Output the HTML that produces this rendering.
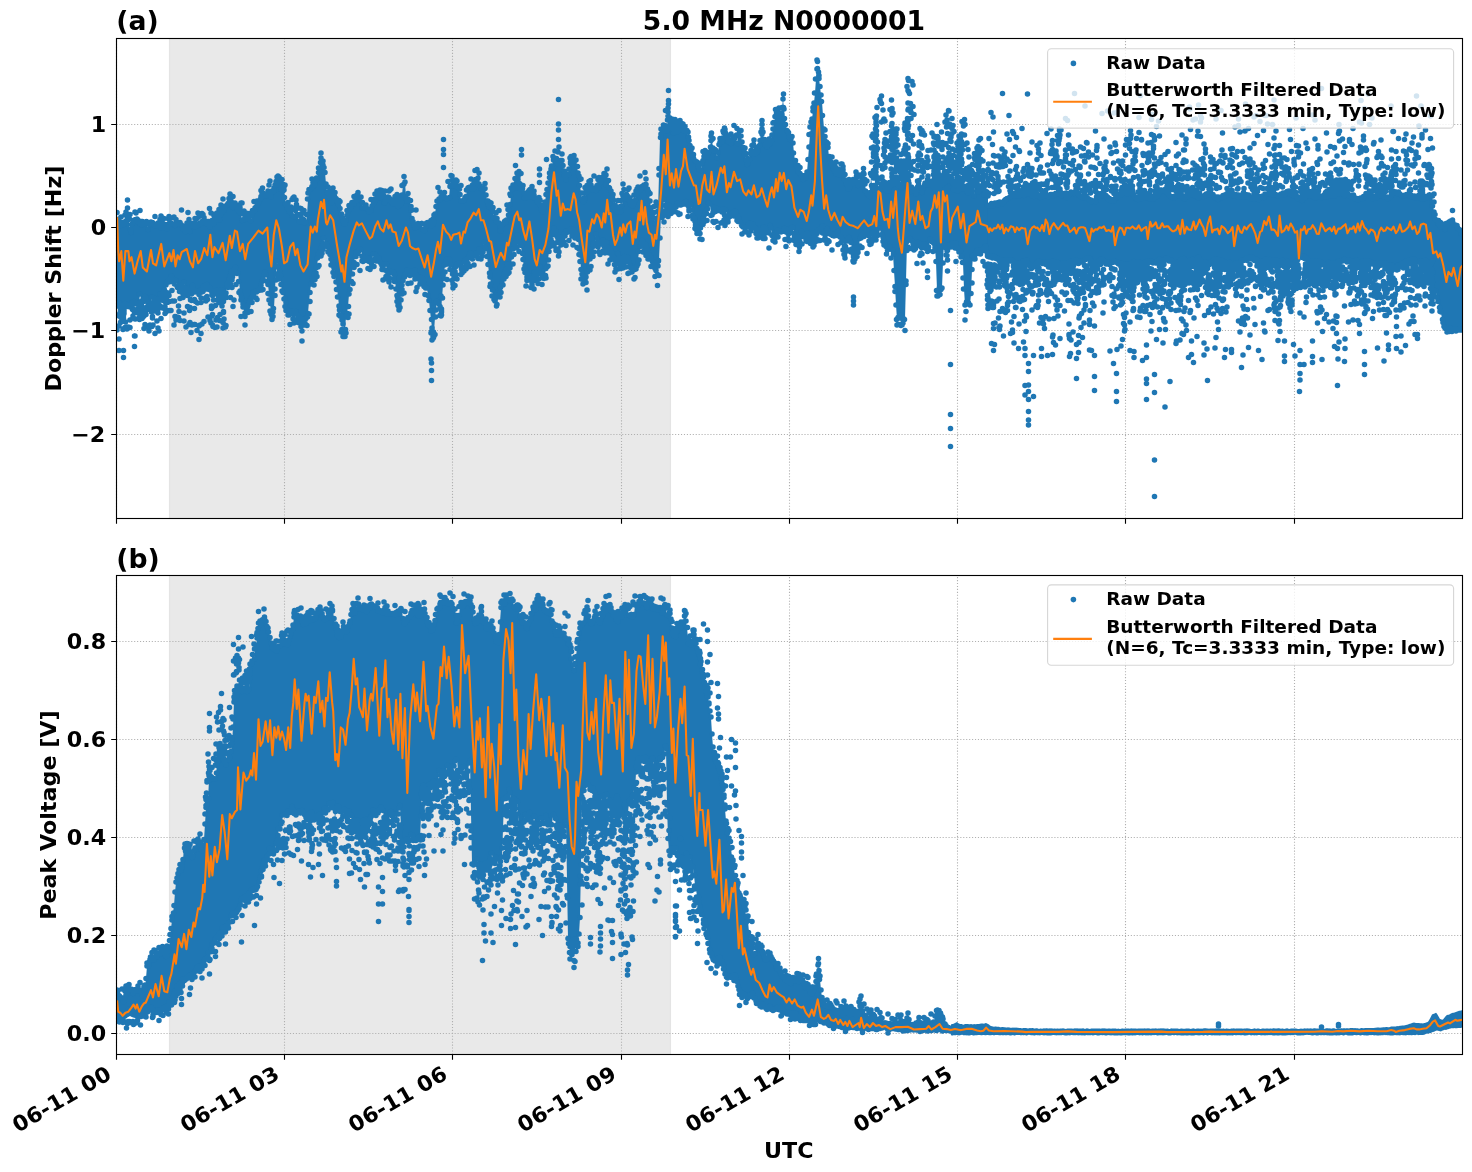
<!DOCTYPE html>
<html lang="en">
<head>
<meta charset="utf-8">
<title>5.0 MHz N0000001</title>
<style>
html,body{margin:0;padding:0;background:#fff;}
body{width:1472px;height:1172px;overflow:hidden;}
svg{display:block;}
svg text{font-family:"DejaVu Sans","Liberation Sans",sans-serif;font-weight:bold;fill:#000;}
</style>
</head>
<body>
<svg width="1472" height="1172" viewBox="0 0 1472 1172">
<rect width="1472" height="1172" fill="#fff"/>
<g id="panel-a">
<rect x="116.5" y="38.5" width="1346.0" height="480.0" fill="#fff"/>
<clipPath id="ca"><rect x="116.5" y="38.5" width="1346.0" height="480.0"/></clipPath>
<rect x="169.5" y="36.5" width="501.0" height="484.0" fill="#d3d3d3" fill-opacity="0.5" stroke="#d3d3d3" stroke-opacity="0.5" stroke-width="1.11" clip-path="url(#ca)"/>
<path d="M116.50 518.5V38.5M284.50 518.5V38.5M452.50 518.5V38.5M621.50 518.5V38.5M789.50 518.5V38.5M957.50 518.5V38.5M1125.50 518.5V38.5M1294.50 518.5V38.5M116.5 124.50H1462.5M116.5 227.50H1462.5M116.5 330.50H1462.5M116.5 434.50H1462.5" fill="none" stroke="#b0b0b0" stroke-width="1.11" stroke-dasharray="1.11 1.83"/>
<g clip-path="url(#ca)"><path d="M117 221.1L118 221.6L119 221.8L120 225.8L121 224.4L122 223.3L123 222.6L124 224.3L125 222.2L126 220.9L127 219.8L128 219.7L129 219.2L130 229.6L131 232.4L132 224.6L133 220.6L134 221.7L135 219.5L136 220.3L137 219.2L138 219.8L139 222.5L140 223.9L141 224.9L142 221.7L143 221.6L144 223.7L145 223.2L146 222.6L147 221.4L148 229.6L149 224.7L150 223.8L151 222.1L152 222.4L153 225L154 224L155 225.9L156 225.1L157 225.5L158 223.1L159 223.1L160 224.3L161 228L162 223.2L163 226.3L164 227.1L165 228L166 224.7L167 229.2L168 224.3L169 223.1L170 223.9L171 223.1L172 223.8L173 223.8L174 224.4L175 225.7L176 223.8L177 222.7L178 223.3L179 222.9L180 222.4L181 224.5L182 225.5L183 228.8L184 228L185 231.4L186 227.1L187 222.8L188 224.3L189 227.6L190 231.3L191 223.3L192 223.4L193 223.3L194 226.4L195 227.2L196 224.4L197 223.3L198 225.3L199 223.5L200 224L201 223L202 221.4L203 221.3L204 220.8L205 222.7L206 223.7L207 221.6L208 221.5L209 225.2L210 227L211 224.1L212 220.4L213 223.4L214 221.2L215 220L216 218.7L217 217.4L218 216.9L219 219.8L220 215.6L221 213.9L222 212.1L223 209.8L224 210.7L225 207.2L226 206.2L227 204.3L228 203.6L229 202.1L230 200.9L231 201.1L232 205.8L233 207.5L234 204.7L235 203.1L236 205.2L237 209.4L238 208.9L239 210.8L240 212L241 213.4L242 220.3L243 220.2L244 219.3L245 217.2L246 216.5L247 218.4L248 217L249 213.3L250 215.7L251 220.3L252 214.8L253 210.5L254 210.3L255 207.9L256 206.9L257 205.2L258 203.9L259 201.9L260 199L261 196.6L262 193.1L263 192.6L264 195.7L265 194.1L266 195.8L267 195.2L268 195.2L269 194.9L270 195L271 196.8L272 191L273 191.6L274 187.8L275 185.2L276 181.4L277 181.7L278 185L279 183.9L280 183.4L281 189.5L282 186.6L283 190.8L284 189.9L285 197.4L286 203.9L287 207.7L288 208L289 211.6L290 210.7L291 211.8L292 215.7L293 216.1L294 217L295 210.4L296 207.4L297 208.5L298 215.1L299 221.6L300 214.3L301 216.7L302 219.3L303 219.5L304 222.9L305 222.4L306 222L307 214.5L308 199.2L309 189.6L310 189.7L311 188.2L312 186.3L313 186.4L314 184.8L315 183.6L316 179.5L317 178.1L318 172.5L319 168L320 162.5L321 157.9L322 162.9L323 164.9L324 167.5L325 172.5L326 183.8L327 192.5L328 191.9L329 194.2L330 197.8L331 202.7L332 198.5L333 195.8L334 197.2L335 196.7L336 198.7L337 200.4L338 202.6L339 204.4L340 208.6L341 213.8L342 218.2L343 221.2L344 223.8L345 224L346 220.7L347 215.6L348 212L349 209.4L350 207.6L351 204.6L352 202.5L353 202.1L354 203.8L355 200.8L356 199.8L357 200.6L358 199.7L359 198.9L360 197.5L361 196.8L362 202.6L363 207.9L364 208.2L365 205.6L366 204.8L367 208.4L368 209.5L369 212L370 210.8L371 210.4L372 205.8L373 203.6L374 199.7L375 201.6L376 200L377 196.5L378 195L379 194.5L380 198.2L381 196.4L382 195.2L383 195.9L384 195.5L385 203.2L386 200.7L387 198.2L388 196.9L389 197.3L390 200.3L391 199.7L392 202.5L393 203.8L394 201.3L395 200L396 201.7L397 204.4L398 206.6L399 204L400 204.6L401 202.7L402 194.8L403 185L404 184L405 182.1L406 196.7L407 201L408 198.9L409 199.8L410 200.6L411 210.6L412 218.5L413 221.3L414 225.6L415 228L416 225.1L417 226.6L418 223.5L419 224.3L420 223.9L421 223.3L422 223.7L423 229.3L424 229.8L425 230.3L426 226.3L427 223L428 222.7L429 222.6L430 225L431 224.5L432 225.4L433 224.4L434 221.8L435 213.8L436 206.7L437 200.8L438 200.6L439 198.9L440 200.1L441 197.2L442 195.1L443 194L444 192.5L445 197.4L446 198.5L447 198.3L448 198L449 197.5L450 186.4L451 185.3L452 180.1L453 180.8L454 185.4L455 185.1L456 186.5L457 186.4L458 185.9L459 188.8L460 194.5L461 201L462 200.8L463 200.8L464 200.3L465 197.7L466 196.3L467 190.2L468 187.9L469 187.6L470 187.1L471 188.3L472 184.8L473 188.5L474 183.4L475 181.6L476 179.5L477 180.4L478 183.6L479 183.9L480 185.8L481 188.8L482 188.2L483 190.1L484 188.3L485 188.4L486 194.9L487 201.1L488 204.5L489 206.8L490 208.2L491 208L492 208.7L493 211.7L494 217.5L495 218.5L496 220.6L497 221.6L498 222.6L499 223.2L500 231L501 227.1L502 224.3L503 224L504 221.5L505 221.2L506 222.5L507 219.8L508 214.9L509 209.8L510 204.7L511 195.7L512 189.5L513 184.8L514 186L515 186.3L516 187.9L517 182.6L518 179.5L519 183.5L520 188.6L521 185L522 187.4L523 188.6L524 193.1L525 198.1L526 197.8L527 196.5L528 196.6L529 196.3L530 196.6L531 196.7L532 196.8L533 197.3L534 194.9L535 197.7L536 199.2L537 201.2L538 202.3L539 202.5L540 205.2L541 208.8L542 210.3L543 212.2L544 208.1L545 202.1L546 194.6L547 189.6L548 182.9L549 177.6L550 173.1L551 168.9L552 166.2L553 159.9L554 159.3L555 161L556 158.5L557 163.7L558 160.4L559 169.3L560 165.9L561 160.4L562 160.3L563 165.7L564 171.1L565 175.7L566 179.8L567 175.7L568 174.4L569 169.1L570 163.7L571 162.1L572 162.3L573 157.7L574 159L575 161.7L576 159.9L577 166.3L578 173.1L579 175.8L580 185.6L581 192.8L582 198.8L583 201.3L584 198.2L585 198.7L586 193.2L587 191.5L588 189.8L589 188.9L590 184.9L591 184.8L592 189.5L593 188.8L594 188.7L595 189.8L596 190.5L597 188.7L598 188.2L599 184.3L600 182L601 182.3L602 178.7L603 176.9L604 177.2L605 178.3L606 184.8L607 182L608 180.7L609 187.3L610 188L611 190.8L612 197.2L613 200.1L614 207L615 208.8L616 210.6L617 212.1L618 211.4L619 210.5L620 211.3L621 206.6L622 206.2L623 196.2L624 195.1L625 195.2L626 198.7L627 194.7L628 196.7L629 200.6L630 203.2L631 204.8L632 206.2L633 204.1L634 201.4L635 199.8L636 194.5L637 192.8L638 191.7L639 191.1L640 190.2L641 187.2L642 186.5L643 186.2L644 185.2L645 185.1L646 184.5L647 188.9L648 191.7L649 193.9L650 201.1L651 207.8L652 213.2L653 215.8L654 212.7L655 223.6L656 218.6L657 211.5L658 210.8L659 175L660 137.6L661 134L662 131.6L663 129L664 125.2L665 125.7L666 129.3L667 131L668 129.5L669 126.5L670 124.3L671 125L672 126.1L673 128.6L674 133L675 130.1L676 127.7L677 129.1L678 131.5L679 127.3L680 128.4L681 124.2L682 123.3L683 123.8L684 130.8L685 126.7L686 131.5L687 130.7L688 136.9L689 140.6L690 145.6L691 150.2L692 155.1L693 154.4L694 158L695 161.2L696 161.3L697 162.1L698 166.7L699 167.8L700 169.9L701 170.4L702 163.3L703 160.3L704 156.5L705 155L706 156.1L707 157.2L708 153.8L709 152L710 147.2L711 140.3L712 139.5L713 148L714 150.8L715 149.5L716 150.6L717 157.8L718 152.4L719 144.5L720 142.2L721 141.1L722 141.9L723 137.6L724 132.3L725 133L726 135.9L727 138.6L728 140.8L729 141.9L730 140.3L731 143.7L732 140.4L733 136.8L734 138.5L735 137.8L736 135.2L737 143.3L738 135.7L739 130.8L740 130.3L741 136.1L742 141.8L743 147.6L744 149.9L745 154.7L746 159.9L747 164.5L748 163.6L749 159.7L750 153.7L751 150.4L752 145.5L753 144.4L754 152.1L755 153.9L756 150.7L757 152.3L758 150.6L759 145.5L760 140.5L761 131.8L762 124.3L763 132.1L764 139.7L765 145.2L766 144.5L767 147L768 143.4L769 144.5L770 143.3L771 140.3L772 134.9L773 128.8L774 122.6L775 116.6L776 113L777 113.9L778 115.5L779 116.2L780 112.8L781 114.1L782 107.6L783 99L784 108.8L785 118.4L786 124.3L787 130.7L788 132.7L789 136.8L790 139.4L791 138.6L792 136.6L793 142.8L794 152.9L795 160.6L796 165.1L797 166.5L798 168.6L799 171.8L800 173.4L801 174.8L802 176.1L803 179.3L804 175.5L805 178.1L806 175.9L807 172.2L808 159.7L809 147L810 133.9L811 126.4L812 118.9L813 110.8L814 102.9L815 92.9L816 78.8L817 69L818 71.8L819 78.3L820 86.4L821 95.2L822 101.3L823 115.7L824 128.8L825 136.4L826 141.3L827 142.2L828 147.6L829 156.6L830 160.2L831 162L832 164.6L833 168.4L834 169.5L835 171.3L836 173.8L837 173.5L838 173.6L839 174.9L840 173.6L841 173L842 171.4L843 169.6L844 175L845 179.6L846 183.3L847 185.4L848 188.8L849 189L850 187L851 184.1L852 183.7L853 183.6L854 182.8L855 180.7L856 179.2L857 181.3L858 185.4L859 182.9L860 183.8L861 181.6L862 178.2L863 174.3L864 174.1L865 184L866 191.2L867 193.6L868 194.7L869 196.2L870 196.4L871 173.6L872 186.9L873 188.4L874 189.2L875 190.2L876 187.1L877 188.5L878 189.5L879 195.3L880 190L881 185.9L882 183.6L883 184.7L884 186.3L885 190L886 183.6L887 186.7L888 191.1L889 190.6L890 187.7L891 185.6L892 181.2L893 183.1L894 179.9L895 179.5L896 183.8L897 181.7L898 183.6L899 185.3L900 185.2L901 188.2L902 185.5L903 182.7L904 182.9L905 180.2L906 181L907 181.4L908 181.6L909 183.5L910 191.2L911 191.4L912 187.2L913 189.4L914 189.1L915 189.8L916 193.9L917 190.4L918 187.2L919 188.2L920 187.5L921 188L922 192.3L923 188.6L924 185.2L925 183.2L926 184.9L927 182.7L928 184.2L929 184.5L930 180.9L931 183.3L932 185.1L933 185.6L934 186.3L935 189.1L936 189.9L937 191L938 187.7L939 188.3L940 188.8L941 191.8L942 184.8L943 183.7L944 181.7L945 182.3L946 180.8L947 180.5L948 178.7L949 179L950 180.8L951 180L952 178.7L953 184L954 189.6L955 185.4L956 183.5L957 185L958 190.8L959 190.2L960 183.1L961 184.8L962 187.3L963 188.8L964 185.8L965 187.6L966 188L967 191.7L968 192.9L969 191.4L970 189.5L971 190.8L972 192.3L973 191L974 196L975 186L976 185L977 185.5L978 191.4L979 189.2L980 185.8L981 186.6L982 188.2L983 188.8L984 194.9L985 192.7L986 190.8L987 192.2L988 195.9L988 254.8L987 252.2L986 249L985 246.2L984 250.7L983 249.7L982 249.4L981 253.9L980 252.9L979 252.8L978 253.5L977 250.2L976 251.9L975 255.4L974 255.1L973 255.9L972 269.7L971 293.6L970 305.2L969 303L968 303.9L967 302.2L966 304.2L965 305.1L964 289L963 262.5L962 256.7L961 257.1L960 250.8L959 251.9L958 249.2L957 247.8L956 242.9L955 244.4L954 243.7L953 244L952 242.9L951 246.9L950 247L949 245.4L948 250.5L947 250.3L946 246.7L945 243.4L944 242L943 262.8L942 287.8L941 289.3L940 289.2L939 287.7L938 290.6L937 290.6L936 261.5L935 247.6L934 243.7L933 242.3L932 241.8L931 241.7L930 238.9L929 247L928 250.3L927 251.4L926 248.6L925 244.1L924 246.5L923 247.3L922 245.9L921 247.4L920 243.7L919 244.6L918 245.3L917 242.7L916 248.4L915 249.1L914 244.7L913 243.3L912 241.6L911 240.4L910 238.4L909 239.1L908 239.9L907 242.1L906 281.1L905 319.6L904 318.8L903 319.4L902 317.5L901 315.6L900 315.3L899 318.2L898 317.3L897 319.5L896 304.8L895 286.5L894 270.7L893 254.2L892 250.1L891 248.8L890 246.5L889 249.2L888 248.9L887 249.9L886 246.6L885 242.5L884 240.7L883 236.9L882 234.5L881 235.1L880 228.2L879 235L878 235.2L877 235.4L876 232L875 234.8L874 235.9L873 232.7L872 233.7L871 239.2L870 241.3L869 240.9L868 235.5L867 234L866 230.5L865 235.5L864 236.5L863 233.6L862 235.6L861 238L860 238.7L859 246L858 249.6L857 250.6L856 247.4L855 253.4L854 257.1L853 256L852 249L851 242.7L850 239L849 237.7L848 239.8L847 241.1L846 246.3L845 250.3L844 248.1L843 240.8L842 238.9L841 237.1L840 236.9L839 235L838 231.7L837 234.4L836 235.5L835 234.5L834 235.8L833 235.6L832 233.9L831 234.3L830 233.4L829 233.4L828 230.6L827 228.4L826 233L825 234.5L824 233.7L823 233L822 226.1L821 229.1L820 231.2L819 229.7L818 231.8L817 233.5L816 234.4L815 232.3L814 234L813 233.1L812 238.6L811 239.6L810 238.5L809 236.3L808 235.6L807 233L806 235.1L805 235.2L804 236.7L803 234.3L802 231.7L801 236.8L800 242L799 242.8L798 240L797 238.5L796 237.2L795 236.8L794 233.6L793 227.5L792 227.3L791 228.5L790 232L789 234L788 233.5L787 229.5L786 232.1L785 228.3L784 228.4L783 230.6L782 231.3L781 231.8L780 231.5L779 231.2L778 230.7L777 232.7L776 234.7L775 235L774 236.3L773 235.3L772 235.7L771 228L770 225.7L769 233.1L768 232.4L767 232.4L766 231.1L765 229.2L764 227.1L763 230.6L762 229.9L761 230.7L760 231.2L759 230.8L758 230.4L757 230.1L756 229.2L755 227.6L754 227.3L753 224.2L752 226.7L751 226.7L750 222.8L749 223.9L748 224.4L747 226.8L746 227.9L745 227.8L744 227.5L743 227L742 226.2L741 224.8L740 222L739 218.7L738 216.6L737 215.5L736 211.9L735 211.1L734 212.1L733 212.5L732 214.2L731 215.2L730 216.6L729 216.5L728 219L727 215.9L726 210L725 215.2L724 208.8L723 209.2L722 211.9L721 210.6L720 210.7L719 210.3L718 208.9L717 208.3L716 211.4L715 212.1L714 207.5L713 213.2L712 215.1L711 215.4L710 203.9L709 202.8L708 209L707 213.7L706 211.5L705 213.7L704 215.4L703 218.2L702 224.3L701 227.8L700 232.9L699 228.4L698 228.7L697 229.9L696 225L695 218.1L694 217.8L693 215.7L692 210L691 204.4L690 207.9L689 207.7L688 205.6L687 204.5L686 201.3L685 204.1L684 203L683 203.8L682 204.3L681 204.8L680 205L679 203.8L678 203.5L677 203.3L676 207L675 206.9L674 207.9L673 207.5L672 208L671 207.4L670 209.1L669 205.2L668 206.8L667 208.5L666 210L665 205.5L664 199.7L663 211L662 212.7L661 215.5L660 237.9L659 260.6L658 261.1L657 262L656 265.4L655 268.6L654 266.7L653 264.2L652 261.7L651 257.3L650 258.8L649 254.6L648 249.8L647 248.2L646 244.8L645 243.9L644 243.6L643 241.7L642 240.4L641 244L640 246.5L639 251.4L638 259.9L637 266.1L636 269.1L635 269.4L634 268.7L633 268.4L632 268.1L631 267.6L630 265.7L629 261.9L628 257.5L627 259.5L626 257.1L625 256.3L624 257.7L623 260.5L622 262.3L621 264.5L620 261.9L619 257.4L618 253.6L617 263.4L616 261.4L615 264.5L614 259.5L613 257.3L612 253.2L611 250.5L610 249.1L609 249.4L608 247.7L607 242.4L606 246.5L605 248.1L604 246L603 239.9L602 243.7L601 244L600 242.4L599 242L598 242.5L597 238.6L596 234.1L595 244.5L594 243.1L593 246.3L592 250.6L591 254.2L590 259L589 267L588 272.1L587 271.7L586 277L585 280.1L584 278.4L583 276.1L582 273.8L581 269.7L580 254.9L579 249.2L578 239.5L577 235.1L576 233.4L575 232.9L574 229.8L573 229.6L572 231.1L571 229.3L570 229.7L569 231.6L568 231.9L567 232.4L566 231L565 236.2L564 234.2L563 237.8L562 240.6L561 239.1L560 237.8L559 237L558 238.3L557 236.4L556 230.9L555 234.1L554 227.9L553 231.7L552 234.9L551 239.6L550 246.6L549 251.4L548 260L547 266.3L546 268.6L545 275.6L544 278.5L543 277L542 277.5L541 274L540 266.5L539 268.9L538 273.4L537 275.1L536 272.5L535 271.8L534 276.9L533 278.6L532 280.8L531 277.9L530 278.9L529 277.2L528 275.5L527 276.9L526 272.5L525 270.3L524 269L523 259.7L522 253.6L521 245.4L520 244L519 241.7L518 236.9L517 235L516 240.4L515 243.2L514 243.7L513 248.9L512 257.2L511 264.1L510 268.1L509 267.1L508 264L507 264.7L506 269.7L505 271.6L504 274.2L503 277.8L502 283.5L501 287.4L500 292.4L499 294.6L498 296.9L497 304.4L496 306.2L495 301.2L494 299.5L493 296.3L492 289.8L491 284.2L490 276.9L489 273.1L488 264.7L487 256.3L486 248.3L485 247.2L484 242.1L483 252.2L482 254.1L481 251.4L480 249.6L479 249.2L478 253L477 254.8L476 253.2L475 254.8L474 255.9L473 256.4L472 256.1L471 253.2L470 254.5L469 255.8L468 258.2L467 259L466 260.2L465 261.4L464 262.1L463 268.4L462 269L461 267.2L460 263.5L459 264.7L458 263.4L457 264.2L456 266.6L455 271.6L454 277L453 283.8L452 274.1L451 264.6L450 262.2L449 259.6L448 263.8L447 258.8L446 261.1L445 265.1L444 274.1L443 285.2L442 298.1L441 311.1L440 306.5L439 303.4L438 303.3L437 301.6L436 309.8L435 317L434 332L433 333.8L432 327.9L431 319.4L430 310.5L429 300.5L428 295.3L427 288.1L426 287.7L425 287.9L424 286.3L423 281.8L422 278.4L421 278.8L420 277.2L419 278.9L418 278.4L417 276.6L416 274.5L415 269.8L414 274.9L413 272.9L412 273.1L411 271.7L410 272.9L409 271.6L408 271.4L407 270L406 274.1L405 274.8L404 277.2L403 280.3L402 285.1L401 290.4L400 299L399 303.9L398 297.1L397 295.3L396 288.9L395 281.4L394 274.4L393 271.9L392 273.2L391 271.3L390 272L389 273.7L388 275L387 271.7L386 264.1L385 270.1L384 264.4L383 267.2L382 265.6L381 263.7L380 262.2L379 258.5L378 258L377 256.2L376 256.2L375 254L374 259.4L373 254.1L372 260.6L371 263.4L370 259.5L369 261.6L368 258.6L367 260.3L366 259.1L365 258.4L364 258.4L363 256.7L362 256.7L361 249.3L360 249.5L359 251.5L358 253.3L357 253.2L356 252.2L355 256.6L354 262.7L353 266.6L352 273.8L351 281.4L350 289.7L349 294.2L348 306.7L347 313.6L346 316.9L345 329.3L344 330.5L343 323.9L342 319.9L341 315.5L340 310L339 305.8L338 296.8L337 289.3L336 281.8L335 275.8L334 268L333 265.2L332 261.4L331 259L330 254.4L329 248.3L328 247.2L327 244.2L326 244.6L325 244.8L324 238.2L323 243.5L322 245.4L321 248L320 251.7L319 253.8L318 258L317 267.6L316 273.1L315 275.7L314 274.1L313 280.1L312 278.7L311 284.2L310 292.3L309 301.5L308 313.3L307 316.9L306 318.7L305 319L304 320.1L303 319.4L302 321.4L301 320.7L300 318.2L299 317.7L298 317.8L297 315.2L296 311.3L295 314.2L294 313.1L293 313.9L292 311.2L291 311.4L290 312.8L289 315.1L288 315.2L287 309.3L286 302.4L285 298.5L284 298.9L283 292.4L282 291.2L281 284.7L280 275.3L279 271L278 266.8L277 261.2L276 274.1L275 289L274 308.5L273 312L272 316.1L271 310.9L270 303.5L269 294.1L268 284.7L267 281.7L266 274.6L265 272L264 274.8L263 278.4L262 281.5L261 285.5L260 289.4L259 290.6L258 290.7L257 291.9L256 291.1L255 292.7L254 292.1L253 293.7L252 296.5L251 298.7L250 300.7L249 302.3L248 305.7L247 307.1L246 309L245 312.9L244 306L243 303.8L242 297.5L241 295.2L240 290.9L239 281.6L238 273.2L237 273.5L236 267.6L235 269.6L234 272.4L233 277L232 274.7L231 271.7L230 276L229 279.1L228 282.5L227 283.9L226 292.8L225 295.7L224 294.9L223 290.5L222 291.6L221 291L220 290.6L219 295.1L218 293.1L217 293L216 290.4L215 291.5L214 294.3L213 294.2L212 294L211 291.1L210 288.2L209 287.1L208 286.5L207 284.5L206 285.3L205 286.1L204 286L203 287.2L202 292.2L201 289.9L200 292.7L199 294.7L198 291.8L197 291.5L196 291.4L195 292.1L194 291.2L193 285.4L192 287.9L191 292L190 292.9L189 291.8L188 289.8L187 291.4L186 288.8L185 287.8L184 282L183 284.8L182 287.7L181 285.4L180 287.4L179 286.7L178 286.4L177 285.8L176 280.5L175 284.1L174 281.8L173 282L172 279.8L171 275.9L170 279.6L169 282.1L168 280.4L167 281.8L166 285L165 289.9L164 292.4L163 294.8L162 296.1L161 295.2L160 293.8L159 298.9L158 300.3L157 301.8L156 302L155 298.6L154 301.5L153 302.7L152 297.2L151 303.8L150 303.3L149 305.7L148 305.8L147 301.9L146 297.5L145 296.5L144 299.7L143 301.7L142 303.9L141 301L140 294.1L139 303.9L138 304.1L137 303.3L136 304L135 301.9L134 301.3L133 302.1L132 304.8L131 307.1L130 306.9L129 305.6L128 306.7L127 306.6L126 304.4L125 303.3L124 305.9L123 307L122 307.8L121 305.4L120 304.5L119 302.6L118 305.4L117 305.8Z" fill="#1f77b4"/>
<path d="M987.5 205.3L988.5 205.6L989.5 206.1L990.5 204.7L991.5 203.7L992.5 204.9L993.5 205.9L994.5 203L995.5 203.9L996.5 203.2L997.5 205.2L998.5 202.4L999.5 202.2L1000.5 202.7L1001.5 202.7L1002.5 203.4L1003.5 201.8L1004.5 200.6L1005.5 199.7L1006.5 198.3L1007.5 198.7L1008.5 198.1L1009.5 196.9L1010.5 195.3L1011.5 194.3L1012.5 193.6L1013.5 195.3L1014.5 194.6L1015.5 192.7L1016.5 195.3L1017.5 196L1018.5 195.4L1019.5 195.5L1020.5 193.8L1021.5 193.6L1022.5 193.3L1023.5 194.6L1024.5 195.7L1025.5 191.8L1026.5 192.2L1027.5 194.2L1028.5 192.8L1029.5 193.6L1030.5 194.2L1031.5 195.3L1032.5 196.2L1033.5 194.2L1034.5 196.3L1035.5 195.1L1036.5 194.4L1037.5 196L1038.5 195.4L1039.5 196.4L1040.5 197.6L1041.5 197.2L1042.5 195.1L1043.5 194.8L1044.5 195.4L1045.5 195.2L1046.5 196L1047.5 195.1L1048.5 196.3L1049.5 195.5L1050.5 194.3L1051.5 195.7L1052.5 194.7L1053.5 195.4L1054.5 195L1055.5 193.7L1056.5 193.9L1057.5 193.1L1058.5 194L1059.5 194.1L1060.5 194.8L1061.5 195.6L1062.5 193.7L1063.5 194.7L1064.5 194.7L1065.5 194.1L1066.5 197.3L1067.5 196.6L1068.5 195.6L1069.5 193.5L1070.5 191.9L1071.5 193L1072.5 192.6L1073.5 193.4L1074.5 192.1L1075.5 191.6L1076.5 192.2L1077.5 193.3L1078.5 194L1079.5 195.6L1080.5 196.6L1081.5 197L1082.5 196.9L1083.5 198.1L1084.5 198L1085.5 197.7L1086.5 195.9L1087.5 197.8L1088.5 198.9L1089.5 199.8L1090.5 200.2L1091.5 201.5L1092.5 201.1L1093.5 201L1094.5 201.2L1095.5 201.5L1096.5 197.2L1097.5 197.6L1098.5 196.6L1099.5 195.6L1100.5 196L1101.5 195L1102.5 195L1103.5 195.2L1104.5 194.4L1105.5 195.4L1106.5 196.8L1107.5 196.8L1108.5 199.6L1109.5 198.3L1110.5 200.4L1111.5 199.5L1112.5 200.2L1113.5 200.7L1114.5 200.8L1115.5 197.9L1116.5 197.8L1117.5 195.6L1118.5 195.3L1119.5 194L1120.5 194.3L1121.5 194.7L1122.5 193.5L1123.5 193.2L1124.5 192.2L1125.5 193.2L1126.5 193.4L1127.5 193.7L1128.5 193L1129.5 191.8L1130.5 192.8L1131.5 192.4L1132.5 192.8L1133.5 194.9L1134.5 196.4L1135.5 197.4L1136.5 198.9L1137.5 198.1L1138.5 199.5L1139.5 199L1140.5 199.2L1141.5 198.4L1142.5 197.4L1143.5 197.6L1144.5 196.7L1145.5 197.3L1146.5 196.7L1147.5 197.8L1148.5 197.2L1149.5 198.8L1150.5 199L1151.5 197.1L1152.5 196.8L1153.5 198.8L1154.5 195.4L1155.5 196.9L1156.5 196.6L1157.5 195.2L1158.5 194L1159.5 192L1160.5 190.2L1161.5 189.8L1162.5 190.7L1163.5 190.3L1164.5 191.2L1165.5 189L1166.5 189L1167.5 190.6L1168.5 192.8L1169.5 195.3L1170.5 196.6L1171.5 196.8L1172.5 197.7L1173.5 196.6L1174.5 197.4L1175.5 196L1176.5 196.1L1177.5 195.4L1178.5 195.5L1179.5 194.6L1180.5 194.6L1181.5 195L1182.5 196.8L1183.5 196.9L1184.5 199.2L1185.5 196.6L1186.5 197.3L1187.5 196.5L1188.5 195.3L1189.5 194.4L1190.5 195.1L1191.5 195.2L1192.5 193.9L1193.5 194.2L1194.5 195.4L1195.5 195.3L1196.5 196.2L1197.5 196.9L1198.5 198.1L1199.5 197.4L1200.5 196.4L1201.5 196L1202.5 196.2L1203.5 196.6L1204.5 196.1L1205.5 193.9L1206.5 194.5L1207.5 193.6L1208.5 194.5L1209.5 194L1210.5 194.8L1211.5 195.1L1212.5 194.6L1213.5 196L1214.5 196.9L1215.5 197.9L1216.5 197.1L1217.5 197.1L1218.5 199.3L1219.5 197.8L1220.5 197.4L1221.5 197.4L1222.5 195.5L1223.5 196.4L1224.5 195L1225.5 196.1L1226.5 194L1227.5 192.3L1228.5 195L1229.5 194.4L1230.5 193.7L1231.5 193.8L1232.5 193.5L1233.5 196.2L1234.5 195.3L1235.5 194.5L1236.5 196.3L1237.5 194.9L1238.5 195.1L1239.5 195.9L1240.5 197.2L1241.5 196.7L1242.5 194.3L1243.5 195.5L1244.5 195.2L1245.5 197.2L1246.5 194.7L1247.5 196.7L1248.5 195.1L1249.5 196.5L1250.5 198.3L1251.5 198.9L1252.5 197.3L1253.5 197.5L1254.5 196L1255.5 197.3L1256.5 198.8L1257.5 197.3L1258.5 199.5L1259.5 196.4L1260.5 197.2L1261.5 197.1L1262.5 196L1263.5 197.5L1264.5 196.1L1265.5 193.8L1266.5 194.3L1267.5 193.8L1268.5 193.6L1269.5 190.5L1270.5 191.5L1271.5 193L1272.5 194.4L1273.5 195.1L1274.5 194.8L1275.5 194.3L1276.5 195.6L1277.5 195.8L1278.5 196L1279.5 195.1L1280.5 194.6L1281.5 193.9L1282.5 192.9L1283.5 194.6L1284.5 194.6L1285.5 194.1L1286.5 192.1L1287.5 191.6L1288.5 192.7L1289.5 192.2L1290.5 193.9L1291.5 194.9L1292.5 194.6L1293.5 195.3L1294.5 194.1L1295.5 194.4L1296.5 196.1L1297.5 198.4L1298.5 197.6L1299.5 197.7L1300.5 196.8L1301.5 200.3L1302.5 197L1303.5 196.7L1304.5 197.2L1305.5 198.2L1306.5 196L1307.5 194.8L1308.5 195.3L1309.5 195.2L1310.5 194.5L1311.5 195.6L1312.5 196.2L1313.5 196.8L1314.5 197.2L1315.5 197.8L1316.5 197.2L1317.5 195L1318.5 195.6L1319.5 196.5L1320.5 196.3L1321.5 197.3L1322.5 196.3L1323.5 195.4L1324.5 194.5L1325.5 197L1326.5 196.4L1327.5 196.6L1328.5 196.1L1329.5 195.2L1330.5 196.2L1331.5 195.8L1332.5 194.6L1333.5 195.9L1334.5 196.2L1335.5 195L1336.5 193.1L1337.5 193L1338.5 193.7L1339.5 192.5L1340.5 192.9L1341.5 192.1L1342.5 193.8L1343.5 193.5L1344.5 195.3L1345.5 194.2L1346.5 194.3L1347.5 193.7L1348.5 195.3L1349.5 195.2L1350.5 195.6L1351.5 197.2L1352.5 196.9L1353.5 194.9L1354.5 198.4L1355.5 197.8L1356.5 199.1L1357.5 199.6L1358.5 200.2L1359.5 198.4L1360.5 197.9L1361.5 198.4L1362.5 198.5L1363.5 196.4L1364.5 196.2L1365.5 195.3L1366.5 194.9L1367.5 194.4L1368.5 193.5L1369.5 193.9L1370.5 194.6L1371.5 197.6L1372.5 198.3L1373.5 196.5L1374.5 196.9L1375.5 197.1L1376.5 197.7L1377.5 195.8L1378.5 195.7L1379.5 195.7L1380.5 195.3L1381.5 196.2L1382.5 195.7L1383.5 196.7L1384.5 197.2L1385.5 196.9L1386.5 197.2L1387.5 198.3L1388.5 197.2L1389.5 197.5L1390.5 196.7L1391.5 193.8L1392.5 193.7L1393.5 191.1L1394.5 192L1395.5 192L1396.5 192L1397.5 193.6L1398.5 192.9L1399.5 193.8L1400.5 194.5L1401.5 195.4L1402.5 195.3L1403.5 195.9L1404.5 194.8L1405.5 195.1L1406.5 194.6L1407.5 195.2L1408.5 195.2L1409.5 196.1L1410.5 195.5L1411.5 196.5L1412.5 196.2L1413.5 196.2L1414.5 195.8L1415.5 198L1416.5 196.3L1417.5 197.6L1418.5 195.6L1419.5 197.4L1420.5 198.2L1421.5 199L1422.5 197.2L1423.5 198.9L1424.5 196.2L1425.5 196.4L1426.5 197.5L1427.5 196.6L1428.5 195.2L1429.5 195.1L1430.5 195L1431.5 195.9L1432.5 196.2L1432.5 261.2L1431.5 262.5L1430.5 263.4L1429.5 263.7L1428.5 263.1L1427.5 261.5L1426.5 261.8L1425.5 260.3L1424.5 261.9L1423.5 262.5L1422.5 261.7L1421.5 261.1L1420.5 261.3L1419.5 261.6L1418.5 262.1L1417.5 261.9L1416.5 262.1L1415.5 262.1L1414.5 259.3L1413.5 260.1L1412.5 259.6L1411.5 259.6L1410.5 259.8L1409.5 260.1L1408.5 260.9L1407.5 261.4L1406.5 260.8L1405.5 260.8L1404.5 262.6L1403.5 263.3L1402.5 263L1401.5 263.9L1400.5 266.4L1399.5 266.5L1398.5 265.4L1397.5 266.7L1396.5 267L1395.5 267.3L1394.5 267.8L1393.5 267.7L1392.5 267.8L1391.5 268.5L1390.5 266.3L1389.5 265.7L1388.5 266.8L1387.5 266.4L1386.5 265.2L1385.5 263.2L1384.5 265L1383.5 263.7L1382.5 263.2L1381.5 265.1L1380.5 265.6L1379.5 263.7L1378.5 265L1377.5 265.3L1376.5 266.3L1375.5 264.4L1374.5 263L1373.5 262.8L1372.5 264.1L1371.5 262.5L1370.5 261.9L1369.5 261.6L1368.5 261L1367.5 261.4L1366.5 261.7L1365.5 262.8L1364.5 261.8L1363.5 262.2L1362.5 261L1361.5 262.4L1360.5 262.7L1359.5 262.3L1358.5 263.3L1357.5 261.5L1356.5 260.1L1355.5 261.7L1354.5 261.8L1353.5 262.4L1352.5 261.7L1351.5 262.4L1350.5 261.7L1349.5 260.4L1348.5 261.2L1347.5 262.2L1346.5 261L1345.5 259.8L1344.5 259.4L1343.5 259.7L1342.5 261.1L1341.5 261.4L1340.5 261.3L1339.5 261.3L1338.5 261.1L1337.5 265.5L1336.5 264.6L1335.5 263.5L1334.5 264.5L1333.5 263L1332.5 263.3L1331.5 263.9L1330.5 263.4L1329.5 263.7L1328.5 262.3L1327.5 264.3L1326.5 265.6L1325.5 265.2L1324.5 264.9L1323.5 265.2L1322.5 263.7L1321.5 262.5L1320.5 261.6L1319.5 261.5L1318.5 261.8L1317.5 261.7L1316.5 261.7L1315.5 262.1L1314.5 261.3L1313.5 261.7L1312.5 260.9L1311.5 262.9L1310.5 262.6L1309.5 263.1L1308.5 261.4L1307.5 259.3L1306.5 258.2L1305.5 258.3L1304.5 258.4L1303.5 256.2L1302.5 257.5L1301.5 256.6L1300.5 257.2L1299.5 255.4L1298.5 258.8L1297.5 259.9L1296.5 262.7L1295.5 262.1L1294.5 262.9L1293.5 264.4L1292.5 264.5L1291.5 264.7L1290.5 264L1289.5 264.8L1288.5 264.4L1287.5 261.5L1286.5 261.9L1285.5 261.9L1284.5 263.3L1283.5 263.3L1282.5 260.7L1281.5 262L1280.5 261.5L1279.5 261.6L1278.5 261L1277.5 261.3L1276.5 260.4L1275.5 260.9L1274.5 260.3L1273.5 262.1L1272.5 260.6L1271.5 260.1L1270.5 259.7L1269.5 262.7L1268.5 262.5L1267.5 261.5L1266.5 259.2L1265.5 259.8L1264.5 261.9L1263.5 262.3L1262.5 262.1L1261.5 261.5L1260.5 261L1259.5 261.6L1258.5 262L1257.5 260.2L1256.5 259.4L1255.5 260.7L1254.5 260.6L1253.5 258.9L1252.5 257.5L1251.5 258.9L1250.5 258.5L1249.5 256.8L1248.5 258.3L1247.5 260.5L1246.5 258.2L1245.5 258.8L1244.5 260.1L1243.5 260.4L1242.5 261.1L1241.5 260.7L1240.5 264.4L1239.5 262.9L1238.5 263.6L1237.5 264.4L1236.5 263L1235.5 262.8L1234.5 265.4L1233.5 264.6L1232.5 265.5L1231.5 265.5L1230.5 264.4L1229.5 262.5L1228.5 262.9L1227.5 264.3L1226.5 263.7L1225.5 262.4L1224.5 263.4L1223.5 263.6L1222.5 260.7L1221.5 260.1L1220.5 260L1219.5 261.2L1218.5 260.1L1217.5 259L1216.5 261L1215.5 260.7L1214.5 259.7L1213.5 260.1L1212.5 261L1211.5 263.3L1210.5 262.1L1209.5 264.5L1208.5 265.1L1207.5 263.7L1206.5 263.2L1205.5 261.9L1204.5 263L1203.5 262.5L1202.5 262.3L1201.5 261.7L1200.5 260.4L1199.5 259.7L1198.5 257L1197.5 258.2L1196.5 260.9L1195.5 260.2L1194.5 261.1L1193.5 260.3L1192.5 259.4L1191.5 260.1L1190.5 259.9L1189.5 260.9L1188.5 260.8L1187.5 260.9L1186.5 261.6L1185.5 260.5L1184.5 259L1183.5 258.7L1182.5 261.1L1181.5 259.7L1180.5 260.7L1179.5 262L1178.5 262L1177.5 263.4L1176.5 265.7L1175.5 265L1174.5 264.4L1173.5 262.1L1172.5 262.2L1171.5 260.4L1170.5 260.9L1169.5 260.9L1168.5 259.9L1167.5 258.4L1166.5 258.9L1165.5 258.2L1164.5 259.9L1163.5 261L1162.5 260.4L1161.5 260.9L1160.5 260.8L1159.5 259.1L1158.5 260.2L1157.5 261.1L1156.5 261.7L1155.5 262.8L1154.5 261.9L1153.5 262.9L1152.5 261.9L1151.5 261.5L1150.5 262.2L1149.5 262.4L1148.5 261.1L1147.5 261L1146.5 262L1145.5 262.5L1144.5 262.5L1143.5 263.5L1142.5 264.8L1141.5 263L1140.5 264.2L1139.5 262.3L1138.5 263.4L1137.5 262.1L1136.5 262.9L1135.5 261.9L1134.5 261.3L1133.5 262.3L1132.5 264.3L1131.5 263.4L1130.5 266L1129.5 265.5L1128.5 267.2L1127.5 267.2L1126.5 265.2L1125.5 265.1L1124.5 263.8L1123.5 265.3L1122.5 263.8L1121.5 263.5L1120.5 263.1L1119.5 263L1118.5 262.9L1117.5 262.9L1116.5 261.8L1115.5 261.8L1114.5 260.9L1113.5 261.3L1112.5 262.6L1111.5 263L1110.5 263.4L1109.5 264.3L1108.5 262.3L1107.5 262.5L1106.5 263.4L1105.5 264L1104.5 261.6L1103.5 260.6L1102.5 259.4L1101.5 258.8L1100.5 260.5L1099.5 262.2L1098.5 261.2L1097.5 261.9L1096.5 262.5L1095.5 263.9L1094.5 264.7L1093.5 262.6L1092.5 262.4L1091.5 260.5L1090.5 258.6L1089.5 259.6L1088.5 259.2L1087.5 258.6L1086.5 258.5L1085.5 259.3L1084.5 259.9L1083.5 261.1L1082.5 262.2L1081.5 261.8L1080.5 261.3L1079.5 262.2L1078.5 263.4L1077.5 263L1076.5 260.5L1075.5 260.6L1074.5 261L1073.5 261.4L1072.5 263.4L1071.5 263.9L1070.5 261.6L1069.5 263L1068.5 263.3L1067.5 263.2L1066.5 264.4L1065.5 264.4L1064.5 263L1063.5 264.2L1062.5 263.6L1061.5 264.2L1060.5 264.1L1059.5 264.2L1058.5 264L1057.5 262.4L1056.5 262.3L1055.5 264L1054.5 262.7L1053.5 262.3L1052.5 261.2L1051.5 261.9L1050.5 263.3L1049.5 264.3L1048.5 262L1047.5 264.5L1046.5 264.3L1045.5 262.4L1044.5 262.8L1043.5 261.9L1042.5 263.3L1041.5 262.4L1040.5 261.5L1039.5 262.3L1038.5 260.8L1037.5 261.8L1036.5 263.6L1035.5 264.5L1034.5 265.7L1033.5 266.8L1032.5 266.1L1031.5 266L1030.5 266.7L1029.5 265.1L1028.5 263.9L1027.5 262.8L1026.5 260.1L1025.5 261.7L1024.5 261.6L1023.5 261L1022.5 263L1021.5 262.8L1020.5 265L1019.5 265.2L1018.5 263.8L1017.5 262.9L1016.5 263.9L1015.5 263.2L1014.5 263.1L1013.5 261.8L1012.5 260.9L1011.5 260.1L1010.5 260.8L1009.5 261.1L1008.5 260.4L1007.5 260.4L1006.5 260.4L1005.5 261.8L1004.5 260.6L1003.5 260.3L1002.5 261.2L1001.5 260.8L1000.5 260.6L999.5 259.4L998.5 260.4L997.5 259L996.5 258.1L995.5 258.3L994.5 256.8L993.5 256.4L992.5 258L991.5 255.9L990.5 256.8L989.5 256.8L988.5 256.6L987.5 255.9Z" fill="#1f77b4"/>
<path d="M1432 202.1L1433 205.8L1434 211.9L1435 214.6L1436 219.4L1437 220.7L1438 220.5L1439 224L1440 222.3L1441 226.4L1442 224.6L1443 223.8L1444 227.1L1445 229.5L1446 223.7L1447 225L1448 223.3L1449 221.8L1450 221.1L1451 221.2L1452 219.9L1453 223L1454 224.3L1455 224.9L1456 225.4L1457 225.5L1458 227.3L1459 229L1460 229.9L1461 230.7L1462 234L1463 234.6L1464 234L1465 232.6L1465 328.9L1464 329.5L1463 329.8L1462 328.8L1461 329.9L1460 330.2L1459 329.6L1458 329.8L1457 328.8L1456 331.2L1455 328.8L1454 330L1453 329.8L1452 331.7L1451 327.9L1450 331.6L1449 329.5L1448 331.3L1447 332L1446 328.6L1445 328.1L1444 326.3L1443 322.5L1442 319.4L1441 312.2L1440 311.5L1439 307.3L1438 301.5L1437 297.4L1436 291.2L1435 290.3L1434 294L1433 293.6L1432 291.3Z" fill="#1f77b4"/>
<path d="M116.5 221h0M117 212.5h0M117 306h0M117 315.5h0M117 330h0M118 221.5h0M118 305.5h0M118 326h0M119 219h0M119 222h0M119 302.5h0M119 326h0M119 339h0M119 350.5h0M120 226h0M120 304.5h0M120 313h0M120 314.5h0M120 316.5h0M120.5 224.5h0M120.5 307.5h0M120.5 308.5h0M120.5 310.5h0M120.5 316.5h0M120.5 322.5h0M121 217h0M121 305.5h0M121 307.5h0M121 321.5h0M121 322h0M121.5 316.5h0M122 223.5h0M122 308h0M122.5 309h0M122.5 310h0M122.5 311.5h0M123 222.5h0M123 307h0M123 329.5h0M123.5 311.5h0M123.5 315.5h0M123.5 318.5h0M123.5 350.5h0M123.5 357.5h0M124 224.5h0M124 310.5h0M124 312h0M124 313.5h0M124 328.5h0M124.5 306h0M125 215h0M125 222h0M125 303.5h0M125 327.5h0M125.5 322h0M126 212h0M126 221h0M126 304.5h0M127 220h0M127 306.5h0M127 329h0M127.5 200h0M127.5 208h0M128 215h0M128 306.5h0M128 327h0M128.5 219.5h0M129 305.5h0M129.5 219h0M130 214.5h0M130 307h0M130 320h0M130 327.5h0M130.5 229.5h0M131 232.5h0M131.5 224.5h0M131.5 307h0M132 305h0M132 308h0M132.5 302h0M132.5 309.5h0M133 220.5h0M133 316h0M133.5 309h0M134 221.5h0M134 301.5h0M134 311h0M134.5 312.5h0M134.5 336h0M134.5 346.5h0M135 212h0M135 302h0M135 319h0M135 336h0M135.5 219.5h0M135.5 319h0M136 213h0M136 220.5h0M136.5 304h0M137 219h0M137.5 303.5h0M138 220h0M138 304h0M138 313h0M138.5 308.5h0M138.5 310h0M139 222.5h0M139 304h0M139.5 294h0M139.5 305h0M139.5 316h0M139.5 319.5h0M140 210.5h0M140 224h0M140.5 313h0M141 313h0M141.5 221.5h0M141.5 225h0M141.5 301h0M141.5 304h0M141.5 307h0M141.5 317.5h0M142 310.5h0M142 316h0M142 318.5h0M142.5 221.5h0M143 317h0M143.5 223.5h0M143.5 301.5h0M143.5 315h0M144 299.5h0M144 316h0M144 328.5h0M144.5 308h0M144.5 310.5h0M145 223h0M145 296.5h0M145 324.5h0M145.5 312.5h0M146 222.5h0M146 297.5h0M146 314.5h0M146.5 221.5h0M147 307h0M147 326.5h0M147.5 302h0M148 229.5h0M148 306h0M148.5 309h0M149 224.5h0M149 305.5h0M149 327.5h0M149 331h0M149.5 308.5h0M149.5 309.5h0M150 224h0M150 303.5h0M150 325h0M151 222h0M151 304h0M151.5 305.5h0M151.5 312h0M152 297h0M152 326.5h0M152.5 222.5h0M152.5 311h0M152.5 316.5h0M152.5 318h0M153 302.5h0M153 306h0M153 308.5h0M153 325h0M153.5 225h0M154 224h0M154 301.5h0M154 308h0M154.5 303.5h0M154.5 309.5h0M154.5 310h0M155 216.5h0M155 226h0M155 298.5h0M155 311h0M155 333.5h0M155.5 302h0M155.5 303.5h0M156 225h0M156.5 304h0M156.5 309.5h0M157 225.5h0M157 303h0M157 321h0M157.5 302h0M157.5 310.5h0M158 223h0M158 302.5h0M158 303.5h0M158 313h0M158 328h0M158.5 300.5h0M158.5 308.5h0M159 299h0M159 300.5h0M159 305h0M159 331h0M159.5 223h0M159.5 224.5h0M160 219.5h0M160 294h0M160 306h0M161 216h0M161 228h0M161 295h0M161 299h0M161 318.5h0M162 296h0M162.5 223h0M162.5 226.5h0M162.5 295h0M162.5 308h0M163 300.5h0M163.5 307h0M163.5 308h0M164 218.5h0M164 227h0M164 292.5h0M164.5 290h0M164.5 297h0M165 301.5h0M165 307h0M165 309h0M165 313.5h0M165.5 224.5h0M165.5 228h0M165.5 292h0M165.5 302h0M166 285h0M166 312h0M166.5 297.5h0M167 229h0M167 282h0M167.5 302.5h0M168 218.5h0M168 302h0M168.5 224.5h0M168.5 280.5h0M168.5 293h0M169 216.5h0M169 282h0M169 295.5h0M169 301.5h0M169 310.5h0M169.5 223h0M169.5 224h0M169.5 279.5h0M169.5 301.5h0M171 218h0M171 223h0M171 310.5h0M171.5 224h0M171.5 276h0M172 280h0M172 290.5h0M172.5 301h0M173 224h0M173 282h0M174 217h0M174 224.5h0M174 282h0M174 325h0M174.5 284h0M174.5 301h0M175 225.5h0M175 316.5h0M176 219.5h0M176 224h0M176 280.5h0M176 320h0M177 222.5h0M177 286h0M177 317h0M177.5 287.5h0M178 286.5h0M178 318.5h0M178.5 223.5h0M178.5 306h0M178.5 317.5h0M179 286.5h0M179 311.5h0M179.5 223h0M179.5 291.5h0M180 222.5h0M180 287.5h0M180 298.5h0M180 320.5h0M181 224.5h0M181 285.5h0M181.5 210h0M181.5 287.5h0M181.5 291.5h0M182 225.5h0M182.5 285h0M183 229h0M183 294h0M183 297.5h0M184 228h0M184 282h0M184 313h0M184 321h0M185.5 231.5h0M185.5 288h0M185.5 289h0M186 227h0M186 327h0M187 223h0M187 291.5h0M187 292h0M187.5 293h0M187.5 295.5h0M187.5 306.5h0M188 212.5h0M188 224.5h0M188 290h0M189 219.5h0M189 227.5h0M189 292h0M189 324.5h0M189.5 310.5h0M190 231.5h0M190 293h0M190 307.5h0M190 322.5h0M190.5 299.5h0M190.5 300h0M191 223.5h0M191 332.5h0M191.5 292h0M191.5 294h0M191.5 300.5h0M192 325h0M192.5 223.5h0M192.5 285.5h0M192.5 288h0M193.5 223.5h0M194 226.5h0M194 291h0M194 324.5h0M194.5 299.5h0M194.5 308.5h0M195 218.5h0M195 227h0M195 292h0M195 324.5h0M195.5 224.5h0M195.5 301.5h0M196 219h0M196 291.5h0M196.5 291.5h0M197 218.5h0M197 223.5h0M197 330.5h0M197.5 303h0M198 213h0M198 225.5h0M198 292h0M199 216.5h0M199 294.5h0M199 326h0M199 339.5h0M199.5 223.5h0M200 224h0M200 292.5h0M200 325h0M200.5 290h0M201 223h0M201 298h0M201 302.5h0M201 333.5h0M202 213.5h0M202 221.5h0M202 292h0M202 324h0M203 214.5h0M203 221.5h0M203 287h0M203 291.5h0M204 217.5h0M204 221h0M204 286h0M204 321.5h0M205 222.5h0M205 286h0M205.5 285.5h0M205.5 298.5h0M206 223.5h0M206 297.5h0M206 301h0M206.5 289h0M207 221.5h0M207 284.5h0M207 288.5h0M207 296.5h0M207.5 286.5h0M207.5 299.5h0M208 317h0M208.5 221.5h0M209 225h0M209 287h0M209 289.5h0M209.5 208.5h0M210 227h0M210 288h0M210 320.5h0M210.5 224h0M211 213h0M211 323h0M211.5 291h0M211.5 306h0M211.5 308.5h0M212 220.5h0M212 294h0M212 316h0M212.5 295.5h0M212.5 307h0M212.5 314.5h0M212.5 325h0M213 294h0M213 326.5h0M213.5 223.5h0M213.5 294.5h0M213.5 300h0M214 215.5h0M214 221h0M215 214h0M215 220h0M215 291.5h0M215 327.5h0M215.5 305.5h0M216 320h0M216.5 218.5h0M216.5 290.5h0M216.5 293h0M217 213h0M217 217.5h0M217 327h0M217.5 300h0M217.5 317.5h0M218 217h0M218 293h0M218.5 296.5h0M219 209.5h0M219 295h0M219 302.5h0M219.5 220h0M219.5 320.5h0M220 209h0M220 215.5h0M220 290.5h0M220 314.5h0M220.5 291h0M221 205h0M221 214h0M222 291.5h0M222 306h0M222.5 212h0M222.5 299.5h0M223 199h0M223 210h0M223 290.5h0M223 299.5h0M223 322.5h0M223 328h0M223.5 295h0M223.5 301.5h0M223.5 311.5h0M223.5 312.5h0M224 210.5h0M224 319h0M224.5 295.5h0M225 207h0M225.5 206h0M225.5 297.5h0M225.5 327h0M226 293h0M226 325.5h0M226.5 297.5h0M227 284h0M227.5 204.5h0M227.5 285.5h0M228 203.5h0M228 286h0M228 287.5h0M228.5 282.5h0M229 198.5h0M229.5 202h0M229.5 279h0M230 194h0M230 201h0M230 276h0M230.5 281.5h0M230.5 283.5h0M230.5 297.5h0M231 197.5h0M231 201h0M231 271.5h0M232 206h0M232 274.5h0M232 280h0M232 287.5h0M232.5 277h0M233 196.5h0M233 207.5h0M233 306.5h0M234 204.5h0M234 272.5h0M234 300h0M234.5 269.5h0M235 203h0M235.5 267.5h0M236 284.5h0M236.5 205h0M237 273.5h0M237.5 209.5h0M238 209h0M238 273h0M238.5 281.5h0M239 292.5h0M239.5 211h0M239.5 212h0M240 207.5h0M240 291h0M241 203h0M241 213.5h0M241 295h0M241 300h0M241 316.5h0M241.5 297.5h0M242 203h0M242 220.5h0M243 304h0M243 307h0M243.5 219.5h0M243.5 220h0M244 211h0M244 306h0M245 217h0M245 313h0M245 316.5h0M245 325h0M246 213h0M246 216.5h0M246.5 218.5h0M246.5 309h0M247.5 307h0M248 217h0M248 305.5h0M248 312.5h0M249 213.5h0M249 302.5h0M250 300.5h0M250.5 215.5h0M250.5 220.5h0M251 298.5h0M251 311.5h0M252 215h0M252 302.5h0M252.5 210.5h0M252.5 296.5h0M253.5 292h0M253.5 293.5h0M254 201.5h0M254.5 210.5h0M254.5 292.5h0M255 208h0M255.5 291h0M256 207h0M256 298h0M256.5 292h0M257 201h0M257 299.5h0M257.5 205h0M258 204h0M258 290.5h0M259 202h0M259 290.5h0M259.5 289.5h0M260.5 199h0M261 190.5h0M261 196.5h0M261 285.5h0M261 290h0M262 193h0M262 281.5h0M262 290h0M262.5 188h0M262.5 192.5h0M263 278.5h0M263 289.5h0M264 195.5h0M264 275h0M265 194h0M265 272h0M265.5 196h0M266 274.5h0M267 195h0M267 281.5h0M268 191h0M268 284.5h0M268 293.5h0M268.5 195h0M269 185h0M269 294h0M269 300h0M269.5 195h0M270 181h0M270 311h0M270.5 195h0M270.5 303.5h0M271 197h0M271 314h0M271.5 311h0M272 191h0M272 316h0M272 319.5h0M273 312h0M273 316.5h0M273.5 191.5h0M273.5 308.5h0M274 188h0M275 185h0M275 289h0M275 295.5h0M276 181.5h0M276 274h0M276 280h0M277 177h0M277 261h0M277 266h0M277.5 181.5h0M277.5 267h0M278 176h0M278 185h0M278 276.5h0M279 177h0M279 184h0M279 279h0M279.5 183.5h0M279.5 271h0M280.5 275.5h0M281 189.5h0M281 284.5h0M282 179.5h0M282 186.5h0M282 291h0M283 184.5h0M283 191h0M283 292.5h0M284 187h0M284 190h0M284 299h0M284.5 197.5h0M285 185h0M285 298.5h0M285 306.5h0M285.5 204h0M286 302.5h0M286 310.5h0M287 207.5h0M287 309.5h0M287.5 208h0M288 202.5h0M288 315h0M289 211.5h0M289 315h0M290 207h0M290 313h0M290 324.5h0M290.5 210.5h0M290.5 212h0M291 207h0M291 311.5h0M292 199.5h0M292 215.5h0M292 311h0M293 198h0M293 216h0M293 319h0M293.5 314h0M294 197h0M294 217h0M294 313h0M294 323h0M295 314h0M295.5 207.5h0M295.5 210.5h0M296 200h0M296 311.5h0M296.5 204.5h0M297 208.5h0M297 322h0M297.5 315h0M298 215h0M298 318h0M298 322.5h0M299 208h0M299 317.5h0M299 322.5h0M299.5 221.5h0M300 214.5h0M300 318h0M300.5 320.5h0M301 208.5h0M301 216.5h0M301 326.5h0M302 213h0M302 219.5h0M302 321.5h0M302 331h0M302 341h0M302.5 319.5h0M303.5 219.5h0M304 210.5h0M304 320h0M304 325h0M304.5 223h0M305 222.5h0M305 319h0M305 323h0M306 222h0M306 318.5h0M306.5 214.5h0M307 325.5h0M307.5 199h0M307.5 317h0M308 193h0M308 313.5h0M309 189.5h0M309 314h0M309.5 301.5h0M310 189.5h0M310 292.5h0M310 301.5h0M311 284h0M311.5 188h0M312 179h0M312 186.5h0M312 278.5h0M313 182.5h0M313 186.5h0M313 280h0M314 274h0M314 285h0M314.5 185h0M315 183.5h0M315 275.5h0M315 279.5h0M316 273h0M316.5 178h0M316.5 179.5h0M316.5 267.5h0M317 276.5h0M317.5 258h0M318 267h0M318.5 168h0M318.5 172.5h0M318.5 254h0M319 265.5h0M320 251.5h0M320.5 162.5h0M321 153h0M321 158h0M321 248h0M321 256h0M322 163h0M322 245.5h0M322 253.5h0M323 161h0M323 165h0M323 243.5h0M323 249.5h0M323.5 238h0M324 167.5h0M325 172.5h0M325 245h0M326 184h0M326.5 244h0M326.5 244.5h0M327 192.5h0M328 187h0M328 192h0M328 247h0M328 252h0M328.5 194h0M329 248.5h0M330 198h0M330 254.5h0M331 191.5h0M331 259h0M331 265h0M331.5 202.5h0M332 198.5h0M332.5 196h0M332.5 261.5h0M333 188h0M333 265h0M333 272.5h0M334 268h0M334 276.5h0M334.5 196.5h0M334.5 197h0M335 192.5h0M335 276h0M336 198.5h0M336 282h0M336.5 200.5h0M336.5 289.5h0M337.5 297h0M338 202.5h0M338.5 204.5h0M339 200.5h0M339 306h0M339 315h0M339.5 310h0M340 201.5h0M340 208.5h0M340 316h0M341 315.5h0M341 332h0M341.5 214h0M342 320h0M342 329.5h0M342.5 218h0M343 221h0M343 324h0M343 336.5h0M344 224h0M344 330.5h0M344.5 336h0M345 224h0M345 336.5h0M345.5 329.5h0M346 220.5h0M346 317h0M346 333h0M347 210.5h0M347 215.5h0M347 313.5h0M348 212h0M348 317.5h0M348.5 306.5h0M349 205.5h0M349 209.5h0M349 294h0M349 314h0M350 289.5h0M350.5 207.5h0M351 204.5h0M351.5 281.5h0M352 202.5h0M352.5 274h0M353 283.5h0M353.5 202h0M353.5 266.5h0M354 196.5h0M354 204h0M354 262.5h0M354 267.5h0M355 201h0M355.5 256.5h0M356 200h0M356 252h0M356 256.5h0M356.5 253h0M357 195h0M357 200.5h0M357 264.5h0M358 192.5h0M358 199.5h0M358 253.5h0M358.5 251.5h0M359 199h0M359.5 249.5h0M360 197.5h0M360 270.5h0M360.5 249.5h0M361 197h0M362 256.5h0M362 261h0M362.5 202.5h0M362.5 208h0M363 256.5h0M363 261.5h0M364 258.5h0M364.5 208h0M365 205.5h0M365 258.5h0M366 205h0M366 259h0M367 208.5h0M367 260.5h0M368 209.5h0M368 268.5h0M368.5 258.5h0M369 212h0M369 261.5h0M370 211h0M370 259.5h0M370 269.5h0M371 199.5h0M371 210.5h0M371.5 263.5h0M371.5 267h0M372 206h0M372.5 260.5h0M373 254h0M373.5 203.5h0M374 199.5h0M374 259.5h0M374 266.5h0M374.5 201.5h0M375 194h0M375 254h0M375.5 200h0M376 261h0M376.5 256h0M377 191h0M377 261h0M377.5 196.5h0M378 191.5h0M378 195h0M378.5 194.5h0M378.5 258h0M379 258.5h0M380 190h0M380 198h0M380 262h0M381 263.5h0M381.5 196.5h0M382 190.5h0M382 195h0M382 265.5h0M382 269.5h0M382.5 267h0M382.5 269.5h0M383 196h0M383 280h0M383.5 195.5h0M384 264.5h0M384.5 203h0M385 191h0M385 270h0M386 200.5h0M386 276.5h0M386.5 264h0M387 198h0M387 271.5h0M387 279h0M388 197h0M388 275h0M388.5 273.5h0M388.5 278.5h0M389 191h0M389 197.5h0M389 282h0M389.5 272h0M390 190h0M390 278.5h0M390.5 199.5h0M390.5 200.5h0M391 189h0M391 271.5h0M391 287h0M392 202.5h0M392 273h0M393 204h0M393.5 272h0M394 201.5h0M394 278.5h0M394.5 274.5h0M394.5 281.5h0M395 196.5h0M395 200h0M395.5 201.5h0M396 289h0M397 194.5h0M397 204.5h0M397 295.5h0M397 301.5h0M397.5 297h0M398 198h0M398 206.5h0M398 305.5h0M399 199.5h0M399 204h0M399 304h0M399 307.5h0M399 310h0M399.5 299h0M400 198h0M400 307.5h0M400.5 204.5h0M401 200h0M401 300h0M401.5 202.5h0M401.5 290.5h0M402 185.5h0M402 195h0M402 285h0M402 289.5h0M402 294h0M403 185h0M403 280.5h0M404 176.5h0M404 184h0M404 293h0M404.5 277h0M405 182h0M405.5 196.5h0M405.5 274h0M405.5 275h0M407 201h0M407 270h0M408 193.5h0M408 199h0M408 271.5h0M408 283.5h0M409 200h0M409.5 271.5h0M410 273h0M410 275.5h0M410.5 200.5h0M411 206.5h0M411 210.5h0M411 271.5h0M411 283h0M412 210h0M412 218.5h0M412 273h0M412.5 273h0M413 221.5h0M414 225.5h0M414 275h0M415 228h0M415 270h0M415 279h0M416 210h0M416 225h0M416 274.5h0M416 291.5h0M417 276.5h0M417 287.5h0M417.5 226.5h0M418 223.5h0M418 278.5h0M418.5 279h0M419 224.5h0M420 224h0M420 277h0M420 284h0M421 279h0M421.5 223.5h0M422 223.5h0M422.5 278.5h0M423 229.5h0M423.5 230h0M423.5 282h0M424 286.5h0M424.5 230.5h0M425 294.5h0M425.5 288h0M426 226.5h0M426 287.5h0M426.5 223h0M427 288h0M427.5 222.5h0M428 295.5h0M429 222.5h0M429 300.5h0M429.5 225h0M430 310.5h0M430.5 224.5h0M431 220.5h0M431 333h0M431 359h0M431.5 225.5h0M431.5 319.5h0M431.5 331.5h0M431.5 363h0M431.5 370.5h0M431.5 380.5h0M432 328h0M432 340h0M433 219h0M433 224.5h0M433 334h0M433 337h0M433 338.5h0M433.5 332h0M433.5 333.5h0M433.5 337.5h0M434 215h0M434 222h0M434 336h0M435 214h0M435 334.5h0M435.5 317h0M436 206.5h0M436 310h0M436.5 301.5h0M437 201h0M438 187.5h0M438 200.5h0M438.5 303.5h0M439 199h0M440 192h0M440 200h0M440 306.5h0M440 315.5h0M441 197h0M441 296h0M441 308.5h0M441 314.5h0M441 316h0M441.5 309h0M441.5 311h0M441.5 312h0M441.5 315h0M442 195h0M442.5 298h0M443 194h0M443 285h0M443.5 139.5h0M443.5 149.5h0M443.5 154.5h0M443.5 167.5h0M443.5 274h0M444 278.5h0M444.5 192.5h0M444.5 265h0M445 197.5h0M445 272h0M446 198.5h0M446 261h0M447 198.5h0M447 259h0M447 279.5h0M448 181.5h0M448 198h0M448 264h0M449.5 197.5h0M449.5 259.5h0M450 186.5h0M450 262h0M450 269.5h0M450.5 185.5h0M450.5 264.5h0M451 175.5h0M452 176h0M452 180h0M452 280.5h0M452.5 274h0M453 181h0M453 284h0M453 288h0M454 185.5h0M454 277h0M455 185h0M455 271.5h0M455 285.5h0M456 180h0M456 266.5h0M456 274.5h0M456.5 186.5h0M457 181h0M457 264h0M457 279h0M457.5 186.5h0M458 186h0M458.5 263.5h0M459.5 189h0M459.5 264.5h0M460 194.5h0M460 263.5h0M461 185.5h0M461 201h0M461 274.5h0M461.5 267h0M461.5 269h0M462 201h0M462 272h0M462.5 201h0M462.5 272.5h0M463 268.5h0M464 200.5h0M464 271h0M464.5 262h0M465 197.5h0M465 261.5h0M465 267h0M465.5 260h0M466 196.5h0M466 269h0M466.5 190h0M467 259h0M467 267.5h0M468 188h0M468 263.5h0M468.5 187.5h0M468.5 258h0M469.5 256h0M470 187h0M470 254.5h0M470 266.5h0M470.5 253h0M471 179h0M471 188.5h0M472.5 185h0M472.5 256h0M472.5 256.5h0M472.5 259h0M473.5 188.5h0M474 183.5h0M474 256h0M474 265h0M475 170.5h0M475 255h0M475.5 179.5h0M475.5 181.5h0M476 253h0M476.5 255h0M477 169.5h0M477 180.5h0M477.5 183.5h0M478 178h0M478 253h0M478 258.5h0M479 173h0M479 184h0M479 249h0M479.5 249.5h0M480 186h0M481 259h0M481.5 189h0M481.5 251.5h0M482 254h0M482 256h0M482.5 188h0M483 190h0M483 252h0M484 242h0M484.5 188.5h0M485 183.5h0M485 188.5h0M485 247h0M486 195h0M486 248.5h0M487 201h0M487 256.5h0M488 201h0M488 204.5h0M488 264.5h0M489 207h0M489.5 273h0M490 202.5h0M490 276.5h0M490 277h0M490 286.5h0M490.5 208h0M490.5 284h0M491 203h0M492 296h0M492.5 208.5h0M492.5 290h0M493 207.5h0M493 211.5h0M493 296.5h0M493.5 217.5h0M494 299.5h0M495 218.5h0M495 301h0M496 213h0M496 220.5h0M496.5 221.5h0M496.5 306h0M497 218.5h0M497 304.5h0M497.5 297h0M498 222.5h0M499 210.5h0M499 223h0M499 294.5h0M500 292.5h0M500 297h0M500.5 227h0M500.5 231h0M500.5 287.5h0M501 292.5h0M502 283.5h0M502.5 224.5h0M503 224h0M503 278h0M503 285h0M504 274h0M504 279h0M504.5 221.5h0M505 221h0M505 271.5h0M506 222.5h0M506 269.5h0M506 276.5h0M506.5 220h0M507 205h0M507 264.5h0M508 209.5h0M508 264h0M508 273.5h0M508.5 215h0M508.5 267h0M509 210h0M509 272.5h0M510 194h0M510 204.5h0M510 268h0M510.5 195.5h0M511 188h0M511 264h0M511.5 257h0M512 189.5h0M513 185h0M513 249h0M513 264h0M514 186h0M514 254.5h0M514.5 186.5h0M514.5 243.5h0M515 178.5h0M515 243h0M515 248h0M515.5 165.5h0M516 188h0M516 240.5h0M516.5 182.5h0M517 173h0M517 247.5h0M517.5 235h0M518 176.5h0M518 179.5h0M518 237h0M519 171.5h0M519 251.5h0M519.5 183.5h0M519.5 241.5h0M520 244h0M520.5 188.5h0M521 173.5h0M521 185h0M521.5 149.5h0M521.5 155h0M521.5 245.5h0M522 187.5h0M522.5 188.5h0M522.5 253.5h0M523 185.5h0M523 259.5h0M524 193h0M524 269h0M524.5 198h0M525 266h0M525 272.5h0M525.5 198h0M525.5 270.5h0M526 286h0M526.5 196.5h0M526.5 272.5h0M527 193.5h0M527 277h0M527 279.5h0M527 280.5h0M528 192h0M528 196.5h0M528.5 196.5h0M528.5 275.5h0M529 190.5h0M529.5 277h0M530 189.5h0M530 196.5h0M530.5 279h0M531 191.5h0M531 196.5h0M531 278h0M531 287.5h0M531.5 281h0M532 186.5h0M532 197h0M532 284h0M532 286h0M532.5 278.5h0M533 197.5h0M534 191h0M534 195h0M534 277h0M534 289h0M534.5 272h0M535 197.5h0M535.5 272.5h0M536 280.5h0M536.5 199h0M536.5 275h0M537 201h0M538 202.5h0M538 273.5h0M538 283.5h0M539 197.5h0M539 202.5h0M539 269h0M539 279h0M539.5 169h0M539.5 175h0M539.5 182.5h0M540 200h0M540 205h0M540 266.5h0M541 209h0M541 274h0M542 210.5h0M542 277.5h0M542 284.5h0M542.5 277h0M543 212h0M544 204.5h0M544 208h0M544 278.5h0M545 202h0M545.5 275.5h0M546 194.5h0M546 268.5h0M546 278h0M546.5 159.5h0M547 189.5h0M547.5 266.5h0M548 183h0M548 266h0M548.5 260h0M549 251.5h0M549.5 173h0M549.5 177.5h0M550 246.5h0M551 169h0M551 239.5h0M551 245h0M551.5 166h0M552 235h0M552 242h0M553 156.5h0M553.5 160h0M553.5 231.5h0M554 159.5h0M554 228h0M554 246h0M555 151h0M555 234h0M555.5 161h0M556 231h0M556 250.5h0M556.5 158.5h0M557 163.5h0M557 236.5h0M557 242.5h0M557.5 160.5h0M558 152h0M558 238.5h0M558 249h0M558.5 99.5h0M558.5 124h0M558.5 130h0M558.5 139.5h0M558.5 169.5h0M558.5 256h0M559 147h0M559 252h0M559.5 237h0M560 238h0M560.5 160.5h0M560.5 166h0M560.5 239h0M561 245h0M562 154h0M562 160.5h0M562 240.5h0M562.5 238h0M563 165.5h0M564 171h0M564 234h0M564 242h0M564.5 175.5h0M565 172.5h0M565 236h0M566 180h0M566 231h0M566 245.5h0M567 175.5h0M567 232.5h0M568 232h0M568.5 174.5h0M569 169h0M569 231.5h0M569 240.5h0M570 158h0M570.5 162h0M570.5 163.5h0M570.5 229.5h0M571 156.5h0M571 229.5h0M572 162.5h0M572 236h0M572.5 231h0M573 157.5h0M573 229.5h0M573 245h0M574 155.5h0M574 159h0M574 236.5h0M574.5 161.5h0M574.5 230h0M575 233h0M575 238h0M576 160h0M576 233.5h0M577 235h0M577 247.5h0M577.5 166.5h0M578 173h0M578.5 239.5h0M579 176h0M579 249h0M579 254.5h0M579.5 185.5h0M580 179.5h0M580 255h0M580 261.5h0M581 179h0M581 269.5h0M581 279h0M581.5 193h0M582 199h0M582 274h0M583 276h0M583 284h0M583.5 201.5h0M584 193h0M584 198h0M584 282.5h0M584.5 278.5h0M585 187.5h0M585 198.5h0M585 280h0M585.5 193h0M586 189h0M586 277h0M586 282.5h0M587 185.5h0M587 290h0M587.5 190h0M587.5 191.5h0M587.5 271.5h0M587.5 272h0M589 181.5h0M589 189h0M589.5 185h0M589.5 267h0M590 259h0M590 270h0M590.5 180.5h0M591 185h0M591 266.5h0M591.5 250.5h0M591.5 254h0M592 189.5h0M593 189h0M593 246.5h0M593 256.5h0M593.5 243h0M594 176h0M594 188.5h0M594 252h0M594.5 244.5h0M595 190h0M596 190.5h0M596 234h0M597 185.5h0M597 188.5h0M597 238.5h0M598 179.5h0M598 242.5h0M598 247h0M598.5 184.5h0M598.5 188h0M599 177.5h0M599 252h0M599.5 242h0M600 182h0M600 242.5h0M600 254.5h0M601 182.5h0M601 244h0M602 178.5h0M602 243.5h0M603 177h0M603 240h0M603 251h0M604 173.5h0M604 177h0M604 246h0M605 174h0M605 178.5h0M605 248h0M605 253h0M606 175h0M606 185h0M606 246.5h0M606 252.5h0M607 169h0M607 182h0M607 242.5h0M608 247.5h0M608 264h0M608.5 180.5h0M609 187.5h0M609 253h0M609.5 188h0M609.5 249.5h0M610 249h0M610 260h0M611 191h0M611 250.5h0M612 253h0M612 257h0M612.5 197h0M613 194.5h0M613.5 200h0M613.5 207h0M613.5 257.5h0M614 259.5h0M614.5 264.5h0M615 205h0M615 209h0M615 272h0M616 210.5h0M616 268.5h0M616.5 261.5h0M616.5 263.5h0M617 212h0M618 200.5h0M618 211.5h0M618 253.5h0M618 269h0M619 207h0M619 210.5h0M619 257.5h0M619 279.5h0M620 262h0M620.5 211.5h0M620.5 264.5h0M621 200.5h0M621 206.5h0M621 268.5h0M621.5 206h0M622 193.5h0M622.5 262.5h0M623 184h0M623 196h0M623 268h0M623.5 260.5h0M624 189.5h0M624 195h0M624 257.5h0M624 264h0M624.5 256.5h0M625 195h0M625.5 198.5h0M626 257h0M626 267h0M626.5 194.5h0M627 259.5h0M628 189.5h0M628 196.5h0M628 257.5h0M628 273.5h0M629 188h0M629 200.5h0M629 262h0M629 273h0M630 198h0M630 203h0M630 265.5h0M630.5 267.5h0M631 205h0M632 268h0M632 272h0M632.5 206h0M632.5 268.5h0M633.5 201.5h0M633.5 204h0M633.5 268.5h0M634 195h0M634 279h0M635 269.5h0M635 277.5h0M635.5 200h0M636 191h0M636 269h0M636.5 193h0M636.5 194.5h0M637 189h0M637 266h0M638 187h0M638 191.5h0M638 260h0M638 264h0M638.5 251.5h0M639 191h0M639 260h0M640 176h0M640 246.5h0M640.5 190h0M641 187h0M641 244h0M642 186.5h0M642 240.5h0M643 186h0M643 241.5h0M643 252h0M644 185h0M644 243.5h0M644 250.5h0M645 172.5h0M645 244h0M645 247.5h0M645.5 185h0M646 179h0M646 184.5h0M646 245h0M646 255.5h0M646.5 248h0M647 254.5h0M647.5 189h0M647.5 250h0M648 259h0M648.5 191.5h0M649 194h0M649 254.5h0M650 193.5h0M650 201h0M650 259h0M651 208h0M651 257.5h0M651 266.5h0M652 213h0M652.5 216h0M652.5 261.5h0M653 264h0M654 206.5h0M654 212.5h0M654 266.5h0M655 223.5h0M655 268.5h0M655 276.5h0M656 202h0M656 218.5h0M656 270.5h0M656.5 265.5h0M657.5 211.5h0M657.5 262h0M657.5 274.5h0M657.5 285.5h0M658 206h0M658 211h0M658 266h0M658.5 260.5h0M658.5 261h0M659 168.5h0M659 175h0M659 275.5h0M660 238h0M660.5 137.5h0M661 129h0M661 134h0M661 215.5h0M662 212.5h0M662 217.5h0M662.5 131.5h0M662.5 211h0M663 216h0M663.5 125h0M663.5 129h0M664 199.5h0M664 222h0M665 125.5h0M665 205.5h0M665 214h0M665.5 110.5h0M665.5 129.5h0M666 210h0M667 131h0M667 208.5h0M667.5 120h0M668 108h0M668 112h0M668 116h0M668 129.5h0M668 207h0M668 216.5h0M668.5 90.5h0M668.5 100.5h0M668.5 104h0M669 119.5h0M669 205h0M669 214h0M669.5 126.5h0M670 118h0M670 124.5h0M670 209h0M670 212.5h0M671 120h0M671 125h0M671 207.5h0M671 213.5h0M672 119h0M672 126h0M672 208h0M672.5 128.5h0M673 121.5h0M673 207.5h0M673 212h0M673.5 133h0M674 121.5h0M674.5 207h0M674.5 208h0M675 119.5h0M675 130h0M675 211.5h0M676 127.5h0M676 207h0M676.5 129h0M677 123.5h0M677 203.5h0M677.5 131.5h0M677.5 203.5h0M678 213h0M679 127.5h0M679 204h0M679 214.5h0M680 120.5h0M680 128.5h0M680 205h0M680 214h0M681 124h0M681 205h0M682 123.5h0M682 204.5h0M683 124h0M683.5 204h0M684 131h0M684 203h0M685 126.5h0M685 204h0M686 201.5h0M686.5 131.5h0M687 130.5h0M687 204.5h0M688 132h0M688 205.5h0M688 216.5h0M688.5 137h0M689 140.5h0M689 207.5h0M689 210h0M689 211h0M689.5 208h0M690 145.5h0M691 150h0M691 204.5h0M692 148h0M692 155h0M692 210h0M692.5 215.5h0M693 219h0M693.5 154.5h0M693.5 158h0M694 218h0M694.5 218h0M695 221.5h0M695 228.5h0M695.5 161h0M695.5 225h0M696 161.5h0M696.5 230h0M697 162h0M697 233.5h0M698 166.5h0M698 228.5h0M698 232.5h0M699 168h0M699 228.5h0M699.5 170h0M699.5 233h0M700 164.5h0M700 233.5h0M700 239h0M700.5 228h0M701 163h0M701 170.5h0M702 163.5h0M702 224.5h0M702 239.5h0M703 151.5h0M703 160.5h0M703 224.5h0M703.5 218h0M704 152.5h0M704 156.5h0M704 215.5h0M704 222h0M705 150.5h0M705 155h0M705.5 211.5h0M705.5 213.5h0M706 156h0M706.5 213.5h0M707 157h0M707 220.5h0M707.5 209h0M708 154h0M708.5 203h0M709 152h0M709.5 204h0M710.5 147h0M711 136h0M711 140.5h0M711 215.5h0M711.5 133h0M712 139.5h0M712 215h0M713 138.5h0M713 148h0M713 213h0M713 221.5h0M713.5 207.5h0M714 151h0M714 222.5h0M714.5 212h0M715 149.5h0M715.5 211.5h0M716 150.5h0M716 221.5h0M717 158h0M717 208.5h0M718 152.5h0M718 209h0M718 227.5h0M719 144.5h0M719 210.5h0M720 138.5h0M720 142h0M720 210.5h0M721 141h0M721 223h0M721.5 210.5h0M722 142h0M722 212h0M722 222.5h0M722.5 209h0M723 131h0M723.5 132.5h0M723.5 137.5h0M724 209h0M724 220h0M724.5 128h0M724.5 215h0M725 129.5h0M725 225.5h0M725.5 133h0M725.5 136h0M725.5 210h0M726 221.5h0M726.5 216h0M727 138.5h0M728 136h0M728 141h0M728 219h0M728 222h0M728.5 142h0M729.5 216.5h0M730 140.5h0M730 216.5h0M731 134h0M731 143.5h0M731 215h0M731.5 214h0M732 140.5h0M733 137h0M733 212.5h0M733.5 212h0M734 125.5h0M734 138.5h0M734 216h0M735 138h0M735 211h0M735 214.5h0M736 212h0M736.5 135h0M737 128.5h0M737 215.5h0M737 220.5h0M737.5 135.5h0M737.5 143.5h0M737.5 216.5h0M738 221.5h0M739 218.5h0M739.5 130.5h0M739.5 131h0M740 222h0M741 130.5h0M741 136h0M741.5 225h0M742 142h0M742 226h0M742 234h0M743 147.5h0M743 227h0M744 150h0M744.5 154.5h0M744.5 227.5h0M745 148h0M745 228h0M745 231.5h0M745.5 228h0M746 153.5h0M746 160h0M746 232h0M747 164.5h0M747.5 227h0M748 158.5h0M748 163.5h0M748 224.5h0M749 224h0M749 235h0M749.5 159.5h0M750 223h0M750.5 153.5h0M751 150.5h0M751 226.5h0M751 231h0M751.5 226.5h0M752 145.5h0M753 224h0M753.5 144.5h0M753.5 152h0M754 140h0M754 227.5h0M755 154h0M755 227.5h0M756 147h0M756 150.5h0M756 233.5h0M756.5 229h0M756.5 230h0M757 152.5h0M757 238h0M758 150.5h0M758 230.5h0M758 238h0M759 231h0M759 237h0M759.5 145.5h0M760 140.5h0M760 231h0M760.5 230.5h0M761 132h0M761 234.5h0M762 120.5h0M762 124.5h0M762 129h0M762 134h0M762 230h0M763 132h0M763 238.5h0M763.5 227h0M763.5 230.5h0M764 235h0M764.5 139.5h0M765 140.5h0M765 145h0M765 229h0M765 238.5h0M765.5 144.5h0M766 140.5h0M766 231h0M767 147h0M767 232.5h0M768 143.5h0M768.5 232.5h0M769 139h0M769 144.5h0M769 233h0M769 248h0M770 143.5h0M770 225.5h0M771 228h0M771.5 140.5h0M772 135h0M772 235.5h0M773 123h0M773 129h0M773 235.5h0M773 240.5h0M773.5 122.5h0M773.5 236.5h0M774.5 240.5h0M775 116.5h0M775 235h0M775 242h0M775.5 109.5h0M776 234.5h0M776.5 113h0M777 114h0M777.5 230.5h0M777.5 232.5h0M778 112h0M778 115.5h0M778 237h0M779 108h0M779 116h0M779 231h0M780 113h0M780 231.5h0M781 232h0M781.5 114h0M782 107.5h0M782.5 231.5h0M783 99h0M783.5 94h0M783.5 107.5h0M783.5 230.5h0M784 109h0M784 228.5h0M784.5 118.5h0M785 228.5h0M785 239.5h0M785.5 124.5h0M786 232h0M786 246.5h0M786.5 229.5h0M787 130.5h0M788 233.5h0M788 238.5h0M788.5 132.5h0M788.5 234h0M789 137h0M789 241h0M790 139.5h0M790.5 232h0M791 138.5h0M791 228.5h0M792 136.5h0M792 227.5h0M793 143h0M793 227.5h0M793 240h0M793.5 153h0M793.5 233.5h0M794 240.5h0M794.5 237h0M795.5 160.5h0M796 165h0M796 237h0M796 244.5h0M797 166.5h0M797 242h0M797.5 238.5h0M797.5 240h0M798 165.5h0M798 168.5h0M798.5 172h0M799 243h0M799 251.5h0M799.5 247h0M800 167.5h0M800 173.5h0M800 242h0M801 175h0M801 237h0M801.5 231.5h0M802 176h0M802 244h0M803 179.5h0M803.5 234.5h0M804 236.5h0M804.5 175.5h0M805 235h0M805.5 178h0M806 176h0M806 235h0M806 240h0M807 172h0M807 241.5h0M807.5 233h0M807.5 235.5h0M808 159.5h0M809 134.5h0M809 147h0M809 236.5h0M810 127h0M810 238.5h0M810.5 134h0M810.5 239.5h0M810.5 243.5h0M811 122h0M811 126.5h0M812 119h0M812 238.5h0M812.5 233h0M813 107.5h0M813 111h0M813 247h0M814 103h0M814 234h0M814 245.5h0M814.5 93h0M815 232.5h0M815 242h0M815.5 79h0M815.5 234.5h0M816 238h0M817 60h0M817 69h0M817 233.5h0M817 241h0M817.5 61.5h0M817.5 68.5h0M817.5 232h0M818 240h0M818.5 72h0M819 75.5h0M819 78.5h0M819 229.5h0M820 86.5h0M820 231h0M820 240.5h0M821 95h0M821 229h0M821.5 101.5h0M822.5 115.5h0M822.5 226h0M822.5 233h0M824 129h0M824 233.5h0M824 240h0M825 130h0M825 136.5h0M825 234.5h0M825 238h0M825.5 141.5h0M826 233h0M826.5 142h0M827 228.5h0M827 243.5h0M828 143.5h0M828 147.5h0M828 230.5h0M828 240.5h0M828.5 233.5h0M829 241.5h0M829.5 156.5h0M830 160h0M830 233.5h0M831 162h0M831 234.5h0M831.5 164.5h0M832 157h0M832 234h0M832 250h0M832.5 235.5h0M833 168.5h0M834 169.5h0M834 236h0M835 166h0M835 171.5h0M835 234.5h0M836 162h0M836 174h0M836 235.5h0M837 234.5h0M837.5 173.5h0M838 169h0M838 231.5h0M838 244.5h0M838.5 173.5h0M838.5 235h0M839 175h0M839.5 173.5h0M840 237h0M840.5 173h0M841 164h0M841 237h0M841 242.5h0M842 164h0M842 171.5h0M842 239h0M843 166.5h0M843 169.5h0M843 171h0M843 241h0M843 250h0M844 175h0M844 254.5h0M844.5 179.5h0M844.5 246.5h0M844.5 248h0M844.5 255h0M845 174.5h0M845 250.5h0M845 258h0M845.5 246.5h0M846 183.5h0M847 241h0M847 251h0M847.5 185.5h0M847.5 240h0M848 189h0M849 179.5h0M849 189h0M849 237.5h0M849 250h0M849.5 239h0M850 180.5h0M850 187h0M851 184h0M851 242.5h0M851 252h0M852 249h0M852.5 183.5h0M853 179.5h0M853 183.5h0M853 261h0M853.5 256h0M853.5 257h0M853.5 262h0M853.5 297h0M853.5 301h0M853.5 305h0M854 183h0M854 257h0M854 262h0M855 180.5h0M855 253.5h0M855 259h0M856 172h0M856 179h0M856 247.5h0M856.5 176h0M856.5 181.5h0M857 177h0M857 250.5h0M857 256.5h0M858 185.5h0M858 249.5h0M858 252.5h0M858.5 246h0M859 183h0M860 175h0M860 184h0M860 238.5h0M860 246h0M861 181.5h0M861 238h0M861.5 235.5h0M862 178h0M862 247.5h0M863 174.5h0M863.5 168.5h0M863.5 173h0M863.5 233.5h0M864 174h0M864 236.5h0M864.5 235.5h0M865 179.5h0M865 184h0M865.5 191h0M866.5 230.5h0M867 181h0M867 193.5h0M867 234h0M867 253.5h0M868 194.5h0M868.5 235.5h0M869 196h0M869 241h0M870 192.5h0M870 196.5h0M870 241.5h0M870 244.5h0M870.5 173.5h0M871 239h0M871 244h0M871.5 148h0M871.5 162h0M871.5 175.5h0M871.5 185.5h0M872 136h0M872 187h0M872 233.5h0M872 241.5h0M872.5 173.5h0M872.5 186.5h0M872.5 188.5h0M873 134h0M873 136h0M873 137.5h0M873 232.5h0M873.5 147h0M873.5 153h0M873.5 153.5h0M873.5 156.5h0M873.5 170.5h0M873.5 178h0M873.5 185.5h0M874 189h0M874 236h0M875 117.5h0M875 155h0M875 190h0M875 235h0M875.5 129h0M875.5 138.5h0M875.5 140h0M875.5 141h0M875.5 149.5h0M875.5 153.5h0M875.5 155.5h0M875.5 166.5h0M876 116.5h0M876 119h0M876 122h0M876 124h0M876 139.5h0M876 149.5h0M876 154.5h0M876 158h0M876 161.5h0M876 168.5h0M876 172h0M876 175.5h0M876 187h0M876 232h0M876 240h0M876.5 116h0M876.5 125.5h0M876.5 131h0M876.5 135h0M876.5 147h0M876.5 150.5h0M876.5 158h0M876.5 178.5h0M877 107.5h0M877 163h0M877 188.5h0M877.5 142h0M877.5 148.5h0M877.5 160.5h0M877.5 182.5h0M877.5 189.5h0M877.5 235.5h0M878.5 195.5h0M878.5 235h0M879 178.5h0M880 99.5h0M880 190h0M880 228h0M880.5 102h0M880.5 165.5h0M881.5 96h0M881.5 103.5h0M881.5 122h0M881.5 177.5h0M881.5 186h0M881.5 235h0M882 177h0M882 234.5h0M882.5 169h0M882.5 183.5h0M882.5 184.5h0M883 110h0M883 181h0M883 237h0M883 241.5h0M883.5 120h0M883.5 155h0M883.5 182.5h0M883.5 240.5h0M884 119h0M884 148h0M884 245h0M884.5 143h0M884.5 151h0M884.5 186.5h0M884.5 242.5h0M885 121h0M885 139.5h0M885 157h0M885 163h0M885 167.5h0M885 182.5h0M885.5 190h0M886 133h0M886 183.5h0M886 246.5h0M886.5 144.5h0M886.5 160.5h0M886.5 254h0M887.5 186.5h0M887.5 191h0M887.5 250h0M888 249h0M889 141h0M889 146.5h0M889 157.5h0M889 161h0M889 190.5h0M889 249h0M889.5 182.5h0M889.5 187.5h0M890 109.5h0M890 131.5h0M890 246.5h0M890.5 155h0M890.5 249h0M891 169h0M891 185.5h0M891 258h0M891.5 100h0M891.5 111h0M891.5 126h0M891.5 136.5h0M892 108.5h0M892 109h0M892 115h0M892 123.5h0M892 132.5h0M892 149.5h0M892 156.5h0M892 157.5h0M892 158.5h0M892 160.5h0M892 162.5h0M892 173.5h0M892 176.5h0M892 177h0M892 181h0M892.5 130.5h0M892.5 142.5h0M892.5 146.5h0M892.5 157.5h0M892.5 183h0M892.5 250h0M893 113h0M893 139h0M893 150h0M893 159h0M893.5 254h0M894 180h0M894 270.5h0M895 153h0M895 286.5h0M895 291.5h0M895.5 169.5h0M895.5 171.5h0M895.5 179.5h0M896 129h0M896 132.5h0M896 134.5h0M896 139h0M896 140h0M896 142.5h0M896 146.5h0M896 169.5h0M896 184h0M896 305h0M896.5 158h0M896.5 160h0M896.5 165.5h0M896.5 167h0M896.5 177h0M896.5 319.5h0M897 129h0M897 139.5h0M897 152h0M897 163h0M897 325h0M897.5 181.5h0M898 145h0M898 183.5h0M898 317.5h0M898 324.5h0M898.5 185.5h0M899 324.5h0M899.5 318h0M900 170h0M900 185h0M900 315.5h0M900.5 172h0M900.5 172.5h0M901 154.5h0M901 161h0M901 163h0M901 166.5h0M901 177h0M901 184h0M901 184.5h0M901 315.5h0M901 325.5h0M901.5 165h0M901.5 178.5h0M901.5 188h0M902 185.5h0M902 317.5h0M902 325h0M902.5 183h0M903 153h0M903 182h0M903 182.5h0M903 319.5h0M903 323h0M903.5 164h0M904 150h0M904 161h0M904 169h0M904 179.5h0M904 183h0M904 319h0M904.5 128.5h0M904.5 153h0M904.5 162.5h0M904.5 167.5h0M904.5 169.5h0M904.5 319.5h0M905 123h0M905 124h0M905 126h0M905 130.5h0M905 147.5h0M905 151h0M905 154h0M905 168.5h0M905 169.5h0M905 171.5h0M905 173h0M905 177h0M905 180h0M905 330.5h0M905.5 127h0M905.5 145h0M905.5 152h0M905.5 152.5h0M905.5 169h0M905.5 178.5h0M906 281h0M906 284.5h0M906.5 181h0M906.5 242h0M907 86.5h0M907 181.5h0M907 250.5h0M907.5 118.5h0M907.5 122.5h0M907.5 135h0M907.5 177.5h0M908 78.5h0M908 90.5h0M908 103h0M908 110h0M908 121h0M908 127h0M908 128h0M908 133h0M908 139h0M908 148h0M908 154.5h0M908 158h0M908 165.5h0M908 173h0M908 177.5h0M908 181.5h0M908 240h0M908 247h0M908.5 80.5h0M908.5 91.5h0M908.5 109h0M908.5 125.5h0M908.5 157h0M908.5 159h0M908.5 161h0M908.5 163h0M908.5 181h0M909 183.5h0M909.5 93.5h0M909.5 239h0M910 168h0M910 191h0M910 238.5h0M910.5 103.5h0M910.5 108.5h0M910.5 110.5h0M910.5 162h0M910.5 167h0M911 112.5h0M911 118.5h0M911 140.5h0M911 163.5h0M911 169h0M911 175.5h0M911 191.5h0M911 240.5h0M911 248.5h0M911.5 187h0M912 81.5h0M912.5 135.5h0M912.5 169h0M912.5 241.5h0M913 85h0M913 106.5h0M913 189.5h0M913 243.5h0M913.5 144h0M913.5 161.5h0M913.5 189h0M914 114.5h0M914 244.5h0M914 250h0M914.5 170h0M915 190h0M915 249h0M915.5 248.5h0M916 194h0M917 190.5h0M917 263.5h0M917.5 181h0M917.5 187h0M917.5 242.5h0M918 155.5h0M918 159.5h0M918 165.5h0M918 171h0M918 245.5h0M918.5 165h0M918.5 181h0M918.5 184h0M918.5 188h0M918.5 244.5h0M919 142h0M919 145.5h0M919 153h0M919 180.5h0M919.5 142h0M920 128.5h0M920 187.5h0M920 243.5h0M920 255.5h0M920.5 155h0M921 130h0M921 188h0M921 253h0M921.5 134h0M921.5 145.5h0M921.5 171h0M921.5 247.5h0M922 130.5h0M922 148h0M922 160.5h0M922 161.5h0M922 177h0M922 192.5h0M922 246h0M922 254h0M922.5 167h0M923 132.5h0M923 162h0M923 188.5h0M923 247.5h0M923 263h0M923.5 172h0M924 246.5h0M924.5 135h0M924.5 185h0M924.5 244h0M925 167h0M925 183h0M926 248.5h0M926.5 167h0M926.5 185h0M927 157h0M927 162h0M927 182.5h0M927.5 167.5h0M927.5 179.5h0M927.5 251.5h0M927.5 271h0M927.5 277.5h0M928 150.5h0M928 160.5h0M928 176h0M928 184h0M928.5 181h0M928.5 247h0M928.5 250.5h0M929 166h0M929 184.5h0M929.5 166.5h0M930 181h0M930 239h0M930.5 166.5h0M931 150h0M931 183.5h0M931.5 241.5h0M932 133h0M932 185h0M932.5 185.5h0M932.5 242h0M933 242.5h0M933 251.5h0M933.5 143h0M933.5 174.5h0M933.5 180.5h0M933.5 181h0M933.5 186.5h0M934 136h0M934 137h0M934 144.5h0M934 150h0M934 156.5h0M934 157.5h0M934 163h0M934 168h0M934 171h0M934 175.5h0M934 243.5h0M934 251h0M934.5 144.5h0M934.5 156h0M934.5 157.5h0M934.5 162h0M934.5 165h0M934.5 175h0M934.5 179h0M935 189h0M935 247.5h0M935.5 153h0M936 166.5h0M936 187h0M936 190h0M936 261.5h0M936.5 138h0M936.5 154.5h0M936.5 156h0M936.5 184h0M936.5 290.5h0M937 124.5h0M937 168h0M937 296h0M937.5 136.5h0M937.5 138.5h0M937.5 163.5h0M937.5 164.5h0M937.5 173.5h0M937.5 191h0M938 137.5h0M938 138.5h0M938 139.5h0M938 144.5h0M938 155.5h0M938 162h0M938 171.5h0M938 178.5h0M938 183h0M938 187.5h0M938 296h0M938.5 143.5h0M938.5 146h0M938.5 160h0M938.5 166.5h0M938.5 174h0M938.5 175.5h0M938.5 180h0M938.5 184h0M938.5 185h0M938.5 290.5h0M939.5 188.5h0M939.5 287.5h0M940 189h0M940 289h0M940 294.5h0M940.5 167.5h0M940.5 192h0M941 289.5h0M941.5 132h0M941.5 179h0M942 146.5h0M942 149.5h0M942 177h0M942 179h0M942 185h0M942 288h0M942.5 142.5h0M942.5 143.5h0M942.5 176h0M942.5 177.5h0M943 157h0M943 163h0M943 167.5h0M943 179h0M943 183.5h0M943 263h0M943.5 163h0M943.5 181.5h0M943.5 242h0M944 174h0M944 245h0M944.5 171.5h0M944.5 243.5h0M945 122h0M945 182.5h0M945 247.5h0M946 115h0M946 143.5h0M946 144.5h0M946 159h0M946 176.5h0M946 255h0M946.5 127h0M946.5 159.5h0M946.5 181h0M946.5 246.5h0M947 120h0M947 161h0M947 174.5h0M947 250.5h0M947 255.5h0M947.5 133.5h0M947.5 158.5h0M947.5 171.5h0M947.5 178.5h0M947.5 180.5h0M947.5 250.5h0M947.5 260h0M947.5 271h0M948 126.5h0M948 163.5h0M948.5 110.5h0M948.5 147.5h0M948.5 157h0M948.5 166h0M948.5 245.5h0M949 111h0M949 153h0M949 171h0M949 177h0M949 179h0M949.5 124h0M949.5 167h0M949.5 181h0M950 139.5h0M950.5 165h0M950.5 168h0M950.5 247h0M950.5 310.5h0M950.5 364.5h0M950.5 414.5h0M950.5 428.5h0M950.5 446.5h0M951 137h0M951 141.5h0M951 168.5h0M951 176.5h0M951 247h0M951.5 159.5h0M951.5 180h0M952 118.5h0M952 128.5h0M952 133.5h0M952 161h0M952 178.5h0M952.5 149h0M952.5 243h0M953 125.5h0M953 244h0M953.5 155.5h0M953.5 184h0M953.5 189.5h0M953.5 243.5h0M954 131.5h0M954 167h0M954 173.5h0M954 182h0M954.5 184h0M955 150.5h0M955 162.5h0M955 182h0M955 185.5h0M955 248h0M955.5 169.5h0M955.5 183.5h0M955.5 244.5h0M956 162h0M956 243h0M956 261.5h0M956.5 162h0M957 143h0M957 175h0M957 185h0M957.5 157.5h0M957.5 165.5h0M957.5 166h0M957.5 177.5h0M957.5 191h0M957.5 248h0M958 146.5h0M958 170h0M958 171h0M958 171.5h0M958 179.5h0M958 182h0M958 182.5h0M958 249h0M958.5 145h0M958.5 147.5h0M958.5 160h0M958.5 171.5h0M958.5 172h0M958.5 179h0M958.5 184h0M959 136h0M959 140.5h0M959 145.5h0M959 146.5h0M959 149h0M959 149.5h0M959 150.5h0M959 152.5h0M959 154h0M959 158.5h0M959 162.5h0M959 163h0M959 167.5h0M959 171.5h0M959 177.5h0M959 190h0M959 252h0M959.5 147.5h0M959.5 155h0M959.5 158.5h0M959.5 163h0M959.5 167h0M959.5 167.5h0M959.5 168h0M959.5 179.5h0M959.5 184.5h0M960.5 137.5h0M960.5 154h0M960.5 159.5h0M960.5 183h0M960.5 251h0M961 150h0M961 154h0M961 160h0M961 257h0M961.5 134h0M961.5 141.5h0M961.5 159h0M961.5 164.5h0M961.5 165h0M961.5 170.5h0M961.5 185h0M961.5 256.5h0M962 121.5h0M962 146h0M962 162.5h0M962 172.5h0M962 187.5h0M962.5 150h0M962.5 178.5h0M962.5 179.5h0M962.5 262.5h0M963 180.5h0M963 189h0M963 278h0M963.5 126h0M963.5 289h0M964 170.5h0M964 186h0M964.5 119.5h0M964.5 135h0M964.5 176h0M965 124.5h0M965 144.5h0M965 187.5h0M965 305h0M965 320h0M965.5 174h0M966 188h0M966 311.5h0M966.5 168.5h0M966.5 302h0M966.5 304h0M967 143h0M967 191.5h0M968 149.5h0M968 172.5h0M968 179.5h0M968 189.5h0M968 193h0M968 304h0M968.5 185h0M968.5 189.5h0M968.5 303h0M969 157h0M969 191.5h0M969.5 167h0M969.5 177h0M969.5 178h0M969.5 189.5h0M970 305h0M971 188.5h0M971 191h0M971 293.5h0M971.5 170.5h0M971.5 181.5h0M971.5 186.5h0M972 171.5h0M972 172.5h0M972 173h0M972 180.5h0M972 187.5h0M972 192.5h0M972 269.5h0M972 283h0M972.5 164.5h0M972.5 172.5h0M972.5 175h0M972.5 182.5h0M972.5 191h0M972.5 256h0M974 185h0M974 196h0M974 255h0M974 259h0M974.5 153.5h0M974.5 158h0M974.5 183h0M974.5 255.5h0M975 155.5h0M975 159.5h0M975 186h0M975 259h0M975.5 174.5h0M976 165.5h0M976 177.5h0M976 180.5h0M976 185h0M976 252h0M977 148h0M977 175.5h0M977 179.5h0M977 180.5h0M977 182h0M977 185.5h0M977.5 149h0M977.5 162.5h0M977.5 250h0M977.5 253.5h0M978 146.5h0M978 179.5h0M978.5 155h0M978.5 169.5h0M978.5 177h0M978.5 191.5h0M979 140h0M979 159h0M979 164.5h0M979 166h0M979 172.5h0M979 189h0M979 253h0M979.5 153h0M979.5 253h0M980 148h0M980 161.5h0M980 186h0M980.5 138.5h0M980.5 186.5h0M980.5 254h0M981 159.5h0M981.5 187h0M981.5 188h0M982 150.5h0M982 171.5h0M982 177.5h0M982 249.5h0M982.5 172.5h0M982.5 180h0M982.5 189h0M983 161h0M983 170.5h0M983 261.5h0M983.5 183h0M983.5 249.5h0M984 186.5h0M984 195h0M984 250.5h0M984.5 184h0M984.5 186h0M985 176h0M985 191h0M985 192.5h0M985 266h0M985.5 191h0M985.5 246h0M986 175h0M986 249h0M987 192h0M987 252h0M987 284.5h0M987.5 182.5h0M987.5 205.5h0M987.5 255h0M987.5 256h0M987.5 265h0M987.5 271.5h0M987.5 280h0M987.5 295.5h0M987.5 299.5h0M988 169.5h0M988 170.5h0M988 178.5h0M988 196h0M988 256.5h0M988 264h0M988 269.5h0M988 271h0M988 283.5h0M988 287.5h0M988 298h0M988 305h0M988 308.5h0M988.5 164h0M988.5 170h0M988.5 205.5h0M988.5 275.5h0M988.5 304.5h0M989 138.5h0M989 193.5h0M989 272h0M989 274h0M989 275.5h0M989 283h0M989.5 185.5h0M989.5 206h0M989.5 257h0M989.5 266h0M989.5 267h0M989.5 267.5h0M989.5 268h0M989.5 268.5h0M989.5 271.5h0M989.5 272h0M989.5 275h0M989.5 277h0M989.5 280.5h0M989.5 284.5h0M990 265h0M990 268.5h0M990 272.5h0M990 275.5h0M990 278.5h0M990 285h0M990 291.5h0M990.5 264.5h0M990.5 266.5h0M990.5 269.5h0M990.5 279.5h0M990.5 283h0M991 112.5h0M991 204.5h0M991 257h0M991 265h0M991 267.5h0M991 290h0M991.5 174.5h0M991.5 203.5h0M991.5 256h0M991.5 286h0M991.5 301h0M991.5 343.5h0M992 172.5h0M992 268.5h0M992 272.5h0M992.5 144.5h0M992.5 179.5h0M992.5 205h0M992.5 258h0M992.5 266h0M992.5 271.5h0M992.5 272h0M992.5 276.5h0M992.5 307.5h0M993 117h0M993 163h0M993 206h0M993 275h0M993 281.5h0M993.5 132h0M993.5 155.5h0M993.5 305h0M993.5 307.5h0M993.5 323.5h0M993.5 328.5h0M993.5 350.5h0M994 186.5h0M994 187h0M994 193.5h0M994 256.5h0M994 265h0M994 269.5h0M994 275h0M994 282h0M994 286h0M994 302h0M994.5 156h0M994.5 257h0M994.5 265h0M994.5 272h0M994.5 277.5h0M994.5 344.5h0M995 183.5h0M995 203h0M995 277h0M995 279h0M995 323h0M996 174h0M996 192h0M996 204h0M996 258.5h0M996.5 166.5h0M996.5 173h0M996.5 203h0M996.5 287h0M997 165h0M997 258h0M997 301h0M997.5 188h0M997.5 259h0M997.5 272h0M998 176.5h0M998 179.5h0M998 202.5h0M998 205h0M998 266.5h0M998.5 156h0M998.5 167h0M998.5 191.5h0M998.5 267.5h0M998.5 318h0M999 191h0M999 260.5h0M999 267h0M999 268h0M999 299h0M999 327.5h0M999.5 165h0M999.5 182h0M999.5 185h0M999.5 202h0M999.5 259.5h0M999.5 281h0M999.5 282.5h0M999.5 287h0M999.5 329.5h0M1000 167h0M1000 184.5h0M1000 264.5h0M1000 311.5h0M1000 326h0M1000.5 163.5h0M1000.5 202.5h0M1001 159.5h0M1001 260.5h0M1001 275.5h0M1001.5 202.5h0M1001.5 266h0M1002 149h0M1002 158h0M1002 163h0M1002 261h0M1002.5 93.5h0M1002.5 203.5h0M1002.5 261h0M1002.5 308.5h0M1003 166.5h0M1003 260.5h0M1003 272h0M1003 278.5h0M1003 311h0M1003.5 182h0M1003.5 269h0M1003.5 271h0M1003.5 272h0M1003.5 280h0M1003.5 336h0M1004 155h0M1004 202h0M1004 260.5h0M1004.5 157h0M1004.5 162.5h0M1004.5 200.5h0M1004.5 268h0M1004.5 271h0M1004.5 284.5h0M1004.5 285h0M1005 152h0M1005 262h0M1005 265.5h0M1005 269h0M1005 274.5h0M1005 276.5h0M1005 281h0M1005 286h0M1005 310h0M1005.5 165.5h0M1005.5 199.5h0M1005.5 266h0M1005.5 279.5h0M1005.5 312.5h0M1006 266.5h0M1006 282h0M1006.5 260.5h0M1006.5 268.5h0M1006.5 269.5h0M1006.5 275.5h0M1006.5 278.5h0M1006.5 285h0M1007 134h0M1007 159h0M1007 198.5h0M1007 265.5h0M1007 277h0M1007 288h0M1007.5 198.5h0M1007.5 260.5h0M1007.5 291.5h0M1007.5 303.5h0M1007.5 305.5h0M1007.5 310.5h0M1008 176.5h0M1008 181.5h0M1008.5 186.5h0M1008.5 198h0M1008.5 260.5h0M1008.5 296.5h0M1008.5 302h0M1009 115.5h0M1009 295h0M1009.5 139.5h0M1009.5 183h0M1010 161.5h0M1010 171h0M1010 190.5h0M1010 197h0M1010 261h0M1010 293h0M1010.5 180h0M1010.5 192.5h0M1010.5 261h0M1010.5 333.5h0M1011 184.5h0M1011 189h0M1011 195.5h0M1011 275h0M1011.5 194.5h0M1011.5 260h0M1011.5 285.5h0M1011.5 286.5h0M1011.5 322h0M1012 180.5h0M1012 194h0M1012 284.5h0M1012 285h0M1012.5 131.5h0M1012.5 193.5h0M1012.5 261h0M1012.5 272h0M1012.5 288.5h0M1012.5 330h0M1012.5 332.5h0M1013 155.5h0M1013 186.5h0M1013.5 133.5h0M1013.5 195.5h0M1013.5 262h0M1013.5 265.5h0M1013.5 266h0M1013.5 266.5h0M1013.5 301.5h0M1014 269.5h0M1014 316.5h0M1014 343h0M1014.5 194.5h0M1014.5 263h0M1014.5 275.5h0M1014.5 280.5h0M1014.5 295h0M1015 298h0M1015.5 147h0M1015.5 169.5h0M1015.5 179h0M1015.5 187.5h0M1015.5 263h0M1015.5 267.5h0M1015.5 277.5h0M1015.5 278h0M1015.5 282h0M1015.5 307.5h0M1016 186h0M1016 192.5h0M1016 195.5h0M1016 267.5h0M1016 282.5h0M1016 294.5h0M1016 307.5h0M1016.5 137.5h0M1016.5 166.5h0M1016.5 176.5h0M1016.5 264h0M1016.5 265.5h0M1017 271.5h0M1017 272.5h0M1017 276h0M1017 278h0M1017 283h0M1017.5 174h0M1017.5 263h0M1017.5 265.5h0M1017.5 267h0M1017.5 268.5h0M1017.5 272.5h0M1017.5 273h0M1017.5 274h0M1017.5 276h0M1017.5 277h0M1017.5 278h0M1017.5 279h0M1017.5 281h0M1018 196h0M1018 265h0M1018 265.5h0M1018 266h0M1018 266.5h0M1018 270.5h0M1018 272h0M1018 274h0M1018.5 185.5h0M1018.5 190h0M1018.5 192.5h0M1018.5 193.5h0M1018.5 195.5h0M1018.5 265.5h0M1018.5 267.5h0M1018.5 269.5h0M1018.5 275.5h0M1018.5 278h0M1018.5 348.5h0M1019 150.5h0M1019 178h0M1019 178.5h0M1019 264h0M1019 273.5h0M1019 279.5h0M1019 301h0M1019 324h0M1019.5 151.5h0M1019.5 195.5h0M1019.5 265h0M1019.5 297.5h0M1020 264h0M1020 267.5h0M1020 284h0M1020 284.5h0M1020 301.5h0M1020.5 180.5h0M1020.5 194h0M1020.5 265h0M1020.5 273.5h0M1020.5 277h0M1021 191h0M1021 267h0M1021.5 193.5h0M1021.5 263h0M1021.5 284h0M1022 128.5h0M1022 272.5h0M1022 277.5h0M1022.5 193.5h0M1022.5 263h0M1022.5 265h0M1022.5 268.5h0M1022.5 269h0M1022.5 270h0M1022.5 271.5h0M1022.5 272h0M1022.5 273h0M1022.5 273.5h0M1022.5 275.5h0M1022.5 278h0M1022.5 280h0M1022.5 281h0M1022.5 283.5h0M1022.5 284h0M1022.5 296.5h0M1022.5 309.5h0M1023 171.5h0M1023 261h0M1023 265.5h0M1023 275h0M1023 277.5h0M1023 278.5h0M1023 289.5h0M1023 300h0M1023.5 176.5h0M1023.5 187h0M1023.5 189h0M1023.5 342h0M1024 168.5h0M1024 194.5h0M1024 195.5h0M1024 261.5h0M1024.5 267.5h0M1024.5 299.5h0M1024.5 321h0M1025 189.5h0M1025 269.5h0M1025 273.5h0M1025 274.5h0M1025 280h0M1025 348.5h0M1025 355.5h0M1025 385.5h0M1025 395h0M1025.5 183.5h0M1025.5 185.5h0M1025.5 261.5h0M1025.5 265.5h0M1025.5 282h0M1026 192h0M1026 265.5h0M1026 273h0M1026 277h0M1026 282h0M1026 293h0M1026 315.5h0M1026 331.5h0M1026.5 192h0M1026.5 281.5h0M1026.5 292.5h0M1026.5 317h0M1027 190h0M1027 260h0M1027 271h0M1027 273h0M1027 277h0M1027.5 94h0M1027.5 164.5h0M1027.5 185h0M1027.5 191h0M1027.5 193h0M1027.5 263h0M1028 174.5h0M1028 186.5h0M1028 194h0M1028 273.5h0M1028 278h0M1028 282.5h0M1028 290h0M1028.5 171.5h0M1028.5 174.5h0M1028.5 193h0M1028.5 264h0M1028.5 363.5h0M1028.5 371.5h0M1028.5 385h0M1028.5 391.5h0M1028.5 399.5h0M1028.5 411.5h0M1028.5 420h0M1028.5 425h0M1029 174h0M1029 176h0M1029 187h0M1029 291h0M1029.5 168h0M1029.5 172.5h0M1029.5 175h0M1029.5 189h0M1029.5 191.5h0M1029.5 193.5h0M1029.5 274h0M1029.5 285h0M1030 153h0M1030 190h0M1030 265h0M1030.5 266.5h0M1030.5 276.5h0M1031 174.5h0M1031 176.5h0M1031 194h0M1031 266h0M1031.5 173h0M1031.5 268.5h0M1031.5 287h0M1032 142h0M1032 168.5h0M1032 195.5h0M1032 274.5h0M1032 276.5h0M1032 310h0M1032.5 183h0M1032.5 187h0M1032.5 196h0M1032.5 266h0M1032.5 294h0M1033 187.5h0M1033 194h0M1033 292.5h0M1033.5 267h0M1033.5 355.5h0M1033.5 396.5h0M1034 182h0M1034 184h0M1034 196.5h0M1034 277.5h0M1034 285.5h0M1034.5 182.5h0M1034.5 189.5h0M1034.5 193.5h0M1034.5 265.5h0M1034.5 275h0M1035 181.5h0M1035 187h0M1035 188h0M1035.5 195h0M1035.5 264.5h0M1035.5 266.5h0M1035.5 277h0M1035.5 282h0M1035.5 283.5h0M1036 175h0M1036 191.5h0M1036 267h0M1036 276h0M1036 306.5h0M1036.5 189.5h0M1036.5 193.5h0M1036.5 194.5h0M1036.5 263.5h0M1036.5 305.5h0M1037 145.5h0M1037 159.5h0M1037 187.5h0M1037 285h0M1037.5 262h0M1037.5 266h0M1037.5 270h0M1037.5 307.5h0M1038 196h0M1038 282h0M1038 305.5h0M1038.5 149h0M1038.5 153h0M1038.5 189h0M1038.5 195.5h0M1038.5 261h0M1038.5 271.5h0M1038.5 278.5h0M1038.5 280.5h0M1038.5 284.5h0M1038.5 295h0M1038.5 301h0M1039 184.5h0M1039 189h0M1039 268h0M1039.5 169.5h0M1039.5 189h0M1039.5 196.5h0M1039.5 262.5h0M1039.5 323h0M1040 143h0M1040 197.5h0M1040 261.5h0M1040 290.5h0M1040.5 167h0M1040.5 173h0M1040.5 290.5h0M1040.5 293h0M1041 155.5h0M1041 279h0M1041 293.5h0M1041 317.5h0M1041.5 184h0M1041.5 184.5h0M1041.5 190.5h0M1041.5 348.5h0M1041.5 356.5h0M1042 192.5h0M1042 197h0M1042 262.5h0M1042 275h0M1042.5 173h0M1042.5 195h0M1042.5 263.5h0M1043 271.5h0M1043 319.5h0M1043.5 173h0M1043.5 195h0M1043.5 262h0M1043.5 277.5h0M1043.5 324h0M1044 195.5h0M1044.5 184h0M1044.5 184.5h0M1044.5 263h0M1044.5 284.5h0M1044.5 328.5h0M1045 192.5h0M1045.5 190.5h0M1045.5 191h0M1045.5 262.5h0M1045.5 280h0M1045.5 283h0M1045.5 316.5h0M1046 195h0M1046 264.5h0M1046 293h0M1046.5 196h0M1046.5 279.5h0M1046.5 291.5h0M1047 133.5h0M1047 183.5h0M1047 285h0M1047 290h0M1047 295h0M1047.5 165h0M1047.5 181h0M1047.5 195h0M1047.5 355.5h0M1048 188h0M1048 264.5h0M1048 273.5h0M1048 287h0M1048 287.5h0M1048.5 196.5h0M1048.5 262h0M1048.5 267h0M1048.5 283h0M1048.5 301.5h0M1049 195.5h0M1049 264.5h0M1049 319h0M1049.5 171h0M1049.5 291h0M1050 263.5h0M1050.5 153.5h0M1050.5 194.5h0M1050.5 292.5h0M1051 129h0M1051 151.5h0M1051 174h0M1051 285h0M1051.5 195.5h0M1051.5 262h0M1051.5 285.5h0M1051.5 293.5h0M1052 144.5h0M1052 153.5h0M1052 176.5h0M1052 179h0M1052 187.5h0M1052 194.5h0M1052 267.5h0M1052 268.5h0M1052 283h0M1052.5 140.5h0M1052.5 149.5h0M1052.5 163.5h0M1052.5 266h0M1052.5 271h0M1052.5 283h0M1052.5 337h0M1052.5 354.5h0M1053 261h0M1053 266.5h0M1053 269.5h0M1053 335h0M1053.5 160.5h0M1053.5 195.5h0M1053.5 262.5h0M1053.5 265.5h0M1053.5 272.5h0M1053.5 273h0M1053.5 276.5h0M1053.5 279.5h0M1053.5 284h0M1053.5 342.5h0M1054 176.5h0M1054 269.5h0M1054 272h0M1054 274h0M1054 284.5h0M1054 318.5h0M1054.5 187.5h0M1054.5 195h0M1054.5 262.5h0M1055 152.5h0M1055 180.5h0M1055 282h0M1055 297h0M1055.5 157.5h0M1055.5 176h0M1055.5 179.5h0M1055.5 180.5h0M1055.5 181h0M1055.5 193.5h0M1055.5 264h0M1055.5 345h0M1056 151h0M1056 154h0M1056 181h0M1056 184.5h0M1056 305h0M1056.5 194h0M1056.5 262.5h0M1056.5 268h0M1056.5 273.5h0M1057 156.5h0M1057 183h0M1057 268h0M1057 274.5h0M1057 275h0M1057 310h0M1057.5 135.5h0M1057.5 140.5h0M1057.5 193h0M1057.5 277.5h0M1057.5 300h0M1058 186h0M1058 188h0M1058 262.5h0M1058 268h0M1058 316h0M1058.5 144h0M1058.5 163.5h0M1058.5 191.5h0M1058.5 194h0M1058.5 264h0M1058.5 274h0M1058.5 279.5h0M1059 140.5h0M1059 161.5h0M1059 179.5h0M1059 266.5h0M1059.5 129h0M1059.5 130.5h0M1059.5 138h0M1059.5 161.5h0M1059.5 192.5h0M1059.5 194h0M1060 135h0M1060 189h0M1060 264h0M1060 305.5h0M1060 338.5h0M1060.5 179.5h0M1060.5 182.5h0M1060.5 195h0M1060.5 269.5h0M1060.5 276h0M1061 130h0M1061 174h0M1061 192.5h0M1061.5 162h0M1061.5 195.5h0M1061.5 264h0M1061.5 269h0M1061.5 277.5h0M1062 280h0M1062 292h0M1062.5 174.5h0M1062.5 263.5h0M1062.5 270.5h0M1063 193.5h0M1063 264h0M1063.5 167h0M1063.5 194.5h0M1063.5 266h0M1063.5 276h0M1064 194.5h0M1064 277h0M1064.5 263h0M1064.5 268h0M1064.5 273.5h0M1064.5 311h0M1065 274h0M1065 294.5h0M1065.5 118.5h0M1065.5 150h0M1065.5 155h0M1065.5 158.5h0M1065.5 178h0M1065.5 193.5h0M1065.5 194h0M1065.5 264.5h0M1065.5 267h0M1065.5 271.5h0M1065.5 284.5h0M1066 161.5h0M1066 183.5h0M1066 184.5h0M1066 193h0M1066 264.5h0M1066 269h0M1066 279h0M1066.5 155h0M1066.5 175h0M1066.5 185.5h0M1066.5 197.5h0M1066.5 264.5h0M1066.5 265.5h0M1066.5 277h0M1066.5 280.5h0M1066.5 293h0M1067 176.5h0M1067 186.5h0M1067 187.5h0M1067.5 120.5h0M1067.5 181h0M1067.5 183h0M1067.5 196.5h0M1067.5 263h0M1067.5 273h0M1068 175h0M1068 268h0M1068 282h0M1068 300.5h0M1068.5 135h0M1068.5 145h0M1068.5 170.5h0M1068.5 195.5h0M1068.5 263.5h0M1068.5 270.5h0M1069 145h0M1069 173h0M1069 263h0M1069 269h0M1069 279.5h0M1069 324h0M1069 334.5h0M1069 335.5h0M1069.5 148.5h0M1069.5 193.5h0M1069.5 268.5h0M1069.5 338.5h0M1069.5 356.5h0M1070 163.5h0M1070.5 261.5h0M1070.5 285.5h0M1070.5 353.5h0M1071 192h0M1071 273.5h0M1071 300.5h0M1071 340h0M1071.5 171h0M1071.5 264h0M1072 192.5h0M1072 193h0M1072 263.5h0M1072 264h0M1072 268h0M1072.5 149h0M1072.5 153h0M1072.5 165h0M1073 267.5h0M1073 290h0M1073 332h0M1073.5 160.5h0M1073.5 261.5h0M1073.5 264h0M1073.5 265.5h0M1073.5 272.5h0M1073.5 284.5h0M1074 193.5h0M1074 292h0M1074 303h0M1074.5 93.5h0M1074.5 272.5h0M1075 152h0M1075 192h0M1075 261h0M1075.5 169.5h0M1075.5 185.5h0M1075.5 191.5h0M1075.5 260.5h0M1075.5 277h0M1075.5 293.5h0M1076 189.5h0M1076 273.5h0M1076.5 151.5h0M1076.5 192h0M1076.5 278.5h0M1076.5 287.5h0M1076.5 344.5h0M1076.5 358.5h0M1076.5 378.5h0M1077 174h0M1077 188.5h0M1077 193h0M1077 260.5h0M1077 263h0M1077 271h0M1077 280h0M1077 297.5h0M1077.5 193.5h0M1077.5 295h0M1077.5 299.5h0M1078 181h0M1078 186.5h0M1078 193.5h0M1078 274.5h0M1078 298h0M1078 303.5h0M1078.5 194h0M1078.5 263.5h0M1078.5 275h0M1078.5 335.5h0M1078.5 352.5h0M1079 166h0M1079 195.5h0M1079 282.5h0M1079 318h0M1079 342.5h0M1079.5 178h0M1079.5 180h0M1079.5 183.5h0M1079.5 262h0M1079.5 271.5h0M1079.5 280.5h0M1079.5 292h0M1079.5 316h0M1080 166.5h0M1080 167.5h0M1080 293.5h0M1080.5 147h0M1080.5 175h0M1080.5 176h0M1080.5 261.5h0M1080.5 289h0M1081 196.5h0M1081 327.5h0M1081.5 156h0M1081.5 197h0M1081.5 290h0M1081.5 290.5h0M1081.5 313.5h0M1082 190.5h0M1082 262h0M1082 272.5h0M1082.5 197h0M1082.5 262h0M1082.5 276.5h0M1082.5 337.5h0M1083 184h0M1083 198h0M1083 283h0M1083 289h0M1083.5 148.5h0M1083.5 190h0M1083.5 261h0M1083.5 292.5h0M1084 192.5h0M1084 279.5h0M1084 283.5h0M1084 286h0M1084 310h0M1084 323h0M1084.5 161h0M1084.5 161.5h0M1084.5 181.5h0M1084.5 198h0M1084.5 260h0M1084.5 265.5h0M1084.5 271h0M1084.5 272h0M1084.5 298.5h0M1085 106h0M1085 155.5h0M1085 162h0M1085 188.5h0M1085 191.5h0M1085 265.5h0M1085 274.5h0M1085 279h0M1085.5 197.5h0M1085.5 259.5h0M1085.5 271h0M1085.5 304.5h0M1085.5 306h0M1086 196h0M1086.5 142.5h0M1086.5 258.5h0M1086.5 267h0M1087 143h0M1087 185h0M1087 270.5h0M1087.5 198h0M1088 258.5h0M1088 277.5h0M1088 284h0M1088 286h0M1088.5 152h0M1088.5 157h0M1088.5 174h0M1088.5 199h0M1088.5 259h0M1088.5 288.5h0M1089 278.5h0M1089.5 188h0M1089.5 189h0M1089.5 200h0M1089.5 259.5h0M1089.5 279h0M1089.5 280.5h0M1089.5 320h0M1089.5 324h0M1089.5 324.5h0M1089.5 350h0M1090 189.5h0M1090 190.5h0M1090 258.5h0M1090 264h0M1090 270.5h0M1090 275.5h0M1090 281h0M1090 310.5h0M1090.5 193h0M1090.5 264h0M1090.5 270.5h0M1090.5 273.5h0M1090.5 278h0M1090.5 295.5h0M1091 167h0M1091 184h0M1091 200h0M1091 260.5h0M1091 264.5h0M1091 279h0M1091 284h0M1091.5 185.5h0M1091.5 201.5h0M1091.5 350.5h0M1092 262.5h0M1092 268h0M1092 269h0M1092 292h0M1092.5 155h0M1092.5 183.5h0M1092.5 281.5h0M1092.5 292.5h0M1092.5 303h0M1093 201h0M1093 291.5h0M1093.5 201h0M1093.5 262.5h0M1093.5 264.5h0M1093.5 265.5h0M1094 167.5h0M1094 267.5h0M1094 268.5h0M1094 281h0M1094 306h0M1094.5 201h0M1094.5 264h0M1094.5 264.5h0M1094.5 267h0M1094.5 271h0M1094.5 326h0M1094.5 355.5h0M1094.5 376.5h0M1094.5 390.5h0M1095 185.5h0M1095 267h0M1095 271.5h0M1095 279h0M1095 280h0M1095 292h0M1095.5 131h0M1095.5 168.5h0M1095.5 180.5h0M1095.5 187h0M1095.5 188h0M1095.5 191h0M1095.5 201.5h0M1096 186h0M1096 192h0M1096 262.5h0M1096 264h0M1096.5 150.5h0M1096.5 197h0M1096.5 275h0M1096.5 287.5h0M1096.5 293h0M1097 145.5h0M1097 147.5h0M1097 158h0M1097 193h0M1097 197.5h0M1097 264h0M1097.5 183.5h0M1097.5 262h0M1097.5 269h0M1098 185h0M1098 186h0M1098 280h0M1098.5 174.5h0M1098.5 196.5h0M1098.5 261h0M1098.5 286.5h0M1098.5 291h0M1098.5 292.5h0M1099 283h0M1099 286.5h0M1099.5 183.5h0M1099.5 186h0M1099.5 262h0M1100 163.5h0M1100 195.5h0M1100.5 185h0M1100.5 196h0M1100.5 260.5h0M1100.5 264.5h0M1101 186.5h0M1101 193.5h0M1101 195h0M1101 259h0M1101.5 273h0M1102 113.5h0M1102 195h0M1102.5 259.5h0M1103 175h0M1103 193.5h0M1103 260.5h0M1103 285h0M1103 313h0M1103.5 173.5h0M1103.5 180h0M1103.5 188.5h0M1103.5 191.5h0M1103.5 193.5h0M1103.5 269.5h0M1103.5 277h0M1103.5 280h0M1103.5 284h0M1104 139h0M1104 168h0M1104 195h0M1104 284.5h0M1104 302h0M1104.5 170.5h0M1104.5 194.5h0M1104.5 261.5h0M1105 166h0M1105 171h0M1105.5 169.5h0M1106 162h0M1106 186.5h0M1106 195.5h0M1106 264h0M1106.5 182h0M1106.5 184h0M1106.5 189.5h0M1106.5 197h0M1106.5 263.5h0M1106.5 264h0M1107 171.5h0M1107 179.5h0M1107 181.5h0M1107.5 111h0M1107.5 197h0M1107.5 262.5h0M1107.5 277.5h0M1107.5 278h0M1108 277h0M1108.5 199.5h0M1109 262.5h0M1109.5 198.5h0M1109.5 264.5h0M1109.5 275.5h0M1109.5 281h0M1110 147h0M1110 263.5h0M1110 274.5h0M1110 351h0M1110.5 176.5h0M1110.5 177h0M1110.5 177.5h0M1110.5 200.5h0M1110.5 278h0M1111 153.5h0M1111.5 186.5h0M1111.5 191h0M1111.5 199.5h0M1111.5 263h0M1111.5 268.5h0M1112 152.5h0M1112 186.5h0M1112 191h0M1112 269h0M1112 286.5h0M1112 295.5h0M1112.5 200h0M1112.5 262.5h0M1113 277.5h0M1113 302h0M1113.5 163h0M1113.5 190h0M1113.5 200.5h0M1113.5 261.5h0M1113.5 269h0M1113.5 363.5h0M1114 113h0M1114 186.5h0M1114 191.5h0M1114 193.5h0M1114 201h0M1114 294h0M1114 296.5h0M1114 308.5h0M1114.5 179h0M1114.5 261h0M1115 143h0M1115 178.5h0M1115 180h0M1115 187.5h0M1115 269.5h0M1115 270h0M1115.5 145h0M1115.5 198h0M1115.5 262h0M1115.5 306.5h0M1116 186h0M1116 190.5h0M1116 289h0M1116.5 151.5h0M1116.5 198h0M1116.5 262h0M1116.5 373.5h0M1116.5 391.5h0M1116.5 401.5h0M1117 288.5h0M1117 349.5h0M1117.5 112h0M1117.5 169h0M1117.5 195.5h0M1117.5 263h0M1118.5 161h0M1118.5 195.5h0M1118.5 263h0M1118.5 264h0M1118.5 286h0M1118.5 297h0M1119 263h0M1119 298h0M1119.5 172.5h0M1119.5 194h0M1119.5 279h0M1119.5 284.5h0M1120 178.5h0M1120 273h0M1120 274.5h0M1120.5 171h0M1120.5 280.5h0M1120.5 305h0M1121 164h0M1121 173.5h0M1121 194.5h0M1121 263h0M1121 266.5h0M1121 278h0M1121 279h0M1121 346h0M1121.5 181h0M1121.5 190h0M1121.5 194.5h0M1121.5 263.5h0M1121.5 264.5h0M1121.5 268h0M1121.5 270h0M1121.5 277h0M1121.5 277.5h0M1121.5 304h0M1122 187.5h0M1122 266.5h0M1122 273h0M1122 275.5h0M1122 295.5h0M1122 301.5h0M1122.5 161h0M1122.5 165.5h0M1122.5 264h0M1122.5 264.5h0M1122.5 273h0M1122.5 274.5h0M1122.5 276.5h0M1122.5 280.5h0M1122.5 302.5h0M1122.5 339.5h0M1123 193.5h0M1123 264.5h0M1123 265h0M1123 268.5h0M1123 269.5h0M1123 276.5h0M1123 283.5h0M1123 284.5h0M1123 288.5h0M1123 289.5h0M1123 297h0M1123.5 193h0M1123.5 264.5h0M1123.5 265.5h0M1123.5 274.5h0M1123.5 282h0M1123.5 288h0M1123.5 314.5h0M1123.5 323.5h0M1124 265.5h0M1124 273h0M1124 275h0M1124 283.5h0M1124.5 185h0M1124.5 186h0M1124.5 186.5h0M1124.5 192h0M1124.5 317.5h0M1124.5 325h0M1124.5 331h0M1125 179.5h0M1125 180h0M1125 188h0M1125 193h0M1125 264h0M1125 271.5h0M1125 294.5h0M1125 329.5h0M1125.5 145h0M1125.5 155h0M1125.5 193h0M1125.5 265.5h0M1126 169h0M1126 265h0M1126 274.5h0M1126 313h0M1126.5 139.5h0M1126.5 193.5h0M1126.5 281h0M1127 265h0M1127 267.5h0M1127 285h0M1127.5 193.5h0M1127.5 264.5h0M1127.5 267h0M1128 186.5h0M1128 192.5h0M1128 291.5h0M1128.5 189.5h0M1128.5 192.5h0M1128.5 193h0M1128.5 267h0M1128.5 277.5h0M1128.5 296.5h0M1128.5 297h0M1129 167.5h0M1129 171h0M1129 181.5h0M1129 275.5h0M1129 287.5h0M1129 289.5h0M1129.5 143.5h0M1129.5 148.5h0M1129.5 192h0M1129.5 265.5h0M1129.5 284.5h0M1130 187.5h0M1130 269h0M1130 271h0M1130 274h0M1130 288h0M1130 322h0M1130 350.5h0M1130.5 130.5h0M1130.5 138.5h0M1130.5 168h0M1130.5 183.5h0M1130.5 193h0M1130.5 266h0M1130.5 267.5h0M1130.5 278h0M1131 135h0M1131 181h0M1131 282.5h0M1131 285.5h0M1131 298.5h0M1131.5 192.5h0M1131.5 263.5h0M1131.5 268.5h0M1131.5 269.5h0M1131.5 284.5h0M1131.5 287h0M1131.5 290.5h0M1132 151.5h0M1132 268.5h0M1132 272.5h0M1132 292h0M1132 297.5h0M1132.5 186h0M1132.5 190h0M1132.5 193h0M1132.5 264.5h0M1132.5 275.5h0M1132.5 277.5h0M1132.5 287h0M1132.5 288h0M1132.5 301.5h0M1133 160.5h0M1133 164h0M1133 169h0M1133 279h0M1133 296h0M1133 301.5h0M1133 310.5h0M1133.5 177.5h0M1133.5 195h0M1133.5 262.5h0M1133.5 266.5h0M1133.5 270h0M1133.5 277h0M1133.5 285.5h0M1133.5 286h0M1133.5 291h0M1133.5 308.5h0M1133.5 310h0M1134 261.5h0M1134 287.5h0M1134 351.5h0M1134 357.5h0M1134.5 196.5h0M1134.5 272h0M1135 156.5h0M1135 170.5h0M1135.5 152.5h0M1135.5 161h0M1135.5 197.5h0M1135.5 262h0M1135.5 276h0M1136 150h0M1136 271.5h0M1136 273h0M1136 273.5h0M1136 283h0M1136.5 138.5h0M1136.5 199h0M1136.5 263h0M1136.5 265.5h0M1136.5 276h0M1136.5 276.5h0M1136.5 278.5h0M1136.5 283h0M1137 198h0M1137 269.5h0M1137 273.5h0M1137 282.5h0M1137.5 262h0M1137.5 269.5h0M1137.5 278.5h0M1137.5 282.5h0M1137.5 317h0M1138 176.5h0M1138 192h0M1138 199.5h0M1138 264h0M1138 272h0M1138 272.5h0M1138 273.5h0M1138 277.5h0M1138 280h0M1138.5 263.5h0M1139 117.5h0M1139 132.5h0M1139 184.5h0M1139 270.5h0M1139 278h0M1139.5 179h0M1139.5 193.5h0M1139.5 199h0M1139.5 262.5h0M1139.5 295h0M1140 183.5h0M1140 184h0M1140 188.5h0M1140 189.5h0M1140 270h0M1140 311h0M1140 317.5h0M1140.5 95.5h0M1140.5 184.5h0M1140.5 190h0M1140.5 191h0M1140.5 199h0M1140.5 265.5h0M1140.5 266h0M1140.5 270.5h0M1140.5 274.5h0M1140.5 276.5h0M1140.5 308h0M1141 264h0M1141 275.5h0M1141.5 139.5h0M1141.5 140h0M1141.5 198.5h0M1141.5 263h0M1141.5 269h0M1142 165.5h0M1142.5 197.5h0M1142.5 265h0M1142.5 269.5h0M1142.5 272.5h0M1142.5 360.5h0M1143 153.5h0M1143 171h0M1143 266h0M1143 269h0M1143 275h0M1143 278.5h0M1143 281h0M1143 289h0M1143 305.5h0M1143.5 155.5h0M1143.5 175h0M1143.5 197.5h0M1143.5 263.5h0M1143.5 264h0M1143.5 271h0M1143.5 271.5h0M1143.5 275h0M1143.5 283.5h0M1143.5 284h0M1144 181.5h0M1144.5 170.5h0M1144.5 190.5h0M1144.5 193.5h0M1144.5 196.5h0M1144.5 262.5h0M1144.5 292.5h0M1144.5 311.5h0M1145 197.5h0M1145 270h0M1145 276.5h0M1145 278.5h0M1145 281h0M1145 296.5h0M1145.5 193h0M1145.5 262.5h0M1145.5 274h0M1145.5 277.5h0M1145.5 284.5h0M1145.5 286.5h0M1145.5 290h0M1145.5 290.5h0M1145.5 311.5h0M1146 173.5h0M1146 271h0M1146 287h0M1146 310h0M1146.5 286h0M1146.5 287h0M1146.5 290.5h0M1146.5 345h0M1146.5 357.5h0M1146.5 379h0M1146.5 383.5h0M1146.5 399.5h0M1147 154h0M1147 181h0M1147 196.5h0M1147 198h0M1147 262h0M1147 287.5h0M1147 298h0M1147.5 162.5h0M1147.5 261h0M1147.5 264h0M1147.5 267.5h0M1147.5 305.5h0M1148 143h0M1148 157h0M1148 268.5h0M1148 273.5h0M1148 277h0M1148.5 159h0M1148.5 173h0M1148.5 197h0M1148.5 261h0M1148.5 276h0M1149 153h0M1149 155h0M1149 161.5h0M1149 194h0M1149 262.5h0M1149.5 177.5h0M1149.5 182h0M1149.5 185h0M1149.5 193.5h0M1149.5 199h0M1149.5 268.5h0M1149.5 271.5h0M1149.5 272h0M1149.5 276.5h0M1150 273.5h0M1150 275h0M1150 279h0M1150 314.5h0M1150.5 190.5h0M1150.5 262h0M1150.5 304.5h0M1151 142.5h0M1151 173h0M1151 199h0M1151 291.5h0M1151 331h0M1151.5 119.5h0M1151.5 134.5h0M1151.5 171.5h0M1151.5 176.5h0M1151.5 261.5h0M1151.5 269h0M1152 114.5h0M1152 155.5h0M1152 197h0M1152 274.5h0M1152 306h0M1152 321.5h0M1152.5 152.5h0M1152.5 197h0M1152.5 307.5h0M1153 170h0M1153 262h0M1153 263h0M1153 294h0M1153.5 135.5h0M1153.5 146h0M1153.5 148.5h0M1153.5 199h0M1154 171h0M1154 174.5h0M1154 276.5h0M1154 290.5h0M1154 297h0M1154.5 137.5h0M1154.5 140h0M1154.5 158h0M1154.5 164h0M1154.5 172h0M1154.5 195.5h0M1154.5 262h0M1154.5 302.5h0M1154.5 304h0M1154.5 374.5h0M1154.5 392.5h0M1154.5 460h0M1154.5 496.5h0M1155 166.5h0M1155 174h0M1155 191h0M1155 271h0M1155 276h0M1155 284.5h0M1155.5 186.5h0M1155.5 197h0M1155.5 263h0M1155.5 271h0M1155.5 287h0M1155.5 290h0M1156 164h0M1156 186h0M1156.5 126.5h0M1156.5 189h0M1156.5 261.5h0M1156.5 339.5h0M1157 187h0M1157 196.5h0M1157 299h0M1157.5 181.5h0M1157.5 261h0M1157.5 286h0M1157.5 289h0M1157.5 290h0M1157.5 307h0M1158 175.5h0M1158 195h0M1158 275h0M1158 291.5h0M1158.5 121h0M1158.5 163.5h0M1158.5 194h0M1158.5 260h0M1158.5 279h0M1159 161.5h0M1159 264h0M1159 289h0M1159.5 136h0M1159.5 178h0M1159.5 192h0M1159.5 259h0M1159.5 266.5h0M1159.5 281.5h0M1159.5 329.5h0M1160 294h0M1160 312.5h0M1160.5 190h0M1160.5 265.5h0M1160.5 269h0M1160.5 270h0M1160.5 287h0M1160.5 288.5h0M1161 157.5h0M1161 162.5h0M1161 183h0M1161 261h0M1161 279h0M1161 287h0M1161 288h0M1161.5 190h0M1161.5 280h0M1162 261h0M1162 267h0M1162 269h0M1162.5 174h0M1162.5 176h0M1162.5 190.5h0M1162.5 260.5h0M1162.5 298.5h0M1162.5 307.5h0M1162.5 308h0M1163 292.5h0M1163 343h0M1163.5 190.5h0M1163.5 318.5h0M1164 261h0M1164 264.5h0M1164 270h0M1164 281.5h0M1164 282h0M1164 284.5h0M1164 291h0M1164 321h0M1164.5 191h0M1164.5 260h0M1164.5 271h0M1164.5 275h0M1164.5 282h0M1164.5 283h0M1164.5 284h0M1165 154.5h0M1165 181.5h0M1165 322h0M1165 407h0M1165.5 189h0M1165.5 329.5h0M1166 164.5h0M1166 179h0M1166 258h0M1166 299.5h0M1166 300h0M1166.5 189h0M1166.5 259h0M1166.5 304h0M1167 186.5h0M1167.5 180.5h0M1167.5 190.5h0M1167.5 193h0M1167.5 258.5h0M1167.5 277.5h0M1168 151.5h0M1168 169h0M1168 306.5h0M1168.5 177h0M1168.5 193h0M1168.5 260h0M1168.5 294h0M1169 183.5h0M1169 261h0M1169 271.5h0M1169.5 169.5h0M1169.5 185.5h0M1169.5 190h0M1169.5 195.5h0M1169.5 279.5h0M1169.5 291.5h0M1169.5 298.5h0M1170 273.5h0M1170 278h0M1170 292h0M1170 293.5h0M1170 381.5h0M1170.5 276h0M1170.5 284.5h0M1170.5 292.5h0M1171 196.5h0M1171 197h0M1171 261h0M1171 269.5h0M1171 273h0M1171 275h0M1171 303h0M1171 309.5h0M1171.5 168.5h0M1171.5 172.5h0M1171.5 183.5h0M1171.5 189.5h0M1171.5 260.5h0M1172 173h0M1172 177h0M1172 178h0M1172 283.5h0M1172.5 179h0M1172.5 197.5h0M1172.5 262h0M1172.5 269h0M1172.5 280.5h0M1173 189.5h0M1173 262h0M1173 266h0M1173 266.5h0M1173 275h0M1173 282.5h0M1173.5 187.5h0M1173.5 196.5h0M1173.5 270h0M1173.5 279.5h0M1173.5 284h0M1173.5 288h0M1174 287.5h0M1174.5 197.5h0M1174.5 264.5h0M1174.5 268h0M1174.5 268.5h0M1175 175.5h0M1175 176h0M1175 270h0M1175 297.5h0M1175.5 174.5h0M1175.5 177h0M1175.5 196h0M1175.5 268h0M1176 142.5h0M1176 165.5h0M1176 191h0M1176 265h0M1176 265.5h0M1176 269.5h0M1176 275h0M1176 310.5h0M1176 343.5h0M1176.5 156h0M1176.5 179.5h0M1176.5 196h0M1176.5 265.5h0M1176.5 280.5h0M1176.5 341h0M1177 189h0M1177 263.5h0M1177 266h0M1177 273h0M1177 280.5h0M1177.5 186h0M1177.5 195.5h0M1177.5 264h0M1177.5 264.5h0M1177.5 270h0M1177.5 270.5h0M1177.5 273.5h0M1177.5 276.5h0M1177.5 284h0M1178 195.5h0M1178 262h0M1178 271.5h0M1178 278.5h0M1178 301h0M1178.5 154h0M1178.5 184.5h0M1179 169.5h0M1179 264.5h0M1179 271h0M1179 285h0M1179 298.5h0M1179 302.5h0M1179 310h0M1179.5 171h0M1179.5 262h0M1179.5 264h0M1179.5 269.5h0M1179.5 271.5h0M1179.5 272.5h0M1179.5 274.5h0M1179.5 276h0M1179.5 295.5h0M1180 170h0M1180 173.5h0M1180 174h0M1180 178.5h0M1180 194.5h0M1180 267.5h0M1180 272h0M1180 281.5h0M1180 340h0M1180.5 194.5h0M1180.5 264h0M1180.5 265h0M1180.5 269.5h0M1180.5 278.5h0M1180.5 281.5h0M1180.5 283h0M1180.5 300.5h0M1180.5 304.5h0M1181 187h0M1181 193h0M1181 259.5h0M1181 260.5h0M1181 269h0M1181 272h0M1181 276h0M1181 283.5h0M1181 296.5h0M1181.5 195h0M1181.5 265h0M1181.5 268.5h0M1181.5 270.5h0M1181.5 286h0M1181.5 291.5h0M1181.5 319h0M1182 135h0M1182 179h0M1182 185.5h0M1182 190.5h0M1182 197h0M1182 264h0M1182 266.5h0M1182 267.5h0M1182 273.5h0M1182 276h0M1182 284.5h0M1182 333.5h0M1182.5 261h0M1182.5 270h0M1182.5 279h0M1182.5 290.5h0M1183 162.5h0M1183 265.5h0M1183 272.5h0M1183 277.5h0M1183 287.5h0M1183 321h0M1183.5 150h0M1183.5 172h0M1183.5 189.5h0M1183.5 197h0M1183.5 268.5h0M1183.5 280.5h0M1183.5 334.5h0M1184 160h0M1184 258.5h0M1184 259h0M1184 269.5h0M1184 279h0M1184 279.5h0M1184 283.5h0M1184 311.5h0M1184.5 150h0M1184.5 177.5h0M1184.5 199h0M1184.5 281.5h0M1184.5 284h0M1184.5 290h0M1185 272.5h0M1185 284.5h0M1185 308h0M1185.5 196.5h0M1185.5 260.5h0M1185.5 264.5h0M1185.5 283.5h0M1186 139h0M1186 143.5h0M1186 144h0M1186 161h0M1186 161.5h0M1186 197.5h0M1186 261.5h0M1186 270.5h0M1186 325h0M1186.5 172h0M1186.5 330.5h0M1187 186.5h0M1187 193h0M1187 267h0M1187 275.5h0M1187 277h0M1187.5 178.5h0M1187.5 189h0M1187.5 190h0M1187.5 196.5h0M1187.5 261h0M1187.5 269.5h0M1188 176h0M1188 176.5h0M1188 192.5h0M1188 261h0M1188 266.5h0M1188 267h0M1188 282h0M1188.5 172h0M1188.5 195.5h0M1188.5 267h0M1188.5 274.5h0M1188.5 300.5h0M1188.5 357.5h0M1189 178h0M1189 264h0M1189 267h0M1189 268.5h0M1189 270.5h0M1189 274.5h0M1189 275h0M1189 276h0M1189 283h0M1189.5 107h0M1189.5 194.5h0M1189.5 261h0M1189.5 264h0M1189.5 268h0M1189.5 279h0M1189.5 282h0M1190 109h0M1190 274h0M1190 312.5h0M1190.5 129.5h0M1190.5 195h0M1190.5 260h0M1190.5 290h0M1190.5 310.5h0M1191 276.5h0M1191.5 195h0M1191.5 260h0M1191.5 272.5h0M1191.5 341h0M1191.5 354.5h0M1192 265.5h0M1192 281h0M1192.5 170h0M1192.5 187.5h0M1192.5 190h0M1192.5 194h0M1192.5 259.5h0M1192.5 265h0M1193 120h0M1193 163h0M1193 265h0M1193 266.5h0M1193 273h0M1193 274h0M1193.5 191.5h0M1193.5 192h0M1193.5 193.5h0M1193.5 194h0M1193.5 260.5h0M1193.5 289.5h0M1193.5 362.5h0M1194 178.5h0M1194 195.5h0M1194 261h0M1194 264h0M1194 278.5h0M1194 281.5h0M1194 284.5h0M1194 318h0M1194.5 273h0M1194.5 289h0M1195 165h0M1195 170h0M1195 260h0M1195 274.5h0M1195.5 119h0M1195.5 175h0M1195.5 195.5h0M1195.5 267h0M1195.5 298h0M1196 272h0M1196 274.5h0M1196 286.5h0M1196.5 196h0M1196.5 261h0M1196.5 269h0M1196.5 277.5h0M1196.5 279.5h0M1197 166.5h0M1197 172h0M1197 184.5h0M1197 189.5h0M1197 272h0M1197 276h0M1197 287.5h0M1197 300.5h0M1197 336.5h0M1197.5 136h0M1197.5 168.5h0M1197.5 183.5h0M1197.5 282.5h0M1197.5 289.5h0M1198 131h0M1198 178.5h0M1198 184h0M1198 197h0M1198 258h0M1198 305.5h0M1198.5 105h0M1198.5 193h0M1198.5 198h0M1198.5 257h0M1199 197.5h0M1199 264h0M1199 272h0M1199 276.5h0M1199 281h0M1199 284h0M1199.5 175h0M1199.5 187h0M1199.5 193h0M1199.5 259.5h0M1199.5 264.5h0M1199.5 265h0M1199.5 268.5h0M1199.5 269h0M1199.5 271.5h0M1199.5 275h0M1199.5 284.5h0M1200 169h0M1200 181h0M1200 196.5h0M1200 271h0M1200 271.5h0M1200 275h0M1200 279.5h0M1200 283.5h0M1200.5 115.5h0M1200.5 122h0M1200.5 136.5h0M1200.5 260.5h0M1200.5 270h0M1200.5 275.5h0M1200.5 278h0M1201 159.5h0M1201 184.5h0M1201 268.5h0M1201 271.5h0M1201 275.5h0M1201 277h0M1201.5 118h0M1201.5 196h0M1201.5 261.5h0M1201.5 267h0M1201.5 270h0M1201.5 274.5h0M1201.5 281.5h0M1201.5 295.5h0M1202 183.5h0M1202 269h0M1202 282h0M1202.5 172h0M1202.5 188.5h0M1202.5 262.5h0M1202.5 265.5h0M1202.5 267h0M1202.5 280h0M1203 158.5h0M1203 196h0M1203 273.5h0M1203.5 163.5h0M1203.5 196.5h0M1203.5 262.5h0M1204 144h0M1204 343h0M1204 355h0M1204.5 165.5h0M1204.5 166h0M1204.5 169h0M1204.5 175h0M1204.5 196h0M1204.5 263h0M1204.5 315.5h0M1205 185.5h0M1205.5 149h0M1205.5 153h0M1205.5 183h0M1205.5 262h0M1205.5 264.5h0M1205.5 271h0M1205.5 287.5h0M1206 194h0M1206 272.5h0M1206 282.5h0M1206.5 263h0M1207 194.5h0M1207 293h0M1207 349h0M1207.5 268h0M1207.5 268.5h0M1207.5 283.5h0M1207.5 286.5h0M1207.5 288.5h0M1207.5 289.5h0M1207.5 380.5h0M1208 193.5h0M1208 263.5h0M1208 265h0M1208 265.5h0M1208 279h0M1208 285h0M1208 290.5h0M1208 291h0M1208 293.5h0M1208.5 179.5h0M1208.5 184h0M1208.5 194.5h0M1208.5 277h0M1208.5 279.5h0M1208.5 290.5h0M1208.5 294.5h0M1208.5 310.5h0M1208.5 312.5h0M1209 185.5h0M1209 189h0M1209 287h0M1209.5 184.5h0M1209.5 191h0M1209.5 194h0M1209.5 264.5h0M1209.5 275h0M1209.5 276.5h0M1209.5 277h0M1209.5 286.5h0M1210 183h0M1210 187h0M1210 191h0M1210.5 157h0M1210.5 169.5h0M1210.5 177h0M1210.5 179h0M1210.5 192h0M1210.5 193.5h0M1210.5 195h0M1210.5 262h0M1210.5 281h0M1211 162h0M1211 175.5h0M1211 189.5h0M1211 283.5h0M1211 307h0M1211.5 195h0M1211.5 263.5h0M1212 295.5h0M1212.5 183.5h0M1212.5 261h0M1212.5 283.5h0M1212.5 285.5h0M1212.5 289h0M1213 159.5h0M1213 194.5h0M1213 285h0M1213.5 177h0M1213.5 196h0M1213.5 260h0M1213.5 273h0M1213.5 314h0M1214 168.5h0M1214 274.5h0M1214 283h0M1214 288.5h0M1214.5 259.5h0M1214.5 264h0M1214.5 265.5h0M1214.5 267.5h0M1214.5 282.5h0M1215 164.5h0M1215 197h0M1215 260.5h0M1215 276h0M1215 287.5h0M1215 295.5h0M1215 348h0M1215.5 164h0M1215.5 177.5h0M1215.5 198h0M1215.5 287.5h0M1215.5 288h0M1215.5 291.5h0M1215.5 292.5h0M1215.5 304.5h0M1216 119h0M1216 185.5h0M1216 274h0M1216 275h0M1216 277.5h0M1216 279.5h0M1216 337.5h0M1216.5 163.5h0M1216.5 188.5h0M1216.5 197h0M1216.5 261h0M1216.5 265.5h0M1216.5 267.5h0M1216.5 269.5h0M1216.5 270.5h0M1216.5 274h0M1216.5 275h0M1216.5 275.5h0M1216.5 276h0M1216.5 277.5h0M1216.5 282.5h0M1216.5 283.5h0M1216.5 295h0M1217 259h0M1217 264h0M1217 264.5h0M1217 268h0M1217 273h0M1217 279h0M1217 284.5h0M1217 285h0M1217 291.5h0M1217 308h0M1217.5 293h0M1217.5 322h0M1218 197h0M1218 199.5h0M1218 310.5h0M1218.5 172h0M1218.5 172.5h0M1218.5 264h0M1218.5 269h0M1218.5 274.5h0M1218.5 276.5h0M1218.5 280.5h0M1218.5 282h0M1218.5 284h0M1218.5 329.5h0M1219 260h0M1219 268.5h0M1219 269.5h0M1219 273.5h0M1219 277h0M1219 281.5h0M1219 285h0M1219 298h0M1219.5 161.5h0M1219.5 187.5h0M1219.5 198h0M1219.5 261h0M1219.5 271.5h0M1219.5 274.5h0M1219.5 276h0M1219.5 276.5h0M1219.5 281.5h0M1219.5 282h0M1219.5 286.5h0M1220 161h0M1220 197.5h0M1220 273.5h0M1220 285h0M1220.5 172.5h0M1220.5 260h0M1220.5 265.5h0M1220.5 278h0M1221 110.5h0M1221 155.5h0M1221 260h0M1221 268.5h0M1221 270h0M1221 313.5h0M1221.5 177.5h0M1221.5 197.5h0M1222 150h0M1222 260.5h0M1222.5 133h0M1222.5 162.5h0M1222.5 180h0M1222.5 300.5h0M1222.5 308.5h0M1223 163h0M1223 195.5h0M1223 291.5h0M1223.5 196.5h0M1223.5 263.5h0M1223.5 287h0M1223.5 299h0M1223.5 299.5h0M1224 267.5h0M1224 268.5h0M1224.5 263.5h0M1224.5 277.5h0M1224.5 280.5h0M1224.5 292h0M1224.5 357.5h0M1225 155.5h0M1225 157.5h0M1225 195h0M1225 269.5h0M1225 287h0M1225 292h0M1225.5 181.5h0M1225.5 262.5h0M1225.5 349.5h0M1226 196h0M1226 312h0M1226.5 194h0M1226.5 263.5h0M1227 188.5h0M1227 264.5h0M1227 284h0M1227 307h0M1227.5 167.5h0M1227.5 264h0M1227.5 265.5h0M1227.5 267.5h0M1227.5 268.5h0M1227.5 283h0M1227.5 284h0M1228 192.5h0M1228 265h0M1228 276h0M1228 278h0M1228 284.5h0M1228.5 193h0M1228.5 195h0M1228.5 263h0M1228.5 274h0M1228.5 285.5h0M1228.5 286.5h0M1228.5 287h0M1229 272h0M1229 275h0M1229.5 194.5h0M1229.5 262.5h0M1229.5 264h0M1229.5 268.5h0M1229.5 285h0M1230 160h0M1230 164.5h0M1230 266.5h0M1230.5 149h0M1230.5 176h0M1230.5 193.5h0M1230.5 264.5h0M1230.5 268.5h0M1230.5 277h0M1230.5 279h0M1230.5 281.5h0M1231 178.5h0M1231 179h0M1231 185h0M1231 190.5h0M1231 193.5h0M1231 267h0M1231 279.5h0M1231.5 182h0M1231.5 184.5h0M1231.5 192h0M1231.5 193h0M1231.5 194h0M1231.5 265.5h0M1231.5 276.5h0M1231.5 284.5h0M1231.5 349.5h0M1231.5 352.5h0M1232 154.5h0M1232 161.5h0M1232 182.5h0M1232 190.5h0M1232 191h0M1232 193.5h0M1232 272h0M1232.5 148.5h0M1232.5 168h0M1232.5 193.5h0M1232.5 265.5h0M1232.5 279h0M1233 184h0M1233 274h0M1233.5 181.5h0M1233.5 196h0M1233.5 266.5h0M1233.5 269h0M1233.5 269.5h0M1233.5 277.5h0M1234 264.5h0M1234 276h0M1234.5 155.5h0M1234.5 174h0M1234.5 195.5h0M1235 127h0M1235 264h0M1235 265.5h0M1235.5 181h0M1235.5 194.5h0M1235.5 263h0M1235.5 269.5h0M1235.5 289h0M1236 173h0M1236 284h0M1236 295.5h0M1236.5 157h0M1236.5 263h0M1236.5 276h0M1236.5 293.5h0M1237 196.5h0M1237 286.5h0M1237.5 151.5h0M1237.5 183h0M1237.5 189h0M1237.5 195h0M1237.5 264.5h0M1238 188.5h0M1238 264.5h0M1238 269h0M1238 283h0M1238.5 119h0M1238.5 125.5h0M1238.5 195h0M1238.5 263.5h0M1238.5 272.5h0M1238.5 321h0M1239.5 164.5h0M1239.5 179h0M1239.5 196h0M1239.5 263h0M1240 132h0M1240 268h0M1240 281h0M1240 332h0M1240.5 197h0M1240.5 265.5h0M1241 181.5h0M1241 264.5h0M1241 265h0M1241 275.5h0M1241.5 196.5h0M1241.5 260.5h0M1241.5 286.5h0M1241.5 296h0M1241.5 323.5h0M1241.5 367.5h0M1242 269h0M1242 271.5h0M1242 272.5h0M1242 274.5h0M1242 275.5h0M1242.5 151.5h0M1242.5 163h0M1242.5 194.5h0M1242.5 261h0M1242.5 268h0M1242.5 269h0M1242.5 275.5h0M1242.5 277h0M1242.5 280.5h0M1242.5 318h0M1243 273.5h0M1243 277h0M1243 283.5h0M1243 284.5h0M1243 306h0M1243 320.5h0M1243 355h0M1243.5 192.5h0M1243.5 195.5h0M1243.5 260.5h0M1243.5 268h0M1243.5 271.5h0M1243.5 273.5h0M1243.5 275.5h0M1243.5 280.5h0M1243.5 320.5h0M1244 188.5h0M1244 271.5h0M1244 274.5h0M1244 284h0M1244 309h0M1244.5 195h0M1244.5 324.5h0M1245 131h0M1245 157.5h0M1245 197h0M1245 260h0M1245.5 104h0M1245.5 259h0M1245.5 273h0M1245.5 316.5h0M1246 194.5h0M1246 273.5h0M1246.5 258h0M1246.5 275h0M1246.5 299.5h0M1247 260.5h0M1247 290h0M1247.5 162h0M1247.5 171h0M1247.5 175h0M1247.5 176.5h0M1247.5 196.5h0M1247.5 309.5h0M1247.5 318h0M1248 176h0M1248 183h0M1248 280.5h0M1248 283h0M1248.5 128.5h0M1248.5 195h0M1248.5 258.5h0M1248.5 347.5h0M1249.5 165h0M1249.5 196.5h0M1249.5 272.5h0M1249.5 273h0M1250 148h0M1250 159h0M1250 257h0M1250 264.5h0M1250 270.5h0M1250 335h0M1250.5 198.5h0M1250.5 258.5h0M1250.5 274h0M1250.5 274.5h0M1250.5 280.5h0M1251 170.5h0M1251 178.5h0M1251 187h0M1251 277.5h0M1251.5 172.5h0M1251.5 174h0M1251.5 184.5h0M1251.5 259h0M1252 188h0M1252 197.5h0M1252 199h0M1252 271.5h0M1252.5 189.5h0M1252.5 257.5h0M1253 163h0M1253 278h0M1253 279h0M1253.5 186h0M1253.5 197.5h0M1253.5 259h0M1253.5 274h0M1253.5 275h0M1253.5 276.5h0M1253.5 298.5h0M1254 117h0M1254 143.5h0M1254 187.5h0M1254 190.5h0M1254 193.5h0M1254 308h0M1254.5 179h0M1254.5 180h0M1254.5 180.5h0M1254.5 185.5h0M1254.5 189h0M1254.5 260.5h0M1255 167.5h0M1255 187.5h0M1255 188.5h0M1255 191h0M1255 196h0M1255 197.5h0M1255 324.5h0M1255.5 189h0M1255.5 260.5h0M1255.5 277.5h0M1255.5 286h0M1255.5 286.5h0M1256 115.5h0M1256.5 199h0M1256.5 259.5h0M1257 174h0M1257 180.5h0M1257 266h0M1257.5 135.5h0M1257.5 181.5h0M1257.5 191.5h0M1257.5 197.5h0M1257.5 260h0M1257.5 264h0M1257.5 280.5h0M1258.5 170h0M1258.5 199.5h0M1258.5 262h0M1258.5 350.5h0M1259 178h0M1259 179.5h0M1259 196.5h0M1259.5 261.5h0M1260 121.5h0M1260 267.5h0M1260 269.5h0M1260 270.5h0M1260 271h0M1260 275.5h0M1260 284h0M1260 284.5h0M1260.5 187.5h0M1260.5 197h0M1260.5 261h0M1260.5 267.5h0M1260.5 268h0M1260.5 271.5h0M1260.5 283h0M1260.5 296.5h0M1261 264.5h0M1261 278.5h0M1261.5 197h0M1261.5 261.5h0M1261.5 276.5h0M1261.5 288h0M1262 359.5h0M1262.5 196h0M1262.5 262h0M1262.5 275.5h0M1262.5 278.5h0M1262.5 284.5h0M1263 164h0M1263 175.5h0M1263 188.5h0M1263.5 130.5h0M1263.5 168.5h0M1263.5 262.5h0M1263.5 268h0M1263.5 271h0M1263.5 274h0M1263.5 290h0M1263.5 323h0M1264 182.5h0M1264 197.5h0M1264 264h0M1264 266.5h0M1264 267h0M1264 275h0M1264 278.5h0M1264 283h0M1264.5 168h0M1264.5 196h0M1264.5 262h0M1264.5 269h0M1264.5 274h0M1264.5 283h0M1264.5 284h0M1264.5 289.5h0M1264.5 331h0M1265 115.5h0M1265 194h0M1265 260h0M1265 264h0M1265 267h0M1265 268.5h0M1265 275.5h0M1265 332h0M1265.5 160.5h0M1265.5 177.5h0M1266 115.5h0M1266 194.5h0M1266 259h0M1266 284.5h0M1266.5 267.5h0M1266.5 280h0M1267 188.5h0M1267 279h0M1267.5 124h0M1267.5 194h0M1267.5 261.5h0M1268 144.5h0M1268 310.5h0M1268.5 293h0M1269 183.5h0M1269 193.5h0M1269 262.5h0M1269 264.5h0M1269 267.5h0M1269.5 154h0M1269.5 190.5h0M1269.5 262.5h0M1269.5 283.5h0M1269.5 285.5h0M1269.5 309.5h0M1270 178.5h0M1270 180.5h0M1270 187h0M1270 190.5h0M1270 191.5h0M1270 193h0M1270 259.5h0M1271 270h0M1271.5 175.5h0M1271.5 260h0M1271.5 266h0M1271.5 266.5h0M1271.5 279h0M1271.5 290.5h0M1271.5 291.5h0M1272 167h0M1272 173.5h0M1272 177h0M1272 193h0M1272 194.5h0M1272 264h0M1272 271.5h0M1272.5 124.5h0M1272.5 260.5h0M1272.5 272h0M1273 287h0M1273 292h0M1273.5 190.5h0M1273.5 191.5h0M1273.5 195h0M1273.5 262h0M1274 100h0M1274 138h0M1274 148.5h0M1274 187.5h0M1274 305h0M1274.5 155.5h0M1274.5 165.5h0M1274.5 195h0M1274.5 260.5h0M1274.5 283.5h0M1274.5 298h0M1274.5 303.5h0M1274.5 308h0M1275 145.5h0M1275 160.5h0M1275 311.5h0M1275 320.5h0M1275.5 155h0M1275.5 167.5h0M1275.5 172h0M1275.5 179h0M1275.5 184h0M1275.5 194.5h0M1275.5 261h0M1275.5 266h0M1275.5 310.5h0M1276 131h0M1276 301.5h0M1276.5 174h0M1276.5 176h0M1276.5 260.5h0M1277 188h0M1277 195.5h0M1277 268.5h0M1277.5 196h0M1277.5 264h0M1277.5 266.5h0M1277.5 271.5h0M1277.5 275.5h0M1277.5 276h0M1277.5 282h0M1278 196h0M1278 261.5h0M1278 264.5h0M1278 266.5h0M1278 267.5h0M1278 269h0M1278 270h0M1278 274.5h0M1278 280h0M1278 283.5h0M1278 284h0M1278 284.5h0M1278 287h0M1278 340.5h0M1278.5 161.5h0M1278.5 163.5h0M1278.5 261h0M1278.5 265h0M1278.5 266.5h0M1278.5 273h0M1278.5 275.5h0M1278.5 280.5h0M1278.5 284h0M1278.5 308h0M1278.5 314h0M1278.5 323h0M1279 195h0M1279 275h0M1279 277h0M1279 282.5h0M1279 283.5h0M1279 324h0M1279.5 145.5h0M1279.5 154.5h0M1279.5 261.5h0M1279.5 274h0M1279.5 279.5h0M1279.5 320.5h0M1280 185.5h0M1280 274.5h0M1280 299h0M1280 307h0M1280 331.5h0M1280.5 261.5h0M1280.5 272h0M1280.5 292.5h0M1280.5 297h0M1280.5 305.5h0M1281 162.5h0M1281 194h0M1281 194.5h0M1281 262h0M1281 287.5h0M1281 290.5h0M1281 300h0M1281.5 173.5h0M1282 158h0M1282 167h0M1282 278.5h0M1282 288.5h0M1282 290.5h0M1282.5 187h0M1282.5 260.5h0M1282.5 277h0M1282.5 288h0M1283 193h0M1283 265h0M1283 276h0M1283 280h0M1283 285.5h0M1283 296h0M1283.5 175h0M1283.5 194.5h0M1283.5 266h0M1283.5 282h0M1284 173h0M1284 263.5h0M1284 266.5h0M1284 293h0M1284.5 158h0M1284.5 263.5h0M1284.5 341h0M1284.5 356h0M1284.5 361.5h0M1285 170.5h0M1285 193.5h0M1285 194h0M1285 194.5h0M1285 265.5h0M1285 273h0M1285 277.5h0M1285 280.5h0M1285 285.5h0M1285.5 167h0M1285.5 169h0M1285.5 170.5h0M1285.5 193h0M1285.5 266.5h0M1285.5 271.5h0M1285.5 279h0M1285.5 282h0M1285.5 282.5h0M1286 167h0M1286 172h0M1286 181.5h0M1286 262h0M1286 265h0M1286 271.5h0M1286 274h0M1286 281.5h0M1286.5 178h0M1286.5 180.5h0M1286.5 192h0M1286.5 262h0M1287 159.5h0M1287 191.5h0M1287 264.5h0M1287 265.5h0M1287 277.5h0M1287 278h0M1287.5 261.5h0M1287.5 267.5h0M1287.5 271.5h0M1287.5 272h0M1287.5 290h0M1287.5 290.5h0M1288 283.5h0M1288 294.5h0M1288 302h0M1288.5 168.5h0M1288.5 192.5h0M1288.5 274.5h0M1288.5 279h0M1288.5 280.5h0M1288.5 299h0M1288.5 303.5h0M1289 173.5h0M1289 191h0M1289 192.5h0M1289 264.5h0M1289 304h0M1289.5 129.5h0M1289.5 177h0M1289.5 192h0M1289.5 265h0M1290 194h0M1290 285.5h0M1290 287h0M1290 308h0M1290.5 139.5h0M1290.5 264h0M1290.5 272h0M1290.5 294.5h0M1290.5 303h0M1291 311.5h0M1291.5 151.5h0M1291.5 195h0M1291.5 264.5h0M1291.5 280h0M1291.5 293.5h0M1292 274h0M1292 287.5h0M1292 300h0M1292 301.5h0M1292 305h0M1292.5 181h0M1292.5 186.5h0M1292.5 194.5h0M1292.5 264.5h0M1292.5 266h0M1292.5 276.5h0M1293 270.5h0M1293 280h0M1293.5 185h0M1293.5 190.5h0M1293.5 195.5h0M1293.5 264.5h0M1293.5 290.5h0M1293.5 344.5h0M1294 159.5h0M1294 162.5h0M1294 279h0M1294 282.5h0M1294.5 165h0M1294.5 194h0M1294.5 263h0M1294.5 266.5h0M1294.5 269h0M1294.5 274.5h0M1294.5 276h0M1294.5 277.5h0M1294.5 287h0M1295 178h0M1295 278h0M1295 278.5h0M1295 282h0M1295 356h0M1295.5 187h0M1295.5 194.5h0M1295.5 262h0M1296 118h0M1296 192.5h0M1296 279h0M1296 282h0M1296.5 145.5h0M1296.5 196h0M1296.5 262.5h0M1296.5 266.5h0M1296.5 272h0M1296.5 272.5h0M1296.5 274h0M1296.5 274.5h0M1296.5 282h0M1296.5 288.5h0M1297 264h0M1297 267.5h0M1297 276h0M1297 278.5h0M1297.5 152h0M1297.5 177.5h0M1297.5 198.5h0M1297.5 260h0M1297.5 265.5h0M1297.5 275.5h0M1297.5 283h0M1297.5 283.5h0M1297.5 284h0M1297.5 285.5h0M1298 175.5h0M1298 197.5h0M1298 259h0M1298 265h0M1298 269h0M1298 275.5h0M1298 277.5h0M1298 278.5h0M1298 285.5h0M1298.5 146h0M1298.5 152h0M1298.5 157h0M1298.5 268h0M1298.5 269h0M1298.5 272.5h0M1298.5 274.5h0M1298.5 277.5h0M1298.5 282h0M1299 268.5h0M1299.5 197.5h0M1299.5 255.5h0M1299.5 391.5h0M1300 197h0M1300 313h0M1300 350.5h0M1300 364.5h0M1300 373.5h0M1300 380h0M1300.5 153h0M1300.5 171.5h0M1300.5 173h0M1300.5 188.5h0M1300.5 257h0M1300.5 287.5h0M1301 183h0M1301 191.5h0M1301.5 183h0M1301.5 256.5h0M1301.5 283h0M1302 197h0M1302 200.5h0M1302.5 182h0M1302.5 192.5h0M1302.5 257.5h0M1303 128.5h0M1303 273.5h0M1303.5 164h0M1303.5 176h0M1303.5 188.5h0M1303.5 196.5h0M1304 185.5h0M1304 187h0M1304 197h0M1304 256h0M1304 273h0M1304 274.5h0M1304 281h0M1304 317h0M1304 364.5h0M1304.5 258.5h0M1304.5 274.5h0M1304.5 277.5h0M1305 188h0M1305 191h0M1305 193h0M1305 198h0M1305 269h0M1305 269.5h0M1305 273h0M1305 276h0M1305 276.5h0M1305 281.5h0M1305 287h0M1305.5 264h0M1305.5 265.5h0M1305.5 272.5h0M1306 143h0M1306 258.5h0M1306 265.5h0M1306 266h0M1306 282h0M1306 302.5h0M1306.5 196h0M1306.5 258h0M1306.5 268.5h0M1306.5 283h0M1306.5 297h0M1307 180h0M1307 185.5h0M1307 188.5h0M1307 284.5h0M1307.5 148.5h0M1307.5 195h0M1307.5 259.5h0M1307.5 267h0M1307.5 285h0M1308 261.5h0M1308 271.5h0M1308 276h0M1308 282h0M1308.5 183.5h0M1309 175h0M1309 181.5h0M1309 182h0M1309 195.5h0M1309 269h0M1309 272.5h0M1309 284.5h0M1309.5 170h0M1309.5 173.5h0M1309.5 175h0M1309.5 179.5h0M1309.5 180h0M1309.5 181.5h0M1309.5 182.5h0M1309.5 191.5h0M1309.5 195h0M1309.5 263h0M1309.5 275.5h0M1309.5 280.5h0M1310 174.5h0M1310 267h0M1310 272.5h0M1310 276h0M1310 291.5h0M1310.5 290h0M1311 169.5h0M1311 194.5h0M1311 262.5h0M1311.5 195.5h0M1311.5 263h0M1312 174h0M1312 269h0M1312 270.5h0M1312 271h0M1312 280.5h0M1312 283h0M1312.5 115h0M1312.5 168.5h0M1312.5 173.5h0M1312.5 196h0M1312.5 261h0M1312.5 267h0M1312.5 280.5h0M1312.5 281.5h0M1312.5 283h0M1312.5 283.5h0M1312.5 341h0M1312.5 356.5h0M1312.5 362.5h0M1313 266.5h0M1313 277h0M1313 295h0M1313.5 184h0M1313.5 193.5h0M1313.5 197h0M1313.5 261.5h0M1313.5 269.5h0M1313.5 276.5h0M1314 181.5h0M1314 186h0M1314 189.5h0M1314 191.5h0M1314 278.5h0M1314.5 178h0M1314.5 182h0M1314.5 261.5h0M1314.5 285.5h0M1315 120h0M1315 139h0M1315 197h0M1315 262h0M1315 264.5h0M1315 266h0M1315 267.5h0M1315 270.5h0M1315 274h0M1315 276h0M1315 278.5h0M1315.5 198h0M1315.5 269.5h0M1315.5 270h0M1315.5 273h0M1315.5 284.5h0M1316 192.5h0M1316 265h0M1316 282.5h0M1316 285h0M1316 285.5h0M1316 286h0M1316.5 261.5h0M1316.5 275.5h0M1316.5 278h0M1317 162.5h0M1317 197h0M1317 276h0M1317 311.5h0M1317.5 164.5h0M1317.5 261.5h0M1317.5 281.5h0M1317.5 283h0M1317.5 313h0M1317.5 323h0M1318 145.5h0M1318 149h0M1318 173.5h0M1318 195h0M1318 264h0M1318 295h0M1318.5 191h0M1318.5 262h0M1318.5 268.5h0M1318.5 273h0M1318.5 280.5h0M1319 187h0M1319 195.5h0M1319 196.5h0M1319 267.5h0M1319 271h0M1319 290h0M1319.5 187h0M1319.5 261.5h0M1319.5 274h0M1319.5 283.5h0M1319.5 290.5h0M1320 159h0M1320 261.5h0M1320 271h0M1320 297.5h0M1320.5 183.5h0M1320.5 272.5h0M1320.5 273h0M1320.5 297.5h0M1320.5 307h0M1320.5 312h0M1321 196.5h0M1321.5 88.5h0M1321.5 197.5h0M1321.5 262.5h0M1322 274h0M1322 277.5h0M1322 310h0M1322 359.5h0M1322.5 182.5h0M1322.5 196.5h0M1322.5 263.5h0M1322.5 275h0M1322.5 279h0M1322.5 281.5h0M1322.5 285.5h0M1322.5 331.5h0M1323 290.5h0M1323.5 195.5h0M1323.5 265h0M1324 265h0M1324 277h0M1324.5 194.5h0M1324.5 297h0M1324.5 318.5h0M1325 185.5h0M1325 270h0M1325 280h0M1325.5 174h0M1325.5 192.5h0M1325.5 197h0M1325.5 284.5h0M1325.5 286h0M1326 265h0M1326 265.5h0M1326 276h0M1326 281.5h0M1326.5 133h0M1326.5 196.5h0M1326.5 266.5h0M1326.5 281.5h0M1326.5 282.5h0M1326.5 314.5h0M1327 152h0M1327 191h0M1327 264.5h0M1327 269.5h0M1327 273h0M1327.5 180h0M1327.5 196.5h0M1327.5 264.5h0M1327.5 271h0M1327.5 273.5h0M1327.5 277h0M1327.5 284h0M1328 182.5h0M1328 270.5h0M1328 273.5h0M1328 278h0M1328 284h0M1328.5 196h0M1328.5 262.5h0M1329 176.5h0M1329 182h0M1329 189.5h0M1329 266h0M1329 277h0M1329 280.5h0M1329 322h0M1329.5 195h0M1329.5 263.5h0M1330 182h0M1330 268h0M1330 269.5h0M1330 277h0M1330.5 146.5h0M1330.5 173h0M1330.5 183.5h0M1330.5 263.5h0M1330.5 266.5h0M1330.5 285.5h0M1330.5 287.5h0M1331 163.5h0M1331 177h0M1331 190h0M1331 196h0M1331 276h0M1331.5 184.5h0M1331.5 276h0M1331.5 286.5h0M1332 180.5h0M1332 182.5h0M1332 196h0M1332 263.5h0M1332 264h0M1332 268.5h0M1332 273.5h0M1332.5 184.5h0M1332.5 193.5h0M1332.5 194.5h0M1333 196h0M1333 274h0M1333 328.5h0M1333.5 162h0M1333.5 190.5h0M1333.5 263h0M1333.5 269h0M1333.5 275h0M1333.5 282h0M1333.5 284h0M1333.5 284.5h0M1333.5 321h0M1334 187h0M1334 268h0M1334 277h0M1334 289h0M1334.5 147.5h0M1334.5 148h0M1334.5 190.5h0M1334.5 196h0M1334.5 346.5h0M1335 195h0M1335 264.5h0M1335 265h0M1335 267h0M1335 293.5h0M1335 295h0M1335.5 181.5h0M1335.5 182h0M1335.5 263.5h0M1335.5 264h0M1335.5 270.5h0M1335.5 281h0M1336 169.5h0M1336 184h0M1336 193h0M1336 277h0M1336 294h0M1336 316h0M1336.5 180h0M1336.5 186h0M1336.5 186.5h0M1336.5 187h0M1336.5 191.5h0M1336.5 192.5h0M1336.5 264.5h0M1336.5 272h0M1336.5 322.5h0M1336.5 333.5h0M1337 156h0M1337 184.5h0M1337 188.5h0M1337 274.5h0M1337 275h0M1337 276h0M1337 284.5h0M1337 286.5h0M1337 316.5h0M1337.5 171h0M1337.5 265.5h0M1337.5 348.5h0M1337.5 385.5h0M1338 193h0M1338 359h0M1338.5 133.5h0M1338.5 193.5h0M1338.5 261h0M1338.5 268h0M1339 124.5h0M1339 131.5h0M1339 174h0M1339 191.5h0M1339 192.5h0M1339 261.5h0M1339 274h0M1339 342h0M1339.5 131h0M1339.5 141h0M1339.5 180h0M1339.5 192.5h0M1339.5 272.5h0M1339.5 273.5h0M1340 173.5h0M1340 186h0M1340 192.5h0M1340 261.5h0M1340 266h0M1340 274h0M1340 279h0M1340.5 169.5h0M1340.5 183.5h0M1340.5 193h0M1340.5 279.5h0M1341 261.5h0M1341 268.5h0M1341.5 182h0M1341.5 192h0M1341.5 193h0M1342 180h0M1342 189.5h0M1342 192.5h0M1342 267h0M1342 286.5h0M1342.5 139h0M1342.5 180.5h0M1342.5 189.5h0M1342.5 261h0M1342.5 267h0M1342.5 275.5h0M1342.5 284.5h0M1343 187h0M1343 189.5h0M1343 191h0M1343 193h0M1343 194h0M1343 270h0M1343 279.5h0M1343.5 152.5h0M1343.5 193.5h0M1344 162.5h0M1344 259.5h0M1344.5 195.5h0M1344.5 259.5h0M1344.5 306h0M1344.5 361.5h0M1345 146.5h0M1345 179.5h0M1345 181.5h0M1345 186.5h0M1345 190h0M1345 193.5h0M1345 269.5h0M1345 339h0M1345 348.5h0M1345.5 179.5h0M1345.5 185.5h0M1345.5 188.5h0M1345.5 193h0M1345.5 260h0M1345.5 277.5h0M1345.5 280.5h0M1346 185.5h0M1346 187.5h0M1346 194h0M1346 271.5h0M1346 279.5h0M1346.5 194.5h0M1346.5 261h0M1347 191.5h0M1347 262h0M1347 273.5h0M1347.5 193.5h0M1348 181.5h0M1348 183h0M1348.5 165h0M1348.5 184.5h0M1348.5 195.5h0M1348.5 261h0M1348.5 322h0M1349 163h0M1349 186.5h0M1349 276.5h0M1349 283.5h0M1349 292.5h0M1349 293h0M1349.5 139.5h0M1349.5 141.5h0M1349.5 260.5h0M1349.5 279.5h0M1349.5 293h0M1350 188h0M1350 195h0M1350 261.5h0M1350 267h0M1350 277h0M1350 291.5h0M1350.5 184.5h0M1350.5 187h0M1350.5 282h0M1350.5 288.5h0M1351 183h0M1351 184h0M1351 195.5h0M1351 197h0M1351 304.5h0M1351.5 262.5h0M1352 144.5h0M1352 189.5h0M1352 271.5h0M1352.5 181.5h0M1352.5 261.5h0M1352.5 274.5h0M1353 128.5h0M1353 197h0M1353 268.5h0M1353 277.5h0M1353 282.5h0M1353 320h0M1353.5 164.5h0M1353.5 181h0M1353.5 195h0M1353.5 262.5h0M1354 265h0M1354 274.5h0M1354 277.5h0M1354 288h0M1354.5 198.5h0M1354.5 262h0M1354.5 264h0M1354.5 269h0M1354.5 272.5h0M1354.5 273.5h0M1354.5 280h0M1354.5 281h0M1354.5 301h0M1355 261.5h0M1355 264.5h0M1355 270h0M1355 304h0M1355.5 198h0M1355.5 281.5h0M1356 170.5h0M1356 177h0M1356 279.5h0M1356.5 174h0M1356.5 199h0M1356.5 260h0M1357 290h0M1357 303.5h0M1357.5 261.5h0M1357.5 267.5h0M1357.5 289.5h0M1357.5 296h0M1358 199.5h0M1358 200h0M1358 277.5h0M1358 320.5h0M1358.5 175.5h0M1358.5 186h0M1358.5 263.5h0M1358.5 294.5h0M1359 153h0M1359 164h0M1359 164.5h0M1359 180.5h0M1359 198.5h0M1359 264.5h0M1359 290h0M1359.5 122h0M1359.5 262.5h0M1359.5 324.5h0M1359.5 333.5h0M1360 278h0M1360.5 147h0M1360.5 198h0M1360.5 262.5h0M1360.5 273h0M1361 100.5h0M1361 149h0M1361 152h0M1361 267h0M1361 277.5h0M1361 291.5h0M1361.5 123h0M1361.5 198.5h0M1361.5 262.5h0M1361.5 267.5h0M1361.5 268h0M1361.5 270.5h0M1361.5 281.5h0M1361.5 286h0M1361.5 292h0M1361.5 300h0M1362 272.5h0M1362 274.5h0M1362 304h0M1362.5 261h0M1362.5 275.5h0M1362.5 281.5h0M1362.5 282.5h0M1363 198.5h0M1363 262h0M1363 278h0M1363.5 136h0M1363.5 140h0M1363.5 196.5h0M1364 266h0M1364 269h0M1364.5 108.5h0M1364.5 196h0M1364.5 262h0M1364.5 271h0M1364.5 283.5h0M1364.5 285h0M1364.5 295.5h0M1364.5 300h0M1364.5 313.5h0M1364.5 351.5h0M1364.5 364.5h0M1364.5 374.5h0M1365 166.5h0M1365 271h0M1365 285.5h0M1365 301.5h0M1365 312.5h0M1365.5 148h0M1365.5 175h0M1365.5 195.5h0M1365.5 263h0M1365.5 266.5h0M1365.5 276h0M1365.5 278h0M1365.5 280.5h0M1366 150.5h0M1366 187h0M1366 193.5h0M1366 271h0M1366 306.5h0M1366 307.5h0M1366.5 150h0M1366.5 163h0M1366.5 178.5h0M1366.5 195h0M1366.5 261.5h0M1366.5 266h0M1367 159.5h0M1367 160h0M1367 269.5h0M1367.5 179h0M1367.5 183h0M1367.5 194.5h0M1367.5 261.5h0M1367.5 309h0M1368 94h0M1368 265h0M1368 268h0M1368 275h0M1368 301h0M1368.5 176h0M1368.5 193.5h0M1368.5 261h0M1368.5 264.5h0M1368.5 265.5h0M1368.5 266.5h0M1368.5 268h0M1368.5 268.5h0M1368.5 269.5h0M1369 177h0M1369 194h0M1369 282.5h0M1369.5 124.5h0M1369.5 191h0M1369.5 261.5h0M1369.5 280h0M1370 177h0M1370 184h0M1370 194.5h0M1370.5 182h0M1370.5 193h0M1370.5 262h0M1371 179h0M1371 287.5h0M1371 295h0M1371.5 184.5h0M1371.5 192h0M1371.5 197.5h0M1371.5 262.5h0M1371.5 276.5h0M1372 118h0M1372 272.5h0M1372.5 198.5h0M1372.5 264h0M1372.5 318.5h0M1373 283h0M1373.5 144h0M1373.5 196.5h0M1373.5 263h0M1373.5 311.5h0M1374 142.5h0M1374 181h0M1374 188.5h0M1374 197h0M1374 271.5h0M1374 272h0M1374 288h0M1374 296h0M1374.5 184.5h0M1374.5 273.5h0M1374.5 275h0M1374.5 292.5h0M1375 180h0M1375 180.5h0M1375 191h0M1375 197h0M1375 263h0M1375 274.5h0M1375 279.5h0M1375 285.5h0M1375.5 264.5h0M1375.5 268h0M1375.5 276h0M1375.5 291h0M1376 191h0M1376 266.5h0M1376 273h0M1376 293h0M1376.5 189.5h0M1376.5 197.5h0M1376.5 269h0M1376.5 285h0M1377 157.5h0M1377 196h0M1377 297.5h0M1377.5 265h0M1377.5 265.5h0M1377.5 267.5h0M1377.5 348h0M1378 156h0M1378 195.5h0M1378 265h0M1378.5 151.5h0M1378.5 185.5h0M1378.5 186.5h0M1378.5 264h0M1378.5 266h0M1378.5 273.5h0M1378.5 276h0M1378.5 289.5h0M1378.5 304h0M1379 168h0M1379 263.5h0M1379.5 184.5h0M1379.5 191.5h0M1379.5 192.5h0M1379.5 195.5h0M1379.5 277h0M1379.5 286h0M1379.5 294.5h0M1379.5 310h0M1380 265.5h0M1381 140h0M1381 156h0M1381 179.5h0M1381 190.5h0M1381 195.5h0M1381 286h0M1381 297.5h0M1381.5 163.5h0M1381.5 196h0M1381.5 265h0M1381.5 275.5h0M1382 157.5h0M1382 195.5h0M1382 272.5h0M1382.5 189.5h0M1382.5 263h0M1382.5 274h0M1383 175h0M1383 274h0M1383 297h0M1383.5 166h0M1383.5 193.5h0M1383.5 196.5h0M1383.5 263.5h0M1383.5 281.5h0M1383.5 284h0M1383.5 302.5h0M1383.5 309.5h0M1384 186.5h0M1384 265.5h0M1384 361h0M1384.5 178.5h0M1384.5 265h0M1384.5 286h0M1384.5 289.5h0M1385 173h0M1385 183h0M1385 184.5h0M1385 187.5h0M1385 197h0M1385 269h0M1385 315.5h0M1385.5 187h0M1385.5 191.5h0M1385.5 263h0M1385.5 293h0M1385.5 295.5h0M1386 197h0M1386 285.5h0M1386 287.5h0M1386.5 197h0M1386.5 265h0M1386.5 315.5h0M1386.5 333h0M1387 292.5h0M1387 310h0M1387.5 167.5h0M1387.5 198.5h0M1387.5 266.5h0M1387.5 309.5h0M1388 183.5h0M1388 267h0M1388 289.5h0M1388 298h0M1388 310.5h0M1388.5 182h0M1388.5 269.5h0M1388.5 270h0M1388.5 271.5h0M1388.5 283h0M1388.5 345h0M1388.5 349.5h0M1389 197h0M1389 268.5h0M1389 276.5h0M1389 278.5h0M1389.5 179h0M1389.5 188h0M1389.5 197.5h0M1389.5 265.5h0M1389.5 267h0M1389.5 269.5h0M1389.5 270h0M1389.5 270.5h0M1389.5 312.5h0M1390 278.5h0M1390.5 196.5h0M1390.5 266.5h0M1390.5 282h0M1390.5 283.5h0M1391 106h0M1391 175.5h0M1391 178.5h0M1391 179.5h0M1391 191.5h0M1391 273h0M1391 274.5h0M1391.5 150h0M1391.5 159h0M1391.5 173h0M1391.5 175.5h0M1391.5 177h0M1391.5 180h0M1391.5 182.5h0M1391.5 194h0M1391.5 268.5h0M1391.5 278h0M1391.5 288h0M1392 171.5h0M1392 186h0M1392 265h0M1392 268h0M1392 270.5h0M1392 304.5h0M1392.5 279.5h0M1392.5 282.5h0M1392.5 296h0M1392.5 297h0M1393 131.5h0M1393 191h0M1393 193.5h0M1393 268h0M1393 278h0M1393 280h0M1393.5 131.5h0M1393.5 167h0M1393.5 267.5h0M1393.5 281h0M1393.5 302h0M1394 174h0M1394 268h0M1394 279.5h0M1394 280h0M1394 282.5h0M1394.5 280h0M1394.5 280.5h0M1394.5 284.5h0M1394.5 299h0M1394.5 302h0M1395 165.5h0M1395 192h0M1395 295.5h0M1395.5 164.5h0M1395.5 172.5h0M1395.5 180.5h0M1395.5 192h0M1395.5 267.5h0M1395.5 283h0M1395.5 294h0M1396 151.5h0M1396 174.5h0M1396 310h0M1396 336.5h0M1396.5 169h0M1396.5 192h0M1396.5 267h0M1396.5 317h0M1396.5 326.5h0M1396.5 348.5h0M1397 270h0M1397.5 193.5h0M1397.5 266.5h0M1397.5 267.5h0M1397.5 288.5h0M1397.5 289.5h0M1398 193h0M1398 265h0M1398 267h0M1398 269.5h0M1398.5 138.5h0M1398.5 158.5h0M1398.5 192h0M1398.5 265.5h0M1399.5 183h0M1399.5 185.5h0M1399.5 266.5h0M1400 194h0M1400 194.5h0M1400 310h0M1400.5 266.5h0M1400.5 305.5h0M1401 170h0M1401 336h0M1401 352h0M1401.5 187h0M1401.5 195.5h0M1401.5 264h0M1401.5 287.5h0M1402.5 195.5h0M1402.5 285.5h0M1403 187h0M1403 263h0M1403.5 151h0M1403.5 196h0M1403.5 263.5h0M1403.5 268h0M1403.5 277.5h0M1404 181h0M1404 264.5h0M1404 283h0M1404 308h0M1404.5 139.5h0M1404.5 185h0M1404.5 262.5h0M1404.5 276.5h0M1404.5 303h0M1405 174h0M1405 180.5h0M1405 195h0M1405 280h0M1405.5 195h0M1405.5 290h0M1405.5 345.5h0M1406 134h0M1406 152h0M1406 160h0M1406 261h0M1406 289h0M1406.5 155h0M1406.5 194.5h0M1407 164h0M1407 195h0M1407 261h0M1407 267.5h0M1407.5 160.5h0M1407.5 170h0M1407.5 261.5h0M1407.5 272h0M1407.5 273h0M1408 302.5h0M1408.5 195h0M1408.5 261h0M1408.5 264h0M1408.5 274.5h0M1409 271h0M1409 324h0M1409.5 149h0M1409.5 190.5h0M1409.5 196h0M1409.5 260h0M1409.5 272.5h0M1409.5 280h0M1410 184h0M1410 282.5h0M1410 289.5h0M1410.5 189.5h0M1410.5 190.5h0M1410.5 260h0M1410.5 297.5h0M1411 195.5h0M1411 305h0M1411 321.5h0M1411.5 150.5h0M1411.5 165h0M1411.5 196.5h0M1411.5 259.5h0M1412 143h0M1412 290.5h0M1412.5 259.5h0M1412.5 271.5h0M1413 196h0M1413 267.5h0M1413 270h0M1413 273.5h0M1413 277h0M1413 316h0M1413.5 137h0M1413.5 166h0M1413.5 260h0M1413.5 264.5h0M1413.5 269h0M1413.5 270h0M1413.5 276.5h0M1413.5 280.5h0M1413.5 283h0M1414 267h0M1414 273.5h0M1414 282h0M1414 321.5h0M1414.5 196h0M1414.5 259.5h0M1414.5 278h0M1414.5 280h0M1415 159h0M1415 164h0M1415 182h0M1415 198h0M1415 262h0M1415 271h0M1415 280h0M1415 284h0M1415 298.5h0M1415 334.5h0M1415.5 187.5h0M1415.5 266.5h0M1415.5 267.5h0M1415.5 268.5h0M1415.5 274h0M1415.5 279.5h0M1416 152h0M1416 154h0M1416 268h0M1416 279.5h0M1416 305h0M1416.5 96h0M1416.5 262h0M1416.5 275h0M1417 196.5h0M1417 262h0M1417 271.5h0M1417 280h0M1417.5 197.5h0M1417.5 272h0M1417.5 286h0M1417.5 296h0M1417.5 334.5h0M1417.5 338.5h0M1418.5 145h0M1418.5 157.5h0M1418.5 173h0M1418.5 195.5h0M1418.5 262h0M1419 126h0M1419 197.5h0M1419 272h0M1419 273h0M1419 283h0M1419 296h0M1419.5 261.5h0M1419.5 275h0M1419.5 281h0M1420 184.5h0M1420 191h0M1420 198h0M1420 269h0M1420 277.5h0M1420 278.5h0M1420 283h0M1420 300h0M1420.5 181h0M1420.5 277.5h0M1420.5 279.5h0M1420.5 280.5h0M1421 106h0M1421 183.5h0M1421 187h0M1421 261.5h0M1421 265h0M1421 271.5h0M1421 274h0M1421 275h0M1421 278h0M1421.5 199h0M1422 134.5h0M1422 137h0M1422 138h0M1422 181h0M1422 192.5h0M1422 261h0M1422 266h0M1422.5 182.5h0M1422.5 184h0M1422.5 187h0M1422.5 190h0M1422.5 192.5h0M1422.5 197h0M1422.5 261.5h0M1422.5 285h0M1423 182h0M1423.5 199h0M1423.5 262.5h0M1423.5 266.5h0M1424 165.5h0M1424 185h0M1424 196h0M1424 277.5h0M1424 286.5h0M1424.5 164.5h0M1425 262h0M1425 276h0M1425 280h0M1425 296h0M1425 306h0M1425.5 130h0M1425.5 196.5h0M1425.5 260.5h0M1425.5 264.5h0M1425.5 269h0M1425.5 270.5h0M1425.5 271h0M1425.5 276h0M1425.5 281.5h0M1425.5 282h0M1425.5 294h0M1426 265h0M1426.5 183.5h0M1426.5 197.5h0M1426.5 269h0M1426.5 280.5h0M1426.5 282h0M1427 175h0M1427 184.5h0M1427 261.5h0M1427 262h0M1427 270.5h0M1427 276.5h0M1427.5 196.5h0M1428 149.5h0M1428 165h0M1428 169h0M1428 176h0M1428 177.5h0M1428 276.5h0M1428.5 169h0M1428.5 175.5h0M1428.5 176.5h0M1428.5 185h0M1428.5 263h0M1428.5 266.5h0M1428.5 273h0M1428.5 280.5h0M1428.5 283h0M1429 164.5h0M1429 165.5h0M1429 195h0M1429 263.5h0M1429 268.5h0M1429 272.5h0M1429 274.5h0M1429.5 165.5h0M1429.5 195h0M1429.5 265h0M1429.5 274h0M1430 195h0M1430 263.5h0M1430 296.5h0M1430 297.5h0M1430.5 116h0M1430.5 138.5h0M1430.5 174h0M1430.5 264.5h0M1430.5 273h0M1430.5 288.5h0M1431 176.5h0M1431 186.5h0M1431 188h0M1431 279h0M1431 303.5h0M1431.5 168.5h0M1431.5 173.5h0M1431.5 174.5h0M1431.5 181.5h0M1431.5 182h0M1431.5 196h0M1431.5 262.5h0M1431.5 269h0M1431.5 273h0M1432 173h0M1432 184.5h0M1432 202h0M1432 270h0M1432 278h0M1432 283h0M1432 287h0M1432 291.5h0M1432 298.5h0M1432 300.5h0M1432 311h0M1432.5 148h0M1432.5 196h0M1432.5 206h0M1432.5 261h0M1432.5 282h0M1433 272.5h0M1433 293.5h0M1433 304h0M1434 194h0M1434 202h0M1434 212h0M1434 215h0M1434 294h0M1435 214.5h0M1435 290.5h0M1435.5 219.5h0M1436 291h0M1437 220.5h0M1437 297.5h0M1438 301.5h0M1438.5 220.5h0M1438.5 224h0M1439.5 307.5h0M1440 311.5h0M1440.5 222.5h0M1440.5 226.5h0M1441 312h0M1441.5 224.5h0M1442.5 319.5h0M1443 224h0M1443 322.5h0M1444 326.5h0M1444.5 227h0M1445 229.5h0M1445 328h0M1445.5 328.5h0M1446 223.5h0M1447 225h0M1447 332h0M1448 223.5h0M1448.5 329.5h0M1448.5 331.5h0M1449 222h0M1449.5 331.5h0M1450.5 221h0M1450.5 328h0M1451 221h0M1452 331.5h0M1452.5 210.5h0M1452.5 220h0M1453 223h0M1453 330h0M1453.5 224.5h0M1454 330h0M1454.5 329h0M1455 225h0M1456 331h0M1456.5 225.5h0M1457 225.5h0M1457 329h0M1457.5 227.5h0M1458 330h0M1458.5 229h0M1458.5 329.5h0M1460 230h0M1460 330h0M1461 330h0M1461.5 230.5h0M1461.5 234h0M1462 329h0M1463 234.5h0M1463 330h0M1464 234h0M1464 329.5h0" fill="none" stroke="#1f77b4" stroke-width="5.56" stroke-linecap="round"/>
<path d="M117.2 218.3L118.2 251.1L119.2 261.3L121.3 251.1L123.3 280.8L125.4 251.1L128.4 251.1L129.5 261.3L131.5 257.2L134.6 273.6L137.6 261.3L140.7 251.1L142.8 267.4L146.9 271.5L151 250L153 263.3L156.1 265.4L161.2 243.9L164.3 266.4L169.4 253.1L171.4 261.3L173.5 250L175.5 266.4L177.6 255.2L179.6 259.2L181.7 252.1L186.8 249L189.9 261.3L192.9 267.4L195 251.1L198.1 263.3L201.1 259.2L204.2 248L207.3 255.2L210.3 234.7L212.4 257.2L214.4 247L218.5 253.1L222.6 242.9L225.7 260.3L229.8 235.7L231.8 248L234.9 230.6L237 231.6L240 251.1L242.7 243.9L245.2 259.2L248.2 243.9L253.3 237.7L258.5 230.6L262.6 233.7L267.3 227.5L268.7 247L271.4 266.4L273.8 234.7L276.3 220.3L278.9 228.5L282 247L284.1 263.3L287.1 261.3L290.2 247L293.3 242.9L295.3 255.2L297.4 249L300.4 265.4L303.5 271.5L307.6 264.4L310.7 226.5L312.7 232.6L314.8 226.5L316.8 231.6L317.8 220.3L320.9 201.9L323 208.1L324 199.9L326 222.4L327.1 224.4L330.1 215.2L333.2 220.3L337.3 247L339.4 259.2L341.4 271.5L342.4 265.4L344.5 281.8L346.5 257.2L349.6 244.9L353.7 230.6L356.8 222.4L358.8 225.5L361.9 223.4L366 231.6L369.7 238.8L372.1 236.7L375.2 226.5L377.8 221.4L380.3 228.5L383.4 231.6L386.5 220.3L388.5 228.5L390.5 224.4L392.6 231.6L395.7 232.6L398.7 245.9L401.8 240.8L405.9 227.5L408 232.6L410 245.9L412.3 248L415.4 249.4L418.4 248.6L421.5 258.2L424.6 267.4L427.6 255.2L431.1 276.7L433.8 263.3L435.8 251.1L437.9 241.8L439.9 253.1L443 224.8L446.1 231.6L449.1 234.7L451.2 239.8L453.2 234.7L457.3 233.7L459.4 232.6L461 243.5L463.5 231.6L465.1 232.6L467.6 222.4L470.6 218.3L473.7 212.6L476.2 215.2L478.8 209.1L480.9 220.3L483.5 220.3L486 228.5L489.1 240.8L491.1 241.8L493.2 253.1L495.8 267L498.3 259.2L500.8 252.7L504.4 259.7L506.9 242.9L508.5 245.3L511.6 230.6L514.7 216.2L517.3 211.7L519.2 220.3L520.8 218.3L523.3 230.6L525.9 239.8L529.4 221.4L532.1 238.8L534.7 259.2L536.8 265.4L539.7 250L542.3 253.1L545.4 244.9L548.5 228.5L551.5 191.7L554 172.2L556.7 195.8L558.1 190.6L560.8 215.8L562.8 203.5L564.8 210.1L567.9 209.1L570.4 210.1L573.7 193.3L575.7 199.9L577.1 212.2L579.2 220.3L582.3 242.9L585.3 262.3L587.4 230.6L589.4 231.6L592.1 219.3L594.1 223.4L596.6 214.2L599 217.3L601.7 227.5L603.8 213.2L605.2 222.4L607.2 199.9L608.9 214.2L610.5 213.2L613 234.7L615 244.9L617.5 238.8L620.1 227.5L621.8 235.7L623.2 224.4L625.3 232.6L627.3 224.4L630.4 221.4L632.8 243.9L634.5 231.6L635.9 237.7L638.6 213.2L640 220.3L641.6 200.9L643.3 224.4L645.1 207L646.8 222.4L648.8 232.6L651.5 234.7L653.3 245.9L654.9 234.7L656.4 238.8L659 214.2L661.1 191.7L663.8 154.8L665.8 174.3L667.6 139.5L669.9 185.5L671.7 173.2L674 187.6L676 169.1L678.5 186.6L681 171.2L683 166.1L684.6 148.7L687.7 169.1L690.8 177.3L693.9 185.5L695.9 185.5L698.6 204L700 202.9L702.3 185.2L704.7 174.9L706.8 189.2L709.5 192.3L711.5 171.8L713.5 194.4L716.6 185.2L720.7 167.7L722.8 172.9L724.4 166.3L726.9 192.3L728.9 183.1L730.5 187.2L734 171.8L737.1 181.1L740.2 179.4L743.2 191.3L746.3 195.4L748.4 190.3L751.4 194.4L753.9 185.2L756.6 197.4L759.6 195.4L761.7 188.2L764.7 198.5L767.4 206.7L769.9 194.4L771.9 187.2L774 197.4L776 179L777.6 191.3L779.7 172.9L781.7 181.1L783.8 172.9L786.2 189.2L788.3 180L791.4 186.2L794.4 207.7L798.1 216.9L800.2 209.7L803.7 211.8L806.7 221L808.8 211.8L811.2 195.4L812.5 205.6L814.9 181.1L817 127.8L818.2 106.3L820 144.2L822.1 181.1L824.1 208.7L826.2 195.4L828.2 209.7L831.3 220L834.4 212.8L837.4 220L840.5 225.7L842.6 216.9L845.6 222L849.7 225.1L853.8 226.1L857.9 228.2L861 224.1L864.1 220.4L868.2 226.1L872.3 224.1L874.3 215.9L876.3 226.1L878.4 191.3L880.4 193.3L882.5 211.8L884.5 220L887.6 218.9L889 227.7L891.1 201.5L893.1 217.9L895.8 191.3L897.8 228.2L898.9 238.4L901.9 252.7L904 226.1L906 199.5L907.5 183.1L909.5 223L912.2 210.8L915.3 224.1L918.3 201.5L920.4 220L922.4 215.9L925.5 228.2L928.6 226.1L930.6 211.8L932.7 207.7L934.7 195.4L936.8 207.7L938.8 192.3L940.9 242.5L942.9 191.3L944.9 201.5L947 195.4L950.1 232.3L952.1 217.9L955.2 211.8L957.8 206.7L960.7 228.2L963.4 213.8L966.5 242.5L969.5 226.1L972.6 224.1L975.7 222L977.7 210.8L980.8 224.1L983.9 225.1L986.9 226.1L989 232.3L990 228.2L992 230.9L994.1 228.2L996.5 228.1L998.1 224.7L1000.2 229.1L1002.3 224.6L1003.9 233.3L1005.8 228.1L1008.3 231.1L1010.8 226.2L1013.4 227.2L1015 232.1L1016.8 227.4L1019.2 230.2L1021.4 227.7L1023 228.3L1025.2 228.6L1027.7 244.1L1030 231.1L1032.4 227.3L1034.1 226.3L1035.8 227.9L1037.4 227.6L1039.8 231L1042.2 225L1043.9 231.3L1045.7 219.6L1047.5 223.3L1049.4 234.1L1051.4 226.8L1053.8 223.1L1055.9 226.5L1058.2 229.5L1060.7 225.9L1063.1 222.9L1065.1 225.7L1067.4 225.6L1069.9 232L1072.5 229.8L1074.4 227.7L1076.3 233.5L1078.5 228.3L1081 227.3L1083.1 227.2L1085 227.9L1086.9 233.2L1089.4 241.1L1091.6 228.5L1093.3 231.7L1095.3 229.3L1097.2 229.8L1099.5 227.2L1101.7 227.9L1103.9 226.4L1106.3 231L1108.9 230L1111.2 231.7L1113 226.6L1115 245.2L1117.5 233.1L1119.8 227.5L1121.9 228.5L1124.3 234.9L1126.2 227.7L1128.2 227.7L1130.1 228.6L1132.5 226.4L1134.8 228.8L1136.8 228.6L1138.8 225.4L1141.4 230.7L1143.9 228.1L1146.2 227L1147.8 239L1150.2 221.8L1151.9 226.6L1153.8 225.1L1155.8 222.4L1157.6 228.3L1159.9 228.3L1162.2 223.3L1164 227.1L1166.2 226.4L1168.3 226.2L1169.9 228.7L1172.3 231.1L1174 231.2L1176.3 229.7L1178.1 225.5L1180.3 234.2L1182.4 219.9L1184.5 233.5L1186.6 226.7L1188.5 229.6L1191.1 230.1L1193.6 221.6L1195.4 229.5L1197.4 225.5L1199.6 219.6L1201.5 224.4L1203.3 227.2L1205.6 235.9L1207.8 223.9L1210.1 216.5L1212.2 232.4L1213.8 229.9L1215.7 229.6L1217.6 228.7L1219.4 234.3L1221.6 226L1223.4 227.3L1225.3 229.3L1227.8 233.2L1230.4 230.7L1232.5 227.1L1234.2 246.2L1236.2 234L1237.8 225.5L1240.3 231.8L1241.9 233L1244.4 226.7L1246.6 229.4L1248.5 226.3L1250.9 224L1253 228.2L1255.3 233.6L1257.6 243.1L1260.1 232L1261.9 230.8L1264.2 221.1L1266.4 224.9L1268.9 216.5L1271.5 229.7L1273.7 229.5L1275.4 231.2L1277.9 235.9L1279.6 215.5L1281.6 232.4L1284.1 230.7L1286.6 225.9L1288.4 230.2L1290.7 223.5L1292.8 227.2L1295 232.7L1297.2 231.2L1298.9 258.5L1300.8 229.4L1302.7 230.2L1304.5 226.1L1306.3 233.8L1308.3 229.2L1310.7 228.8L1312.7 225.2L1315.1 229.1L1316.8 233.7L1318.8 234L1321.3 223.3L1323.6 227.8L1325.5 231.2L1328 229L1330 228L1331.8 231.2L1334.1 226.7L1335.8 233.8L1338.3 228.6L1340.7 228.6L1343 226.3L1345.5 224.2L1347.4 233.3L1350 228.4L1352 228.9L1353.7 226.4L1355.6 232.4L1357.8 223.5L1359.8 230.6L1362 221L1364.3 227.3L1366.5 229.5L1368.9 233.6L1370.7 229.5L1372.7 230.2L1374.7 232.5L1376.9 241.1L1379.4 231.2L1381.2 227.7L1383.6 231.1L1385.4 230.6L1387 227.4L1388.8 228.7L1391.2 230.2L1393.5 226.6L1395.9 233.1L1398.1 230L1400 224.4L1402 231.8L1404.4 231L1406.5 229L1408.4 227L1410.1 221.5L1412.4 229.2L1414.7 226.3L1417 234L1419 231.8L1420.9 224.8L1423.4 223.6L1425.9 224.7L1428 239L1430.4 232.9L1433.1 253.3L1436.2 251.3L1438.2 257.4L1440.3 253.3L1443.3 265.6L1446.4 282L1448.5 271.8L1451.5 275.9L1453.6 267.7L1457.7 286.1L1460.7 267.7L1462.4 265.6L1464.8 264.6" fill="none" stroke="#ff7f0e" stroke-width="2.08" stroke-linejoin="round" stroke-linecap="square"/></g>
<path d="M116.50 518.5v5.3M284.50 518.5v5.3M452.50 518.5v5.3M621.50 518.5v5.3M789.50 518.5v5.3M957.50 518.5v5.3M1125.50 518.5v5.3M1294.50 518.5v5.3M116.5 124.50h-5.3M116.5 227.50h-5.3M116.5 330.50h-5.3M116.5 434.50h-5.3" fill="none" stroke="#000" stroke-width="1.11"/>
<rect x="116.5" y="38.5" width="1346.0" height="480.0" fill="none" stroke="#000" stroke-width="1.11" stroke-linejoin="miter"/>
<text transform="translate(106.1 132.1) scale(1 0.95)" text-anchor="end" font-size="22.22">1</text>
<text transform="translate(106.1 235.1) scale(1 0.95)" text-anchor="end" font-size="22.22">0</text>
<text transform="translate(105.2 338.1) scale(1 0.95)" text-anchor="end" font-size="22.22">−1</text>
<text transform="translate(105.2 442.1) scale(1 0.95)" text-anchor="end" font-size="22.22">−2</text>
<rect x="1047.6" y="48.7" width="406.0" height="79.4" rx="3.7" fill="#fff" fill-opacity="0.8" stroke="#ccc" stroke-opacity="0.8" stroke-width="1.11"/>
<circle cx="1073.4" cy="63.4" r="2.78" fill="#1f77b4"/>
<path d="M1053.2 101.8h38.7" stroke="#ff7f0e" stroke-width="2.08" fill="none"/>
<text x="1106.2" y="68.8" font-size="18.5">Raw Data</text>
<text x="1106.2" y="95.5" font-size="18.5">Butterworth Filtered Data</text>
<text x="1106.2" y="116.8" font-size="18.5">(N=6, Tc=3.3333 min, Type: low)</text>
</g>
<g id="panel-b">
<rect x="116.5" y="575.5" width="1346.0" height="479.0" fill="#fff"/>
<clipPath id="cb"><rect x="116.5" y="575.5" width="1346.0" height="479.0"/></clipPath>
<rect x="169.5" y="573.5" width="501.0" height="483.0" fill="#d3d3d3" fill-opacity="0.5" stroke="#d3d3d3" stroke-opacity="0.5" stroke-width="1.11" clip-path="url(#cb)"/>
<path d="M116.50 1054.5V575.5M284.50 1054.5V575.5M452.50 1054.5V575.5M621.50 1054.5V575.5M789.50 1054.5V575.5M957.50 1054.5V575.5M1125.50 1054.5V575.5M1294.50 1054.5V575.5M116.5 641.50H1462.5M116.5 739.50H1462.5M116.5 837.50H1462.5M116.5 935.50H1462.5M116.5 1033.50H1462.5" fill="none" stroke="#b0b0b0" stroke-width="1.11" stroke-dasharray="1.11 1.83"/>
<g clip-path="url(#cb)"><path d="M117 993L118 994.7L119 995.9L120 996.8L121 998.1L122 998.1L123 1001.7L124 999L125 997.8L126 994.8L127 992.9L128 989.1L129 988.7L130 989.7L131 989.2L132 989.7L133 993.5L134 991.9L135 989.4L136 990.1L137 990.8L138 990.8L139 989.3L140 990.5L141 990L142 992.4L143 995.3L144 992.3L145 988.8L146 978.3L147 966.1L148 966L149 963.6L150 959.5L151 957.2L152 956.8L153 960.1L154 960L155 957.3L156 957L157 955.4L158 954.6L159 953.1L160 953.7L161 949.6L162 946.5L163 948.5L164 952.6L165 955.6L166 956.5L167 956.1L168 951.3L169 949.2L170 940.6L171 928.7L172 920.1L173 913.1L174 905.6L175 891.9L176 882.2L177 877.9L178 873.7L179 869.3L180 869.9L181 870.7L182 867.5L183 859.4L184 847.9L185 846.9L186 851.1L187 852.8L188 849.2L189 847.5L190 851.8L191 855.2L192 857.6L193 855.8L194 850.7L195 848L196 841.5L197 841.8L198 840.5L199 841.5L200 844.7L201 849.7L202 850.9L203 845.2L204 839.7L205 824.1L206 807.6L207 804.7L208 798.4L209 780.5L210 775.6L211 776.8L212 779.1L213 778.4L214 778.5L215 779.1L216 773.2L217 765.3L218 761.5L219 756.7L220 752.9L221 748.8L222 748.3L223 756.5L224 758.3L225 761.7L226 765.2L227 759.8L228 760.2L229 757L230 757.9L231 751.3L232 743.8L233 727L234 701.8L235 699.8L236 699.4L237 696.2L238 691.4L239 690.1L240 689.6L241 690.8L242 691.5L243 688.3L244 689.9L245 689.6L246 689.7L247 691.7L248 690L249 689L250 678.7L251 664.2L252 661L253 654.6L254 658.8L255 649.2L256 645.3L257 638.1L258 628.6L259 622.8L260 624.2L261 624.3L262 620.2L263 619.1L264 616.9L265 618.6L266 621.7L267 626.5L268 628.2L269 632L270 637.3L271 643.1L272 646.6L273 647.8L274 649.1L275 648.1L276 651.2L277 650.1L278 648.1L279 646.6L280 645.9L281 641L282 638.9L283 643.8L284 640.4L285 640.4L286 641.3L287 641.9L288 644.7L289 640.7L290 636.4L291 633.6L292 629.5L293 624.9L294 617L295 613.9L296 616.8L297 615L298 617.8L299 616.3L300 616L301 617.2L302 621.5L303 624.5L304 623.2L305 622.8L306 623.6L307 619.7L308 616.6L309 618.5L310 620.4L311 618.7L312 619.9L313 619.6L314 618L315 618.8L316 617.5L317 613.2L318 609.5L319 611.5L320 610.6L321 610.6L322 613.4L323 616.6L324 617.4L325 619.6L326 618.1L327 618.3L328 616.4L329 613.2L330 609.9L331 609.8L332 610.2L333 610.8L334 618.4L335 624.2L336 628.5L337 631.1L338 635.7L339 637.4L340 637.1L341 636.8L342 633L343 630.7L344 629.7L345 629.8L346 631.4L347 627.1L348 626.6L349 623.6L350 621.1L351 614.4L352 609.6L353 611.4L354 606.6L355 613.2L356 609.7L357 603.3L358 604L359 608.3L360 607.3L361 607.6L362 609.5L363 608.5L364 609.2L365 610.6L366 611.7L367 610.4L368 609.4L369 608L370 608.1L371 604.7L372 604.2L373 605.3L374 606L375 606.2L376 606.3L377 608L378 611.1L379 610.3L380 611.3L381 611.1L382 611.2L383 613.1L384 610.3L385 607.4L386 609.2L387 614.1L388 611.2L389 614.1L390 613.9L391 614L392 613.7L393 613.7L394 614.3L395 614.2L396 612.6L397 613.9L398 610.9L399 614.1L400 610.2L401 608.6L402 610.6L403 618.7L404 623.3L405 620L406 619.6L407 620.5L408 617.7L409 617.6L410 615.5L411 613.2L412 610.3L413 611.3L414 613.1L415 609.7L416 608.5L417 610.2L418 613.7L419 616L420 616.2L421 614.6L422 614.1L423 612.5L424 609L425 613.4L426 617.5L427 622.2L428 625.1L429 625.7L430 627.1L431 630.8L432 630.5L433 628.8L434 624.7L435 620.6L436 614.7L437 609.2L438 607.8L439 607.5L440 604.2L441 602.3L442 603L443 602.7L444 601.3L445 603.1L446 600.4L447 601L448 604.2L449 602.8L450 603L451 602.3L452 604L453 607.8L454 609.3L455 609L456 615.3L457 623.1L458 621.5L459 615.7L460 606L461 602.3L462 606.3L463 606.5L464 604.7L465 602L466 601.3L467 603.2L468 602.1L469 599.7L470 600.6L471 604.5L472 607.2L473 612L474 619.6L475 623.5L476 622.5L477 622.8L478 621.1L479 620.4L480 620.7L481 619.4L482 615.8L483 618.9L484 622.8L485 621.6L486 625.7L487 628.7L488 626.8L489 627.7L490 628.9L491 629.9L492 630.4L493 631.1L494 633L495 637.6L496 641.3L497 641.2L498 642.6L499 634.3L500 621.8L501 607.5L502 601.2L503 601.6L504 604.2L505 602.9L506 598.8L507 598.5L508 599.5L509 600.6L510 600.6L511 599.3L512 598.9L513 600.6L514 606.9L515 607.6L516 608.4L517 605.2L518 605.1L519 609.7L520 616.1L521 617.9L522 620.3L523 623L524 622.7L525 623.7L526 626.8L527 628.3L528 624.7L529 622.1L530 619.7L531 617.8L532 613.3L533 609.8L534 608.5L535 609.4L536 606.7L537 603.6L538 603.6L539 603.7L540 603.3L541 605L542 603.3L543 604.8L544 608.9L545 611.2L546 610.7L547 612.7L548 613.1L549 613.1L550 612.3L551 614.7L552 621L553 623.1L554 626.3L555 631.6L556 634.9L557 631.3L558 631.4L559 631.7L560 635.1L561 634.6L562 632.8L563 633.8L564 633.6L565 637.3L566 638.8L567 639L568 643.9L569 643.2L570 644.4L571 651.4L572 658.9L573 664.8L574 670.4L575 663.5L576 656.3L577 648.4L578 639.4L579 633.6L580 628.2L581 625.1L582 624.9L583 622.9L584 613.5L585 610.6L586 609.8L587 606.9L588 610.2L589 616.2L590 621.1L591 623.6L592 623.4L593 620.8L594 617.6L595 616.2L596 613.9L597 614.2L598 618.8L599 621.1L600 622.9L601 619.5L602 616.1L603 612.5L604 610.6L605 605.8L606 605.5L607 610.4L608 605.6L609 606.9L610 604.7L611 607.5L612 611.5L613 615.2L614 615.6L615 616.4L616 619.3L617 619.4L618 621.6L619 616.4L620 616.9L621 616.8L622 616.6L623 612.9L624 612.6L625 608.1L626 605L627 605.9L628 608.5L629 615.4L630 615.5L631 614.7L632 614.6L633 617L634 614.4L635 605L636 604.6L637 605L638 605.7L639 601.5L640 601.1L641 600.6L642 602.4L643 603.1L644 602.9L645 603.4L646 605.5L647 607.6L648 602.2L649 599L650 599.7L651 600.6L652 605.2L653 608.8L654 606.7L655 606.4L656 606.8L657 610L658 607.4L659 608.2L660 607.5L661 607.8L662 612.8L663 608.9L664 605.4L665 604.5L666 608.1L667 615L668 615.6L669 612.3L670 613.4L671 618.9L672 628L673 633.5L674 636L675 636.7L676 632L677 631.7L678 629.6L679 625.9L680 627.9L681 622.1L682 622.6L683 622.1L684 616L685 615.6L686 621.1L687 627.6L688 638.1L689 643.7L690 641.9L691 645L692 642.8L693 635.1L694 633.4L695 638.6L696 643.5L697 648.3L698 651.8L699 655L700 658.3L701 664.4L702 671.5L703 677.4L704 682.7L705 687L706 691.6L707 695.4L708 696.9L709 704.2L710 711.1L711 717.2L712 734.2L713 747.1L714 752.3L715 757.7L716 760.2L717 762.7L718 766.6L719 769.2L720 772L721 778.4L722 783.4L723 789.6L724 797.6L725 809L726 820.8L727 832.8L728 828.7L729 837.9L730 841.6L731 848.2L732 856.9L733 861.2L734 867.7L735 875.6L736 882.6L737 887.3L738 890.9L739 893.1L740 895L741 896.8L742 900L743 902.8L744 906.4L745 907.8L746 916.6L747 921.9L748 920.4L749 932.7L750 942.4L751 943.8L752 943.5L753 947.8L754 954.5L755 953.6L756 947.4L757 944.3L758 943.6L759 944.6L760 948.8L761 949.3L762 951.3L763 953.9L764 956.5L765 959.3L766 959.9L767 959.5L768 958.5L769 953.8L770 952.9L771 956.3L772 958.4L773 959.4L774 961.2L775 962.7L776 966.6L777 968.9L778 969.2L779 969L780 971.8L781 973.9L782 976.4L783 976.8L784 978.7L785 980.1L786 980.5L787 980.7L788 980.5L789 981.7L790 981L791 983.4L792 979.6L793 977.7L794 980.4L795 978.3L796 978.6L797 981.2L798 981.3L799 978.9L800 979.6L801 978.5L802 979.8L803 981.6L804 983.9L805 987.6L806 987.7L807 983.7L808 984.7L809 988.5L810 992.6L811 992.7L812 993.8L813 991.6L814 989.8L815 986.8L816 981.5L817 974.2L818 965L819 970.4L820 979.6L821 989.9L822 997.5L823 1001.4L824 1004.9L825 1005.8L826 1005.3L827 1005.3L828 1006.9L829 1004.5L830 1003.3L831 1005.2L832 1007.2L833 1008.6L834 1009.3L835 1010L836 1013.1L837 1016.4L838 1013.2L839 1010.3L840 1010.5L841 1011.5L842 1014.8L843 1015L844 1010.2L845 1010.8L846 1009.6L847 1009.7L848 1013.2L849 1014.6L850 1012.9L851 1010.7L852 1011.1L853 1012.6L854 1014.2L855 1013.6L856 1015.4L857 1014.3L858 1015L859 1010.8L860 1006L861 1006.3L862 1005.9L863 1011.2L864 1015L865 1016.3L866 1016.4L867 1019L868 1019.3L869 1019.6L870 1019.1L871 1017.5L872 1018.5L873 1015.7L874 1014.5L875 1016.1L876 1019.6L877 1018.9L878 1019.8L879 1019.7L880 1021.6L881 1027.1L882 1024L883 1023L884 1023.1L885 1023L886 1022.9L887 1028.3L888 1030.2L889 1026.9L890 1023.6L891 1025.8L892 1023.8L893 1027.5L894 1025.2L895 1023.2L896 1023.1L897 1023.1L898 1024.7L899 1027.4L900 1023L901 1021.2L902 1021.1L903 1021.4L904 1024.9L905 1029.2L906 1022.8L907 1023L908 1022L909 1023.2L910 1027L911 1025.1L912 1024.3L913 1025.2L914 1027.7L915 1027.1L916 1025.8L917 1026L918 1026L919 1026.3L920 1031.5L921 1028.2L922 1030.2L923 1028.4L924 1025.9L925 1025.6L926 1027.6L927 1027.3L928 1024.1L929 1024.8L930 1024L931 1022.9L932 1024.3L933 1023L934 1022.1L935 1016L936 1010.4L937 1010.9L938 1010L939 1010.7L940 1012.8L941 1014.8L942 1017.2L943 1018.8L944 1023.7L945 1024.1L946 1025.3L947 1027.2L948 1027.3L949 1029L950 1030.3L951 1024.4L952 1024.1L953 1023.9L954 1023.5L955 1023.1L956 1022.5L957 1022L958 1022.9L959 1023.6L960 1024L961 1024L962 1024.1L963 1024.7L964 1024.6L965 1024.1L966 1024.1L967 1024.1L968 1024.1L969 1024.2L970 1024.2L971 1024L972 1024.3L973 1024.5L974 1024L975 1024.2L976 1024.2L977 1024L978 1023.9L979 1024.1L980 1023.7L981 1023.6L982 1023.5L983 1023.6L984 1023.8L985 1023.2L986 1022.9L987 1023.5L988 1024.1L989 1024.6L990 1025.4L991 1025.9L992 1026.2L993 1026.6L994 1026.8L995 1026.6L996 1026.5L997 1026.7L998 1026.7L999 1026.8L1000 1027.2L1001 1027.2L1002 1027.1L1003 1027.1L1004 1027.2L1005 1027.2L1006 1027.4L1007 1027.4L1008 1027.3L1009 1027.4L1010 1027.6L1011 1027.9L1012 1027.4L1013 1027.7L1014 1027.5L1015 1027.8L1016 1027.6L1017 1027.7L1018 1027.8L1019 1028.1L1020 1028L1021 1027.9L1022 1028.4L1023 1028L1024 1028L1025 1028L1026 1028L1027 1028.2L1028 1028.6L1029 1028.3L1030 1028.1L1031 1028.2L1032 1028.1L1033 1028.1L1034 1028.4L1035 1028.5L1036 1028.3L1037 1028.3L1038 1028.4L1039 1028.9L1040 1028.6L1041 1028.6L1042 1028.8L1043 1028.5L1044 1028.3L1045 1028.5L1046 1028.3L1047 1028.3L1048 1028.5L1049 1028.5L1050 1028.3L1051 1028.6L1052 1028.3L1053 1028.8L1054 1028.6L1055 1028.6L1056 1028.8L1057 1028.6L1058 1028.6L1059 1028.8L1060 1028.4L1061 1028.5L1062 1028.6L1063 1028.3L1064 1028.6L1065 1028.7L1066 1028.9L1067 1028.5L1068 1028.4L1069 1028.4L1070 1028.6L1071 1028.5L1072 1028.4L1073 1028.7L1074 1028.4L1075 1028.3L1076 1028.5L1077 1028.3L1078 1028.5L1079 1028.5L1080 1028.5L1081 1028.5L1082 1028.6L1083 1028.3L1084 1028.4L1085 1028.9L1086 1028.6L1087 1028.3L1088 1028.4L1089 1028.8L1090 1029L1091 1028.5L1092 1028.5L1093 1028.4L1094 1028.5L1095 1028.4L1096 1028.6L1097 1028.4L1098 1028.5L1099 1028.6L1100 1028.6L1101 1028.8L1102 1028.3L1103 1028.6L1104 1028.3L1105 1028.6L1106 1028.4L1107 1028.7L1108 1028.4L1109 1028.6L1110 1028.4L1111 1028.7L1112 1028.4L1113 1028.4L1114 1028.5L1115 1028.6L1116 1028.5L1117 1028.9L1118 1028.6L1119 1028.8L1120 1028.9L1121 1028.8L1122 1028.5L1123 1028.4L1124 1028.7L1125 1028.6L1126 1028.5L1127 1028.4L1128 1028.4L1129 1028.6L1130 1028.7L1131 1028.3L1132 1028.6L1133 1028.5L1134 1028.4L1135 1028.4L1136 1028.6L1137 1028.7L1138 1028.5L1139 1028.4L1140 1028.4L1141 1028.5L1142 1028.6L1143 1028.5L1144 1028.4L1145 1028.3L1146 1028.7L1147 1028.3L1148 1028.4L1149 1028.3L1150 1028.8L1151 1028.8L1152 1028.5L1153 1028.4L1154 1028.6L1155 1028.4L1156 1028.3L1157 1028.7L1158 1028.6L1159 1028.4L1160 1028.6L1161 1028.3L1162 1028.5L1163 1028.3L1164 1028.4L1165 1028.6L1166 1028.7L1167 1028.4L1168 1028.4L1169 1028.9L1170 1029.1L1171 1028.3L1172 1028.5L1173 1028.4L1174 1028.5L1175 1028.5L1176 1028.5L1177 1028.4L1178 1028.4L1179 1028.9L1180 1028.7L1181 1028.5L1182 1028.4L1183 1028.7L1184 1028.8L1185 1028.8L1186 1028.6L1187 1028.4L1188 1028.4L1189 1028.6L1190 1028.8L1191 1029L1192 1028.4L1193 1028.5L1194 1028.3L1195 1028.9L1196 1028.7L1197 1028.4L1198 1028.4L1199 1028.6L1200 1028.8L1201 1028.6L1202 1028.7L1203 1028.6L1204 1028.3L1205 1028.3L1206 1028.3L1207 1028.4L1208 1028.6L1209 1028.8L1210 1028.5L1211 1028.5L1212 1028.5L1213 1028.4L1214 1028.4L1215 1028.4L1216 1028.3L1217 1028.4L1218 1028.4L1219 1028.4L1220 1028.4L1221 1028.6L1222 1028.7L1223 1028.4L1224 1028.6L1225 1029L1226 1028.6L1227 1028.6L1228 1028.8L1229 1028.8L1230 1028.9L1231 1028.5L1232 1028.4L1233 1028.6L1234 1028.3L1235 1028.7L1236 1028.6L1237 1028.6L1238 1028.5L1239 1028.5L1240 1028.4L1241 1028.6L1242 1028.4L1243 1028.7L1244 1028.5L1245 1028.6L1246 1028.6L1247 1028.3L1248 1028.4L1249 1028.5L1250 1028.7L1251 1028.9L1252 1029L1253 1028.8L1254 1028.5L1255 1028.3L1256 1028.9L1257 1028.6L1258 1028.4L1259 1028.4L1260 1029L1261 1029.1L1262 1028.6L1263 1028.4L1264 1028.4L1265 1028.8L1266 1028.5L1267 1028.4L1268 1028.5L1269 1028.7L1270 1028.5L1271 1028.4L1272 1028.8L1273 1028.3L1274 1028.3L1275 1028.6L1276 1028.4L1277 1028.6L1278 1028.3L1279 1028.3L1280 1028.4L1281 1028.7L1282 1028.6L1283 1028.5L1284 1029L1285 1028.8L1286 1028.6L1287 1028.3L1288 1028.6L1289 1029L1290 1028.8L1291 1028.5L1292 1028.4L1293 1028.4L1294 1028.6L1295 1028.4L1296 1028.5L1297 1028.7L1298 1028.9L1299 1028.9L1300 1028.8L1301 1028.5L1302 1028.7L1303 1028.8L1304 1028.5L1305 1028.3L1306 1028.7L1307 1028.3L1308 1028.6L1309 1028.5L1310 1028.4L1311 1028.3L1312 1028.8L1313 1028.5L1314 1028.3L1315 1028.3L1316 1028.4L1317 1028.6L1318 1028.5L1319 1028.4L1320 1028.3L1321 1028.4L1322 1028.3L1323 1028.4L1324 1028.7L1325 1028.8L1326 1028.2L1327 1028.2L1328 1028.3L1329 1028.5L1330 1028.2L1331 1028.7L1332 1028.4L1333 1028.3L1334 1028.2L1335 1028.5L1336 1028.9L1337 1028.5L1338 1028.5L1339 1028.8L1340 1028.4L1341 1028.2L1342 1028.2L1343 1028.6L1344 1028.1L1345 1028.5L1346 1028.2L1347 1028.2L1348 1028.2L1349 1028.4L1350 1028.1L1351 1028.1L1352 1028.1L1353 1028.1L1354 1028.3L1355 1028.1L1356 1028.2L1357 1028.3L1358 1028.2L1359 1028.7L1360 1028.4L1361 1028.1L1362 1028L1363 1028.2L1364 1028.3L1365 1028L1366 1028L1367 1028L1368 1028L1369 1027.9L1370 1028L1371 1028.1L1372 1027.9L1373 1028.1L1374 1028L1375 1027.7L1376 1027.7L1377 1027.6L1378 1027.5L1379 1027.5L1380 1027.7L1381 1027.4L1382 1027.5L1383 1027.3L1384 1027.3L1385 1027.2L1386 1027.1L1387 1027L1388 1027.2L1389 1027.2L1390 1026.9L1391 1026.6L1392 1026.5L1393 1026.5L1394 1026.5L1395 1026.6L1396 1026.5L1397 1026L1398 1026.2L1399 1025.9L1400 1025.8L1401 1025.7L1402 1025.6L1403 1025.5L1404 1025.4L1405 1025.2L1406 1025.1L1407 1024.8L1408 1024.5L1409 1024.1L1410 1023.7L1411 1023.5L1412 1023.1L1413 1022.8L1414 1022.6L1415 1022.7L1416 1023L1417 1022.9L1418 1023L1419 1023.1L1420 1023.3L1421 1023.3L1422 1023.3L1423 1023.4L1424 1023.1L1425 1023.1L1426 1022.5L1427 1022.2L1428 1021.7L1429 1020.3L1430 1018.4L1431 1016.4L1432 1014.4L1433 1014L1434 1013.8L1435 1013.2L1436 1012.8L1437 1013.8L1438 1015.5L1439 1017.2L1440 1018.9L1441 1019.3L1442 1019.8L1443 1019.5L1444 1018.3L1445 1017.1L1446 1015.7L1447 1015.1L1448 1014.7L1449 1014.7L1450 1014L1451 1013.5L1452 1013.1L1453 1012.8L1454 1012.8L1455 1012.2L1456 1011.9L1457 1011.5L1458 1011.2L1459 1010.8L1460 1010.7L1461 1010.5L1462 1010.3L1463 1010.2L1464 1010L1465 1009.9L1465 1027.9L1464 1027.8L1463 1027.7L1462 1027.6L1461 1028L1460 1027.9L1459 1028L1458 1028.1L1457 1028.2L1456 1028.2L1455 1028.2L1454 1027.9L1453 1028.5L1452 1027.9L1451 1028.6L1450 1028.6L1449 1029.1L1448 1029.3L1447 1029.5L1446 1029.9L1445 1029.7L1444 1030L1443 1030.6L1442 1030.8L1441 1031.4L1440 1031.3L1439 1031.1L1438 1030.8L1437 1030.4L1436 1030.8L1435 1031.3L1434 1031.7L1433 1032L1432 1032.2L1431 1033L1430 1033L1429 1033.6L1428 1033.4L1427 1033.7L1426 1033.8L1425 1034.4L1424 1034.7L1423 1035.1L1422 1035L1421 1035.1L1420 1035.1L1419 1035.1L1418 1035.2L1417 1034.6L1416 1035L1415 1035.2L1414 1035L1413 1034.9L1412 1035.2L1411 1035.3L1410 1035.1L1409 1035.2L1408 1035L1407 1034.9L1406 1035.4L1405 1035.3L1404 1035.2L1403 1035.2L1402 1035.1L1401 1035.1L1400 1035.5L1399 1035.3L1398 1035.3L1397 1035.2L1396 1035.3L1395 1035.1L1394 1035.3L1393 1035.4L1392 1035.4L1391 1035.5L1390 1035.5L1389 1035.3L1388 1035.2L1387 1035.2L1386 1035L1385 1035.3L1384 1034.8L1383 1035.4L1382 1034.9L1381 1035.5L1380 1035.3L1379 1035.5L1378 1035.4L1377 1035.4L1376 1035.3L1375 1035.3L1374 1035.5L1373 1035.1L1372 1035.1L1371 1035.3L1370 1035L1369 1035.2L1368 1035.4L1367 1035.4L1366 1035.5L1365 1035.2L1364 1035.4L1363 1035L1362 1035L1361 1035.4L1360 1035.5L1359 1035L1358 1035.1L1357 1035.3L1356 1035.2L1355 1035L1354 1035.1L1353 1035.5L1352 1035.4L1351 1035.5L1350 1035.5L1349 1035.5L1348 1035.5L1347 1035.3L1346 1034.7L1345 1034.9L1344 1035.5L1343 1035.4L1342 1034.9L1341 1034.9L1340 1035.2L1339 1035.4L1338 1035.3L1337 1035.5L1336 1035.4L1335 1035.2L1334 1035.3L1333 1035.5L1332 1035.4L1331 1035.5L1330 1035.4L1329 1035.4L1328 1035.2L1327 1035.4L1326 1035.1L1325 1035.2L1324 1035.3L1323 1035.3L1322 1035L1321 1035.5L1320 1035.1L1319 1035.3L1318 1035.4L1317 1035.5L1316 1035.5L1315 1035.1L1314 1035.2L1313 1035.4L1312 1035.5L1311 1035.3L1310 1035L1309 1035L1308 1034.9L1307 1034.7L1306 1035L1305 1035L1304 1035.3L1303 1035.5L1302 1035.3L1301 1035.4L1300 1035.5L1299 1035.5L1298 1035.5L1297 1035.4L1296 1035.1L1295 1034.7L1294 1035L1293 1035.3L1292 1035L1291 1035.2L1290 1035.2L1289 1035.1L1288 1035.2L1287 1035.3L1286 1035.5L1285 1035.5L1284 1035.4L1283 1035.4L1282 1035.4L1281 1035.2L1280 1035.2L1279 1035.4L1278 1035.5L1277 1035.4L1276 1035.3L1275 1035.4L1274 1035.4L1273 1035.4L1272 1035.3L1271 1035L1270 1035.2L1269 1035.1L1268 1035.2L1267 1035.2L1266 1035.3L1265 1035.4L1264 1035.2L1263 1035.2L1262 1035.3L1261 1035.4L1260 1035.1L1259 1035L1258 1035.1L1257 1035.4L1256 1035.3L1255 1035.3L1254 1035.4L1253 1035.1L1252 1035.2L1251 1035.4L1250 1034.9L1249 1034.7L1248 1035.2L1247 1035.3L1246 1035.5L1245 1035.5L1244 1035.5L1243 1035L1242 1035.2L1241 1035.3L1240 1035.2L1239 1035.1L1238 1035.2L1237 1034.9L1236 1035.4L1235 1035.1L1234 1035L1233 1035.5L1232 1035.4L1231 1035.3L1230 1035.4L1229 1035.2L1228 1035.5L1227 1035.5L1226 1035.2L1225 1035.3L1224 1035.2L1223 1035.2L1222 1035.3L1221 1035.3L1220 1035.4L1219 1035.4L1218 1035.3L1217 1035.4L1216 1035.3L1215 1035.5L1214 1035.2L1213 1035.3L1212 1035.5L1211 1035.3L1210 1035L1209 1035L1208 1035.4L1207 1035.5L1206 1035L1205 1035L1204 1035.5L1203 1035.4L1202 1035.1L1201 1035.3L1200 1035.2L1199 1035.4L1198 1035.2L1197 1035.3L1196 1035L1195 1035.3L1194 1035.5L1193 1035.5L1192 1035.5L1191 1035.5L1190 1035.3L1189 1035.3L1188 1035.5L1187 1035.5L1186 1035.5L1185 1035.3L1184 1035.4L1183 1035.5L1182 1035.4L1181 1035.4L1180 1035.2L1179 1035.3L1178 1035.3L1177 1035.4L1176 1035.1L1175 1035L1174 1035.5L1173 1035L1172 1034.9L1171 1035.5L1170 1035.4L1169 1035.5L1168 1035.5L1167 1034.9L1166 1035.1L1165 1035.2L1164 1035.3L1163 1035.5L1162 1035.2L1161 1035.3L1160 1035.3L1159 1035.3L1158 1035.4L1157 1035.5L1156 1034.9L1155 1035.1L1154 1035.3L1153 1034.9L1152 1035.2L1151 1035.4L1150 1035.3L1149 1035.3L1148 1035.5L1147 1035.3L1146 1035.4L1145 1035.3L1144 1035.1L1143 1035.5L1142 1035.4L1141 1035.1L1140 1035.5L1139 1035.2L1138 1034.9L1137 1035L1136 1035.3L1135 1035.5L1134 1035.2L1133 1035.4L1132 1035.4L1131 1035.3L1130 1035.4L1129 1035.4L1128 1035.4L1127 1035.3L1126 1035.2L1125 1035.2L1124 1035.2L1123 1035.3L1122 1035.5L1121 1035.4L1120 1035.4L1119 1035.3L1118 1035.4L1117 1035.5L1116 1035.5L1115 1035.5L1114 1035.5L1113 1035.3L1112 1035.3L1111 1035.4L1110 1035.3L1109 1035.3L1108 1035.1L1107 1035.5L1106 1035.4L1105 1035.5L1104 1034.9L1103 1035.2L1102 1035.3L1101 1035L1100 1035.2L1099 1035.4L1098 1035.4L1097 1035.5L1096 1035.1L1095 1034.9L1094 1035.2L1093 1035.4L1092 1035.2L1091 1035L1090 1035.5L1089 1035.1L1088 1035.4L1087 1035.1L1086 1035.3L1085 1035.4L1084 1035.4L1083 1035.2L1082 1035.4L1081 1035.2L1080 1035.3L1079 1035.2L1078 1035.5L1077 1035.1L1076 1035.3L1075 1035.3L1074 1035.2L1073 1035.3L1072 1035L1071 1035L1070 1035.4L1069 1035.3L1068 1035.3L1067 1035.5L1066 1035.4L1065 1035.4L1064 1035.2L1063 1035L1062 1035.1L1061 1035.4L1060 1035.1L1059 1035.5L1058 1035.1L1057 1035.5L1056 1035.3L1055 1035.2L1054 1035.1L1053 1035.1L1052 1035.3L1051 1035.4L1050 1035.4L1049 1035.4L1048 1035.4L1047 1035.4L1046 1035.3L1045 1035.3L1044 1035.4L1043 1035.3L1042 1035L1041 1035.1L1040 1035.4L1039 1035.2L1038 1035.2L1037 1035.3L1036 1035L1035 1035.4L1034 1035.4L1033 1035.3L1032 1035.3L1031 1035.3L1030 1035L1029 1034.8L1028 1035L1027 1035.4L1026 1035.4L1025 1035L1024 1035.2L1023 1035.2L1022 1035L1021 1035.4L1020 1035.1L1019 1035.1L1018 1035.1L1017 1034.9L1016 1034.9L1015 1035.4L1014 1035.4L1013 1034.9L1012 1035.2L1011 1035.4L1010 1035.4L1009 1035.3L1008 1035.1L1007 1035.3L1006 1035.2L1005 1035.3L1004 1035L1003 1035.4L1002 1035.1L1001 1035.3L1000 1035.3L999 1035.3L998 1034.9L997 1034.9L996 1035L995 1035.1L994 1035.4L993 1035.1L992 1035L991 1035.3L990 1035.2L989 1035.3L988 1035.1L987 1035L986 1035.3L985 1035.2L984 1035.1L983 1035.1L982 1035.2L981 1035.3L980 1035.1L979 1034.9L978 1035L977 1035.3L976 1035.3L975 1035.2L974 1035.4L973 1035.4L972 1034.9L971 1034.9L970 1035.4L969 1035.4L968 1035.4L967 1035.2L966 1035.4L965 1035.1L964 1035.4L963 1035.1L962 1034.7L961 1034.9L960 1035.2L959 1035.4L958 1035.3L957 1035.1L956 1035.1L955 1035.4L954 1035.1L953 1035.5L952 1035.4L951 1035.3L950 1031L949 1029.8L948 1029.1L947 1030.3L946 1030.3L945 1029.2L944 1030.5L943 1030.4L942 1031.2L941 1028.3L940 1028.5L939 1029.4L938 1027.8L937 1030.6L936 1028.7L935 1030L934 1028.2L933 1026.9L932 1030.3L931 1030.2L930 1030.5L929 1029.6L928 1031.1L927 1030L926 1028.1L925 1029.6L924 1029.9L923 1030.3L922 1030.7L921 1030L920 1032L919 1030.5L918 1026.5L917 1029.4L916 1029.9L915 1029.7L914 1029.3L913 1029.8L912 1026.6L911 1026.7L910 1030.1L909 1029.4L908 1030.5L907 1029.5L906 1030.6L905 1030.7L904 1029L903 1030.8L902 1028.2L901 1027.3L900 1029L899 1029.5L898 1029.3L897 1028.3L896 1026.3L895 1029.1L894 1026L893 1028.4L892 1028.4L891 1026.7L890 1028.8L889 1029.5L888 1030.7L887 1028.8L886 1027.5L885 1025.3L884 1026.9L883 1025.4L882 1028.1L881 1027.8L880 1028.4L879 1028.6L878 1027.5L877 1029.3L876 1029.5L875 1027.7L874 1026L873 1028.7L872 1028.5L871 1027.2L870 1028.7L869 1029.4L868 1028.6L867 1025.1L866 1027L865 1027.1L864 1027.9L863 1028.8L862 1029.3L861 1028.1L860 1027.9L859 1026L858 1027.5L857 1028.6L856 1026.6L855 1027.3L854 1027.4L853 1027.6L852 1026.5L851 1026.4L850 1027.7L849 1027.8L848 1027.4L847 1027L846 1025.4L845 1026.8L844 1027.7L843 1026.5L842 1027.4L841 1026.4L840 1025.2L839 1026.6L838 1025.1L837 1026L836 1024.8L835 1025.4L834 1025.5L833 1026.1L832 1024.5L831 1023.7L830 1025.6L829 1024.8L828 1023.9L827 1021.9L826 1020.8L825 1021.4L824 1022.9L823 1022.4L822 1022L821 1021.6L820 1020.9L819 1019.6L818 1018.4L817 1018.5L816 1020L815 1017.8L814 1019.9L813 1020.5L812 1021.7L811 1021.7L810 1021.3L809 1019L808 1019.8L807 1020.6L806 1020.2L805 1020.3L804 1020.7L803 1020.7L802 1016.6L801 1017.1L800 1020.3L799 1019.1L798 1015.9L797 1016.8L796 1013.3L795 1012.8L794 1015.1L793 1014.3L792 1013.2L791 1014.4L790 1014.6L789 1012.6L788 1013.8L787 1013.8L786 1012.8L785 1012L784 1011.8L783 1009.5L782 1011.5L781 1007.7L780 1009.9L779 1009.6L778 1008.8L777 1007.4L776 1008.9L775 1009.5L774 1009.2L773 1010.6L772 1009.3L771 1009.6L770 1006.3L769 1006.6L768 1008.7L767 1009.7L766 1008.5L765 1006.4L764 1006.2L763 1004.1L762 1007.1L761 1006.5L760 1005.8L759 1004.5L758 1004.1L757 1003.3L756 1001L755 998.1L754 997.9L753 993L752 996.6L751 995.5L750 995.4L749 997.2L748 997.1L747 998.5L746 996L745 994.5L744 995.6L743 993.7L742 993.8L741 992.3L740 990.9L739 989.5L738 986L737 981.3L736 976.4L735 975.2L734 977.4L733 975.7L732 976.3L731 977.4L730 975.8L729 976.3L728 978.1L727 976.2L726 977.1L725 974.1L724 969.2L723 965.1L722 960.8L721 960.7L720 957.7L719 958.4L718 958.2L717 961.1L716 961.1L715 960.8L714 959.8L713 959.1L712 956.7L711 953.3L710 953.2L709 949.5L708 937.4L707 932.5L706 924.7L705 920.2L704 922.6L703 919.9L702 914.4L701 910.4L700 906.3L699 901.8L698 897.2L697 897.2L696 888.6L695 885.8L694 874.9L693 867L692 865.9L691 871.1L690 857.2L689 864.1L688 862.1L687 860.5L686 853.3L685 857.6L684 859.7L683 861.2L682 865.3L681 864.4L680 861L679 859.9L678 855.3L677 853.9L676 847.8L675 847.8L674 852.4L673 852.1L672 848L671 849.3L670 855.5L669 851L668 838.7L667 804.8L666 748.6L665 746.1L664 754.1L663 757.5L662 756.8L661 759.6L660 758.1L659 765.2L658 768.3L657 774.5L656 777.7L655 771.8L654 766.4L653 758.1L652 759.5L651 762.6L650 762.8L649 761.9L648 761.6L647 761.5L646 762L645 757.7L644 761.3L643 761.1L642 758.7L641 759.4L640 761.5L639 766.1L638 758.3L637 762.4L636 772L635 794.1L634 788.1L633 794.9L632 796.4L631 799.6L630 800.1L629 801.1L628 813.5L627 820.4L626 820.7L625 818.8L624 817.5L623 814.3L622 812.3L621 811.9L620 808.4L619 801.4L618 799.1L617 795.9L616 799.1L615 802.2L614 803.3L613 802.4L612 806.8L611 805L610 800L609 800.8L608 800.9L607 794.8L606 793.8L605 795.1L604 798.5L603 795.8L602 796.2L601 803.6L600 802.3L599 803.6L598 796.8L597 796.8L596 798.1L595 796.6L594 791.8L593 787.8L592 790.3L591 788.2L590 789.5L589 785L588 784.1L587 783.7L586 784.4L585 785.5L584 790.5L583 799.1L582 797L581 864.3L580 917.6L579 933.9L578 943.2L577 942.4L576 939.4L575 939.1L574 941.7L573 940.7L572 942L571 944.5L570 946.4L569 943.6L568 938.5L567 880.3L566 820.8L565 825.9L564 831.3L563 836.2L562 832.9L561 827.8L560 824.8L559 830.1L558 832.6L557 828.2L556 825.4L555 818.6L554 814.7L553 815.2L552 824.4L551 824.9L550 824.7L549 822.2L548 824.8L547 819.6L546 815.4L545 817.7L544 823.7L543 822.7L542 823.6L541 817.8L540 824.5L539 825.2L538 823.9L537 829.9L536 826.3L535 822.9L534 816.6L533 827.3L532 827.9L531 821.8L530 819.3L529 812.6L528 815.7L527 819.9L526 819.4L525 814.3L524 822.2L523 822.6L522 827L521 826.8L520 827.2L519 830.1L518 814L517 801.3L516 800.6L515 805.9L514 798.7L513 801.3L512 802.1L511 799.9L510 792.4L509 789.4L508 795.9L507 796.8L506 798.6L505 798.7L504 799L503 829.5L502 857L501 861.7L500 865.5L499 866.9L498 859L497 858.5L496 856.8L495 863.5L494 859.7L493 862.8L492 853L491 861.1L490 858.6L489 865.8L488 862.2L487 862.9L486 865.1L485 863.1L484 866.8L483 865.4L482 869.8L481 868.3L480 863.9L479 867.4L478 865.3L477 858.9L476 864.1L475 862.2L474 862.8L473 864.8L472 863.8L471 812.8L470 760.6L469 762.9L468 771L467 775L466 783.8L465 774.5L464 766.5L463 766.9L462 768L461 770.6L460 771.7L459 776.7L458 770.6L457 759.5L456 758.8L455 761L454 766L453 765.8L452 771.2L451 773.5L450 772.1L449 769.7L448 765.6L447 765.6L446 772.3L445 775.5L444 774.3L443 771L442 778.6L441 780.2L440 775.1L439 770.5L438 782.5L437 785.9L436 790.6L435 786.8L434 787.6L433 780.8L432 782.4L431 785.4L430 788.2L429 784.6L428 791.7L427 789.4L426 798.2L425 793.1L424 785.7L423 785.6L422 787.9L421 816L420 840L419 838L418 837.6L417 839L416 840.3L415 839L414 840.6L413 839.1L412 834.8L411 834.4L410 840.3L409 846L408 841.8L407 839L406 839.9L405 840.8L404 847.1L403 842.6L402 840.8L401 829L400 805.5L399 807.8L398 814L397 819.9L396 820.4L395 813.9L394 819.9L393 818L392 815.6L391 811.6L390 811.9L389 823L388 821.8L387 823.9L386 816.5L385 820.2L384 817.7L383 810.7L382 808.3L381 807.2L380 809.4L379 811.3L378 813.1L377 811L376 815.3L375 811.5L374 811.8L373 809.9L372 815.8L371 817.9L370 820.1L369 820.6L368 822L367 820.3L366 819.4L365 820.7L364 820.4L363 832.2L362 828L361 831.5L360 831.7L359 831.5L358 833.9L357 837L356 832L355 827.6L354 827.2L353 823.3L352 822.7L351 815.5L350 814.7L349 811.1L348 819.6L347 815.7L346 813.1L345 809.7L344 810.9L343 816.5L342 819.6L341 820.4L340 811.4L339 806.8L338 805.9L337 808.4L336 811.7L335 818.9L334 807.8L333 802.6L332 806L331 804.9L330 807.9L329 803.7L328 810.2L327 809.5L326 812.8L325 808.7L324 812.4L323 818.1L322 822.7L321 818.6L320 818L319 814.6L318 819.5L317 819.2L316 817.1L315 816.2L314 819.8L313 817.1L312 811.9L311 812.7L310 817L309 813.5L308 819.6L307 815L306 817.3L305 815L304 814.7L303 811.8L302 810.7L301 811.6L300 812.9L299 811L298 812.8L297 812.8L296 815L295 811.3L294 813.3L293 809.4L292 806.7L291 811.2L290 812.6L289 811.4L288 811.1L287 815.5L286 815.2L285 814.8L284 814.5L283 815L282 822L281 824L280 828.8L279 828.4L278 835.5L277 840.4L276 843.5L275 849.9L274 853.8L273 852.1L272 849L271 850.1L270 848.7L269 854.2L268 856.2L267 858.1L266 860L265 863.7L264 860.2L263 863.8L262 868.7L261 870.8L260 877.4L259 881.9L258 886.3L257 887.5L256 889.7L255 889.9L254 888.5L253 890.7L252 889.6L251 890.5L250 893.2L249 893.2L248 895.1L247 895.7L246 896.4L245 896.4L244 898.9L243 899.8L242 898.6L241 899.9L240 904.9L239 908.5L238 910.2L237 911.5L236 912.3L235 913.2L234 913.4L233 913.8L232 913.6L231 916.1L230 922L229 922.6L228 926.5L227 925.3L226 926L225 928.5L224 928L223 927.6L222 931.2L221 932.7L220 933.6L219 935.4L218 938.1L217 937L216 938.2L215 939.1L214 943L213 944L212 948.4L211 949.5L210 951.9L209 952.6L208 957.1L207 957.8L206 959L205 958.8L204 961.2L203 965.1L202 965.3L201 965.9L200 966.7L199 966.2L198 967.1L197 970.8L196 970L195 971.5L194 974.2L193 973.9L192 974.7L191 975.6L190 975.1L189 976.5L188 977.6L187 977.8L186 978.8L185 979.2L184 980.5L183 982.4L182 979.5L181 982.8L180 984L179 988.8L178 987.6L177 986L176 992.4L175 991.2L174 993.5L173 997.6L172 999L171 1001.3L170 1001.9L169 1001.9L168 1005.2L167 1007.6L166 1006.4L165 1007L164 1007.4L163 1009.6L162 1009.5L161 1010.6L160 1009.9L159 1010.7L158 1010.5L157 1012.3L156 1012.1L155 1011.7L154 1010.4L153 1009.7L152 1010.5L151 1006.8L150 1010.1L149 1009.9L148 1011.7L147 1012L146 1012.1L145 1009.5L144 1013.6L143 1015.8L142 1013.3L141 1016.3L140 1016.3L139 1016.6L138 1016.6L137 1016.1L136 1015.4L135 1014.7L134 1015L133 1014.4L132 1012.8L131 1012.1L130 1013.4L129 1008.9L128 1010L127 1014.7L126 1014L125 1016L124 1016.7L123 1019.1L122 1016.1L121 1020.1L120 1017.1L119 1017.3L118 1015.1L117 1015.9Z" fill="#1f77b4"/>
<path d="M117 990h0M117 993h0M117 1021h0M117.5 1016h0M118 990.5h0M118 994.5h0M118 1015h0M119 1017.5h0M119.5 996h0M119.5 1022h0M120 997h0M120 1017h0M120.5 998h0M120.5 1020h0M121.5 1021h0M122 989h0M122.5 998h0M122.5 1016h0M123 1019h0M123 1022.5h0M123.5 999h0M123.5 1001.5h0M124 1016.5h0M125 991h0M125 998h0M125 1016h0M125.5 1022h0M126 986h0M126 995h0M126 1014h0M126.5 1028h0M127 989h0M127 993h0M127 1014.5h0M127.5 1023.5h0M128 989h0M128 1010h0M128 1021.5h0M128.5 988.5h0M129 984.5h0M129 1009h0M129 1022.5h0M129.5 1021.5h0M130 989.5h0M130 1013.5h0M130 1022h0M131 989h0M131 1012h0M132 989.5h0M132 1013h0M132 1023h0M132.5 1022.5h0M133 993.5h0M133 1014.5h0M133 1021.5h0M133.5 992h0M133.5 1024.5h0M134 1015h0M135.5 989.5h0M135.5 1014.5h0M136 1015.5h0M136 1023h0M136.5 990h0M136.5 1016h0M137 991h0M137.5 991h0M137.5 1020.5h0M138 986h0M138.5 989.5h0M138.5 1016.5h0M140 982.5h0M140 1016.5h0M140.5 990h0M140.5 990.5h0M140.5 1025h0M141 1016.5h0M142 992.5h0M142 1013.5h0M142.5 995.5h0M143 1016h0M143.5 1013.5h0M144 986.5h0M144 992.5h0M145 985h0M145 989h0M145 1009.5h0M146 978.5h0M146 1012h0M146 1017h0M147 963h0M147 966h0M147.5 1012h0M148 1011.5h0M148.5 966h0M149 963.5h0M149.5 1010h0M150 959.5h0M150 1010h0M150.5 957h0M151 1007h0M151.5 957h0M152 952.5h0M152.5 1010.5h0M152.5 1017.5h0M153 960h0M153 1009.5h0M153 1015h0M153 1016h0M153 1016.5h0M154 950h0M154 960h0M154 1010.5h0M154.5 957.5h0M154.5 1011.5h0M155 950.5h0M156 1012h0M156.5 955.5h0M156.5 957h0M157 1012.5h0M157.5 1010.5h0M158 954.5h0M159 947.5h0M159 953h0M159 1010.5h0M159 1020.5h0M160 1010h0M160.5 949.5h0M160.5 953.5h0M161 1010.5h0M161 1014.5h0M161.5 1009.5h0M161.5 1014.5h0M162 1015h0M162.5 946.5h0M163 948.5h0M163 1009.5h0M163 1015.5h0M164 949h0M164 952.5h0M164 1007.5h0M165 951.5h0M165 1007h0M165.5 955.5h0M166 956.5h0M166 1006.5h0M166.5 1012h0M167 946h0M167 956h0M167 1007.5h0M168 946.5h0M168 951.5h0M168.5 1005h0M168.5 1009h0M168.5 1014h0M169 949h0M169 1002h0M169.5 940.5h0M170 934.5h0M170 1002h0M171 928.5h0M171 1001.5h0M171.5 1005h0M172 916.5h0M172 920h0M172 999h0M172.5 1000.5h0M173 997.5h0M173.5 913h0M174 905.5h0M174 993.5h0M174.5 1002.5h0M175 892h0M175 991h0M175 1000h0M176 882h0M176 992.5h0M176 996h0M177 878h0M177 986h0M178 873.5h0M178 987.5h0M178 993.5h0M179 869.5h0M179 989h0M179.5 870h0M180 864.5h0M180 984h0M180 990h0M180.5 983h0M181 870.5h0M181 992.5h0M181.5 998.5h0M181.5 1004.5h0M182 863.5h0M182 867.5h0M182 979.5h0M182.5 982.5h0M182.5 986h0M183 859.5h0M184.5 848h0M184.5 979h0M184.5 980.5h0M185 844h0M185.5 847h0M185.5 851h0M186.5 853h0M186.5 978h0M186.5 979h0M187 843.5h0M188 849h0M188 977.5h0M188.5 976.5h0M189 844h0M189 847.5h0M189.5 994.5h0M190 844.5h0M190 852h0M190 975h0M190.5 988h0M191 975.5h0M191.5 855h0M192 857.5h0M192 974.5h0M192 979.5h0M193 856h0M193 974h0M193.5 974h0M194 841h0M194 850.5h0M195 841h0M195 848h0M195 971.5h0M195 977h0M196 841.5h0M196 970h0M196.5 971h0M197 842h0M197.5 840.5h0M197.5 967h0M198 839h0M199 841.5h0M199 966h0M200 834h0M200 844.5h0M200 966.5h0M200 971.5h0M201 844h0M201 849.5h0M201 966h0M202 851h0M202 965.5h0M202 969h0M202 978h0M202.5 845h0M203 965h0M204 839.5h0M204 961h0M205 814h0M205 824h0M205 959h0M205 965.5h0M205.5 797h0M206 799.5h0M206 805.5h0M206 807.5h0M206 959h0M206.5 793h0M206.5 800h0M207 780.5h0M207 782h0M207 804.5h0M207.5 958h0M208 754h0M208 957h0M208.5 762h0M208.5 773h0M208.5 798.5h0M208.5 952.5h0M209 766.5h0M209 775.5h0M209 780.5h0M209.5 713.5h0M209.5 727.5h0M209.5 731h0M209.5 770h0M209.5 771h0M209.5 960.5h0M209.5 974h0M210 770.5h0M210 775.5h0M210 952h0M210 959.5h0M211 949.5h0M211.5 777h0M211.5 779h0M212 767.5h0M212 948.5h0M212.5 944h0M212.5 951.5h0M213.5 758.5h0M213.5 778.5h0M214 778.5h0M214 943h0M215 779h0M215.5 759.5h0M215.5 765h0M215.5 939h0M215.5 951.5h0M215.5 956.5h0M216 744h0M216 754h0M216 938h0M216.5 717h0M216.5 760.5h0M216.5 773h0M217 762h0M217 765.5h0M217 937h0M217.5 722h0M217.5 938h0M218 761.5h0M218 943.5h0M218.5 712.5h0M218.5 744h0M218.5 754h0M218.5 935.5h0M219 730h0M219 747.5h0M219 753.5h0M219 756.5h0M219 944.5h0M219.5 750h0M219.5 753h0M219.5 756h0M219.5 933.5h0M219.5 938.5h0M220 743.5h0M220 749.5h0M220 937.5h0M220.5 706.5h0M220.5 710h0M221 746h0M221 932.5h0M221.5 693.5h0M221.5 721.5h0M221.5 749h0M222 748.5h0M222 936h0M222.5 726h0M222.5 927.5h0M222.5 931h0M223 718.5h0M223 748h0M223 756.5h0M223.5 731h0M223.5 758.5h0M223.5 928h0M224 720h0M224 732.5h0M224 750.5h0M224 753.5h0M224.5 735h0M224.5 750.5h0M224.5 752.5h0M224.5 761.5h0M224.5 928.5h0M225 740.5h0M225 745.5h0M225 754h0M225.5 747h0M225.5 932h0M225.5 944h0M226 765h0M226 926h0M227 740h0M227 760h0M227 925.5h0M228 760h0M228 926.5h0M228.5 928h0M229 735.5h0M229 737.5h0M229 752.5h0M229 922.5h0M229.5 707.5h0M229.5 737h0M229.5 738h0M229.5 746h0M229.5 757h0M229.5 758h0M230 739h0M230 922h0M230.5 744.5h0M231 728h0M231 738.5h0M231 751.5h0M231 916h0M231.5 737.5h0M231.5 744h0M232 717h0M232 739.5h0M232.5 913.5h0M232.5 921.5h0M233 719h0M233 727h0M233.5 644.5h0M233.5 661h0M233.5 675h0M233.5 914h0M234 661h0M234 674.5h0M234 675h0M234 697h0M234 702h0M234.5 690.5h0M234.5 700h0M234.5 913.5h0M235 694h0M235 913h0M235.5 658h0M235.5 699.5h0M236 673h0M236 693.5h0M236 917.5h0M236.5 664h0M236.5 671.5h0M236.5 672.5h0M236.5 912.5h0M237 655.5h0M237 686h0M237 687h0M237 688h0M237 696h0M237 911.5h0M237.5 658h0M237.5 662.5h0M238 687h0M238 691.5h0M238 910h0M238.5 637.5h0M238.5 649h0M238.5 658h0M238.5 663h0M239 667.5h0M239 670h0M239 686.5h0M239 688.5h0M239 690h0M239 908.5h0M239.5 659.5h0M239.5 680h0M239.5 687h0M239.5 689.5h0M240.5 905h0M241 684.5h0M241 691h0M241 900h0M241.5 942h0M242 691.5h0M242 898.5h0M242 915.5h0M242.5 678h0M243 647h0M243 683h0M243 900h0M243.5 679h0M243.5 688.5h0M244 899h0M244.5 690h0M245 675.5h0M245 679.5h0M245 689.5h0M245 896.5h0M245 906h0M245.5 896.5h0M246 901h0M246.5 671h0M246.5 689.5h0M247 685h0M247 691.5h0M247 895.5h0M247.5 680.5h0M247.5 901h0M248 690h0M248 895h0M248.5 902h0M249 682h0M249 689h0M249 893h0M249.5 669h0M249.5 674.5h0M249.5 678.5h0M250 664h0M250 671.5h0M250 893h0M250 898.5h0M251 890.5h0M251.5 636.5h0M251.5 664h0M252 661h0M252 889.5h0M252.5 654.5h0M253 890.5h0M253 897h0M253.5 897h0M254 644h0M254 888.5h0M254.5 649h0M254.5 659h0M254.5 925.5h0M255 649h0M255 890h0M256 889.5h0M256.5 635h0M256.5 645.5h0M256.5 895.5h0M256.5 904h0M257 632.5h0M257 638h0M257 887.5h0M257.5 886.5h0M258 628.5h0M258.5 611.5h0M258.5 623h0M259 882h0M260 621h0M260 877.5h0M260.5 624h0M260.5 624.5h0M260.5 898h0M261 871h0M261.5 876h0M261.5 877h0M262 620h0M262 868.5h0M263 864h0M263 869.5h0M263.5 619h0M264 609h0M264.5 617h0M264.5 618.5h0M264.5 860h0M265 863.5h0M265.5 860h0M265.5 866h0M266 621.5h0M266 860.5h0M267 626.5h0M267 858h0M267.5 856h0M268 628h0M268.5 632h0M269 854h0M269.5 848.5h0M270 637.5h0M271 643h0M271 850h0M271 860.5h0M272 646.5h0M272 849h0M272.5 648h0M273.5 649h0M273.5 852h0M273.5 854h0M273.5 864.5h0M274 644h0M274 877.5h0M275 648h0M275.5 850h0M276 641h0M276 843.5h0M276.5 651h0M276.5 850.5h0M277 641h0M277 650h0M277 840.5h0M277.5 648h0M277.5 860h0M278 835.5h0M278 847.5h0M278.5 646.5h0M278.5 828.5h0M278.5 848h0M279.5 847.5h0M279.5 883.5h0M280 646h0M280 829h0M280.5 840h0M281 641h0M281 824h0M281 841.5h0M281 844.5h0M281.5 635.5h0M281.5 844h0M282 633h0M282 822h0M282 842h0M282 860.5h0M282.5 639h0M282.5 815h0M282.5 847.5h0M283 644h0M283 843h0M283 846.5h0M283 847.5h0M283 848h0M283.5 838.5h0M284 635.5h0M284 640.5h0M284.5 814.5h0M284.5 846.5h0M284.5 854h0M285 634.5h0M285 640.5h0M285 815h0M285.5 641.5h0M285.5 830.5h0M285.5 843h0M286 815h0M286 830h0M286 847.5h0M286.5 642h0M287 631h0M287 815.5h0M287 839h0M287.5 644.5h0M288 630h0M288 811h0M288.5 640.5h0M288.5 811.5h0M289 853h0M289.5 827h0M289.5 832.5h0M290 636.5h0M290 812.5h0M290 827h0M290 828.5h0M290.5 831h0M291 633.5h0M291 811h0M291 854.5h0M292 806.5h0M292.5 629.5h0M292.5 836.5h0M293 625h0M293 809.5h0M293.5 855.5h0M294 613h0M294 617h0M294 813.5h0M294 836h0M294.5 610.5h0M295 614h0M295 811.5h0M295.5 824.5h0M296 815h0M296.5 617h0M296.5 825.5h0M297 615h0M297 813h0M297 835.5h0M297.5 849.5h0M298 609.5h0M298 813h0M298.5 618h0M298.5 824h0M298.5 826.5h0M298.5 836h0M298.5 840.5h0M299 616.5h0M299 811h0M299 839h0M300 828.5h0M300 833.5h0M300.5 616h0M300.5 617h0M300.5 813h0M301 608h0M301 811.5h0M301 829h0M301 835h0M301.5 833h0M301.5 861h0M302 621.5h0M302 810.5h0M302.5 826h0M302.5 833.5h0M303 624.5h0M303 812h0M303 827h0M303.5 623h0M304 617h0M304 822.5h0M304 840.5h0M304.5 814.5h0M304.5 826.5h0M305 815h0M305.5 623h0M306 623.5h0M306 817.5h0M306.5 825.5h0M307 615h0M307 619.5h0M307 815h0M307.5 825.5h0M308 612.5h0M308 616.5h0M308 819.5h0M308.5 828.5h0M308.5 832h0M308.5 864.5h0M309 618.5h0M309 813.5h0M309 833.5h0M309 836.5h0M309 840h0M309.5 817h0M309.5 827.5h0M309.5 839.5h0M310 613.5h0M310 620.5h0M310 821.5h0M310 826h0M310.5 877h0M311 610.5h0M311 618.5h0M311 812.5h0M311.5 812h0M311.5 828h0M311.5 851.5h0M312 611h0M312 829.5h0M312 833.5h0M312 843.5h0M312 847.5h0M312 848.5h0M312.5 620h0M312.5 845h0M313 619.5h0M313 817h0M313 867.5h0M313.5 830h0M314 613h0M314 618h0M314 820h0M315 619h0M315.5 816h0M316 617.5h0M316 839.5h0M316.5 817h0M317 613h0M317 819h0M318 609.5h0M318 819.5h0M318.5 864.5h0M319 611.5h0M319 814.5h0M319 823h0M319 844h0M319.5 828h0M319.5 854h0M320 607h0M320 610.5h0M320 818h0M320.5 826h0M321 610.5h0M321 818.5h0M321.5 823.5h0M321.5 831.5h0M322 613.5h0M322 822.5h0M322 839h0M322.5 616.5h0M322.5 818h0M322.5 831h0M322.5 875.5h0M323 821h0M323 823.5h0M323.5 617.5h0M323.5 840h0M324 812.5h0M324.5 619.5h0M324.5 808.5h0M325.5 813h0M326 609h0M326 618h0M326 840.5h0M326.5 820h0M326.5 835.5h0M326.5 836.5h0M326.5 837.5h0M327 618.5h0M327 809.5h0M328 611h0M328 810h0M328 828h0M328.5 613h0M328.5 616.5h0M328.5 835h0M329 803.5h0M329 845h0M329.5 610h0M330 603.5h0M330 808h0M330 827h0M330.5 610h0M330.5 805h0M330.5 849.5h0M331 821h0M331 839.5h0M331 850.5h0M331.5 822.5h0M332 606h0M332 806h0M332.5 610h0M332.5 611h0M332.5 831h0M332.5 852h0M333 802.5h0M333.5 808h0M333.5 826.5h0M334 618.5h0M334 825h0M334 828.5h0M334 846.5h0M334.5 819h0M334.5 842h0M335 838.5h0M335 851.5h0M335.5 624h0M335.5 811.5h0M335.5 844h0M336 628.5h0M336 860h0M336.5 808.5h0M336.5 824h0M336.5 830.5h0M336.5 867.5h0M336.5 881.5h0M336.5 886h0M337 626h0M337 631h0M337 821.5h0M337 824.5h0M337.5 635.5h0M337.5 823.5h0M337.5 826h0M338 630h0M338 806h0M339 637.5h0M339 807h0M340 637h0M340 811.5h0M340 832h0M340.5 820.5h0M341 631.5h0M341 637h0M341.5 819.5h0M341.5 848h0M342 633h0M342.5 630.5h0M342.5 825h0M343 622h0M343 816.5h0M343.5 626.5h0M343.5 629.5h0M343.5 811h0M343.5 826.5h0M344 849.5h0M344.5 809.5h0M345 630h0M345.5 847.5h0M345.5 851.5h0M346.5 631.5h0M346.5 813h0M347 627h0M347 815.5h0M347 828h0M347.5 819.5h0M347.5 821.5h0M348 626.5h0M348 830.5h0M348 838h0M348.5 846h0M349 811h0M349 838.5h0M349.5 623.5h0M349.5 859h0M349.5 873.5h0M350 621h0M350 814.5h0M350 827h0M350 831h0M350.5 827h0M351 614.5h0M351 822.5h0M351 824h0M351.5 815.5h0M351.5 821.5h0M351.5 822.5h0M351.5 833h0M351.5 873h0M352 609.5h0M352 825.5h0M352 838.5h0M352 850.5h0M352.5 611.5h0M352.5 823h0M352.5 824h0M352.5 825h0M353 603.5h0M353 822.5h0M353 823.5h0M353 830h0M353.5 826h0M353.5 828h0M353.5 863.5h0M354 606.5h0M354 827h0M354.5 820.5h0M355 613h0M355 827.5h0M355.5 820.5h0M355.5 867.5h0M356 609.5h0M356 825h0M356 832h0M356 852.5h0M356.5 603.5h0M356.5 832h0M357 828h0M357 837h0M357 844h0M357 853h0M357.5 820.5h0M357.5 824h0M357.5 826.5h0M358 598h0M358 834h0M358.5 604h0M359 608.5h0M359 831.5h0M359 859.5h0M359.5 828h0M359.5 869.5h0M360 831.5h0M360.5 607.5h0M360.5 839h0M360.5 879.5h0M361 607.5h0M361 831.5h0M361 841.5h0M362 609.5h0M362 835h0M362 843.5h0M362.5 608.5h0M362.5 821h0M362.5 823.5h0M362.5 828h0M362.5 832h0M362.5 836.5h0M363 820.5h0M363 823h0M363 845.5h0M363.5 820.5h0M363.5 826.5h0M364 605h0M364 820.5h0M364 833h0M364 836h0M364 863.5h0M364.5 609h0M364.5 824.5h0M364.5 830h0M364.5 831.5h0M364.5 852h0M364.5 852.5h0M364.5 887h0M365 610.5h0M365 822h0M365 827h0M365 829.5h0M365 834h0M365.5 820.5h0M365.5 832.5h0M366 819.5h0M366 837.5h0M366 874.5h0M366.5 610.5h0M366.5 611.5h0M366.5 825h0M366.5 852h0M367 606h0M367 820.5h0M367 824.5h0M367 829h0M367 830.5h0M367 844.5h0M367.5 609.5h0M367.5 822h0M367.5 829.5h0M367.5 874.5h0M368 830.5h0M368 856.5h0M368.5 608h0M368.5 821h0M368.5 825.5h0M368.5 842h0M368.5 859.5h0M369 820.5h0M369 824.5h0M369 842.5h0M369.5 820h0M369.5 863h0M370 598.5h0M370 608h0M370.5 604.5h0M370.5 818h0M370.5 822h0M370.5 845.5h0M371 841h0M371 844h0M371 844.5h0M371.5 604h0M371.5 816h0M371.5 823.5h0M371.5 831.5h0M371.5 839h0M372.5 832.5h0M373 605.5h0M373 810h0M373 835.5h0M373 842.5h0M373 847h0M373.5 606h0M373.5 812h0M373.5 832h0M373.5 838.5h0M374 828.5h0M374.5 606h0M374.5 839.5h0M374.5 844h0M375 811.5h0M375 825h0M375.5 606.5h0M375.5 827.5h0M375.5 843h0M376 815.5h0M376 834h0M376 849h0M376.5 832.5h0M377 811h0M377 843.5h0M377 859.5h0M377.5 608h0M377.5 832.5h0M377.5 843h0M377.5 849.5h0M378 603h0M378 611h0M378 813h0M378.5 811.5h0M378.5 887h0M378.5 904h0M378.5 921.5h0M379 610.5h0M379.5 809.5h0M379.5 829.5h0M379.5 852h0M380 832.5h0M380 863.5h0M380.5 611.5h0M380.5 822.5h0M380.5 827.5h0M380.5 843.5h0M381 611h0M381 807h0M381 837h0M381.5 808.5h0M382 611h0M382 822h0M382 841.5h0M382.5 858h0M382.5 877.5h0M382.5 891.5h0M382.5 904h0M383 613h0M383 810.5h0M383 837h0M383 838h0M383 840h0M383.5 826h0M384 602h0M384 610.5h0M384 817.5h0M384 823h0M384 824.5h0M384 830.5h0M384.5 834h0M385 607.5h0M385 820h0M385 859h0M385.5 816.5h0M385.5 825.5h0M385.5 834.5h0M386 609h0M386 820.5h0M386 837h0M386 844.5h0M386.5 614h0M386.5 827.5h0M387 606h0M387 824h0M387.5 834.5h0M387.5 855h0M388 611h0M388 822h0M388 858h0M388.5 821h0M389 614h0M389 823h0M389 830h0M389.5 829.5h0M389.5 830.5h0M389.5 833.5h0M389.5 861h0M390 614h0M390 847.5h0M390 855h0M390.5 812h0M390.5 822h0M390.5 861h0M391 614h0M391 811.5h0M391.5 815.5h0M391.5 846h0M392 613.5h0M392.5 861h0M393.5 613.5h0M393.5 818h0M393.5 825.5h0M393.5 836.5h0M394 820h0M394 851h0M394.5 614.5h0M394.5 837.5h0M394.5 840h0M395 605.5h0M395 814h0M395 861h0M395.5 614h0M395.5 865.5h0M395.5 870.5h0M396 612.5h0M396 820.5h0M396.5 614h0M396.5 834h0M397 820h0M397 831h0M398 611h0M398 848h0M398 851h0M398 861.5h0M398.5 814h0M398.5 831h0M398.5 891.5h0M399 614h0M399 808h0M399 825h0M399 825.5h0M399 842.5h0M399.5 829h0M399.5 842.5h0M399.5 890h0M400 610h0M400 805.5h0M400 832.5h0M400 836.5h0M400 847h0M400.5 825h0M400.5 829h0M400.5 851h0M401 608.5h0M402 610.5h0M402 841h0M402.5 842.5h0M403 618.5h0M403 852h0M403 858h0M403 863.5h0M403 866h0M403 891h0M403.5 859h0M403.5 889.5h0M404 847h0M404 860h0M404 867h0M404.5 623.5h0M405 611.5h0M405 841h0M405 875.5h0M405 889.5h0M405.5 620h0M405.5 840h0M406.5 619.5h0M406.5 865h0M407 620.5h0M407 839h0M407.5 866.5h0M407.5 867h0M408 617.5h0M408 842h0M408.5 896.5h0M409 617.5h0M409 853.5h0M409 872.5h0M409 879.5h0M409 909.5h0M409 910.5h0M409 916.5h0M409 922.5h0M409.5 846h0M409.5 855.5h0M409.5 859.5h0M410 840.5h0M410.5 615.5h0M411 604h0M411 613h0M411 834.5h0M411.5 861h0M411.5 863h0M411.5 870h0M412 610.5h0M412.5 835h0M412.5 839h0M412.5 856h0M413 605h0M413 611.5h0M413 859h0M413.5 840.5h0M413.5 852.5h0M413.5 863h0M414 613h0M414 847.5h0M414 848h0M414 850.5h0M414 852h0M415 605.5h0M415 850h0M415.5 609.5h0M415.5 839h0M416 608.5h0M416 840.5h0M416.5 610h0M416.5 859.5h0M417 839h0M417 847.5h0M417.5 849h0M418 603.5h0M418 613.5h0M418 837.5h0M418.5 616h0M419 605.5h0M419 838h0M419 858.5h0M419 866.5h0M420 616h0M420 846h0M420.5 614.5h0M420.5 840h0M421 609.5h0M421 816h0M421 835.5h0M421.5 794h0M422 614h0M422 788h0M422 792h0M422 793h0M422 808h0M422.5 792.5h0M422.5 797.5h0M422.5 811h0M422.5 837.5h0M422.5 839.5h0M423 612.5h0M423 785.5h0M423 798.5h0M423 804.5h0M423 818.5h0M423 846h0M423.5 795.5h0M423.5 815h0M423.5 836h0M424 602.5h0M424 785.5h0M424 826h0M424 852h0M424.5 609h0M424.5 816h0M424.5 875.5h0M425 613.5h0M425 793h0M425 802.5h0M425 864.5h0M425.5 793h0M426 617.5h0M426 798h0M426 816.5h0M426.5 789.5h0M426.5 859h0M427 617.5h0M427 622h0M427.5 791.5h0M427.5 796h0M427.5 798h0M427.5 802h0M428 625h0M428 791.5h0M428 793.5h0M428 794h0M428 801h0M428 803.5h0M428 809.5h0M428 812.5h0M428.5 791h0M428.5 819h0M429 622.5h0M429 784.5h0M429 835.5h0M429.5 625.5h0M429.5 802h0M429.5 803.5h0M430 788h0M430 795h0M430 811h0M430.5 627h0M430.5 798.5h0M430.5 804h0M431 631h0M431 785.5h0M431 810h0M431 816h0M432 630.5h0M432 799h0M432 806h0M432.5 782.5h0M432.5 795h0M433 629h0M433.5 781h0M434 624.5h0M434 787.5h0M434 807h0M434 851h0M435 620.5h0M435 787h0M435 791.5h0M435.5 614.5h0M435.5 806h0M436 790.5h0M436 794h0M436 798.5h0M436.5 799h0M436.5 825h0M437 609h0M437 790.5h0M437 792.5h0M437 799h0M437.5 786h0M437.5 799.5h0M438 608h0M438 782.5h0M439 770.5h0M439 781h0M439 782h0M439 806.5h0M439.5 607.5h0M440 595h0M440 604h0M440 775h0M440 792.5h0M440 795h0M440 797h0M440.5 602.5h0M440.5 780h0M441 596.5h0M441 785h0M441 812h0M441 834.5h0M441.5 776h0M441.5 778.5h0M442 783.5h0M442 796h0M442 808.5h0M442 817.5h0M442.5 603h0M442.5 778.5h0M443 830h0M443 851h0M443.5 601.5h0M443.5 602.5h0M443.5 771h0M443.5 772h0M443.5 784h0M443.5 802h0M443.5 811h0M443.5 815h0M444 774.5h0M444 805.5h0M444.5 776h0M444.5 776.5h0M444.5 782.5h0M444.5 787.5h0M444.5 788.5h0M444.5 790.5h0M445 597.5h0M445 603h0M445 775.5h0M445 790h0M445.5 772.5h0M445.5 792h0M446 772.5h0M446 774.5h0M446 785h0M446 801.5h0M446.5 600.5h0M446.5 601h0M447 812h0M447.5 765.5h0M447.5 806.5h0M447.5 817.5h0M448 604h0M448 765.5h0M448.5 798.5h0M449 769.5h0M449 806.5h0M449.5 603h0M450 593h0M450 772h0M450 774.5h0M451 602.5h0M451 773.5h0M451 777.5h0M451 784h0M451.5 771h0M451.5 774.5h0M451.5 776h0M451.5 799.5h0M451.5 817.5h0M452 604h0M452 778h0M452 796h0M452.5 798h0M453 596.5h0M453 608h0M453 766h0M453 813h0M453.5 777.5h0M453.5 780.5h0M453.5 789h0M453.5 790.5h0M454 609.5h0M454 766h0M454 784h0M454 800.5h0M454 817.5h0M454 843h0M454.5 783.5h0M454.5 798.5h0M454.5 833.5h0M455 609h0M455 761h0M455 776h0M455 778h0M455 782h0M455 784h0M455 838.5h0M455.5 776.5h0M455.5 792h0M455.5 801.5h0M456 615.5h0M456 759h0M456 773h0M456 780h0M456 780.5h0M456 788h0M456.5 623h0M456.5 759.5h0M456.5 779.5h0M456.5 780.5h0M456.5 781.5h0M456.5 791.5h0M456.5 805.5h0M456.5 809.5h0M457 619h0M457 791.5h0M457 819.5h0M457.5 770.5h0M457.5 784h0M457.5 794h0M457.5 820.5h0M457.5 822.5h0M458 621.5h0M458 782h0M458 812h0M458 829.5h0M458.5 615.5h0M458.5 776.5h0M459 606.5h0M459 808.5h0M459.5 782h0M459.5 797h0M460 606h0M460 771.5h0M460 795.5h0M460.5 770.5h0M460.5 791h0M460.5 810h0M461 602.5h0M461 835.5h0M461 838.5h0M462 606.5h0M462 768h0M462 778h0M462 836.5h0M463 606.5h0M463 767h0M463.5 773h0M463.5 795.5h0M464 594h0M464 604.5h0M464 766.5h0M464 774.5h0M464 785h0M464 790.5h0M464.5 602h0M464.5 784h0M464.5 864.5h0M465 774.5h0M465 795h0M465 835h0M465.5 601.5h0M465.5 775h0M465.5 776h0M466 773.5h0M466 774.5h0M466 777h0M466 777.5h0M466 784h0M466.5 775h0M466.5 775.5h0M466.5 777h0M466.5 809h0M467 772.5h0M467.5 603h0M467.5 784.5h0M467.5 826h0M468 596h0M468 602h0M468 771h0M468.5 784.5h0M468.5 787h0M468.5 792.5h0M469 763h0M469 781h0M469 800.5h0M469 813h0M469.5 599.5h0M469.5 789h0M469.5 799.5h0M470 600.5h0M470 760.5h0M471 597h0M471 604.5h0M471 813h0M471 826h0M471 830.5h0M471 837.5h0M471 848h0M472 864h0M472.5 607h0M473 612h0M473 876.5h0M473.5 865h0M474 619.5h0M474 863h0M474 878h0M474.5 872.5h0M474.5 899h0M475 623.5h0M475 862h0M476 618h0M476 622.5h0M476.5 623h0M476.5 864h0M477 859h0M477 874.5h0M477 898h0M477.5 882h0M478 902h0M478.5 621h0M478.5 865.5h0M478.5 890h0M479 615h0M479 867.5h0M479 871.5h0M479 893h0M479.5 620.5h0M479.5 877h0M479.5 905h0M480 620.5h0M480 864h0M480.5 619.5h0M480.5 870h0M481 608h0M481 868.5h0M481 873h0M481.5 606.5h0M481.5 611.5h0M481.5 616h0M482.5 870h0M482.5 899h0M482.5 960.5h0M483 865.5h0M483 879.5h0M483 910h0M483.5 619h0M483.5 870.5h0M483.5 875h0M483.5 897h0M484 623h0M484 867h0M484 870.5h0M484 924.5h0M484 933h0M484.5 887h0M484.5 898h0M485 897h0M485.5 621.5h0M485.5 863h0M485.5 941h0M486 619h0M486 625.5h0M486 865h0M486 869h0M486.5 628.5h0M486.5 869.5h0M487 870h0M487 882h0M487 896.5h0M487.5 627h0M487.5 863h0M487.5 882h0M487.5 882.5h0M488 624h0M488.5 862h0M488.5 890h0M489 627.5h0M489.5 866h0M490 629h0M490 858.5h0M490 881.5h0M490.5 874h0M490.5 878.5h0M491 625.5h0M491 630h0M491 861h0M491 885h0M491 914h0M491 933h0M491.5 853h0M491.5 871h0M491.5 876.5h0M491.5 877h0M492 621h0M492 630.5h0M492.5 631h0M493 628h0M493 863h0M493 942.5h0M493.5 878.5h0M494 633h0M494 859.5h0M494.5 872h0M494.5 906.5h0M495 863.5h0M495.5 637.5h0M495.5 857h0M495.5 870h0M496 641.5h0M496 877.5h0M497 641h0M497 858.5h0M497 876.5h0M497 879.5h0M497.5 859h0M497.5 893h0M498 639h0M498 869h0M498 885h0M498.5 642.5h0M499 634.5h0M499.5 867h0M499.5 878h0M500 865.5h0M500.5 622h0M500.5 861.5h0M500.5 870h0M500.5 874.5h0M501 602.5h0M501 607.5h0M501 876h0M501.5 857h0M501.5 910.5h0M501.5 925.5h0M502 601h0M502.5 848h0M502.5 881h0M502.5 900h0M503 601.5h0M503 829.5h0M503 877h0M503.5 799h0M504 595h0M504 814.5h0M504 829h0M504 840.5h0M504.5 603h0M504.5 604h0M504.5 807h0M504.5 842.5h0M505 811.5h0M505 857.5h0M505.5 798.5h0M505.5 827h0M505.5 853.5h0M505.5 869.5h0M506 595h0M506 599h0M506 798.5h0M506 841.5h0M506 918.5h0M506.5 797h0M506.5 808.5h0M506.5 841.5h0M506.5 857h0M506.5 860.5h0M506.5 875h0M507 598.5h0M507 806h0M507 816h0M507 829.5h0M507 837.5h0M507 846h0M507 848h0M507.5 599.5h0M507.5 805.5h0M507.5 806.5h0M507.5 851h0M507.5 857.5h0M508 796h0M508 807h0M508 812.5h0M508 848h0M508 848.5h0M508 856.5h0M508.5 812.5h0M508.5 838.5h0M508.5 852.5h0M509 600.5h0M509 789.5h0M509.5 823h0M509.5 845h0M510 593.5h0M510 600.5h0M510 792.5h0M510 830h0M510 841.5h0M510 873.5h0M510.5 812h0M510.5 814.5h0M510.5 845.5h0M510.5 849.5h0M510.5 919.5h0M510.5 928.5h0M511 599.5h0M511 800h0M511 831h0M511 914h0M511.5 802h0M511.5 803h0M511.5 816.5h0M511.5 818.5h0M511.5 819.5h0M511.5 831h0M511.5 833h0M511.5 838.5h0M511.5 839h0M511.5 867.5h0M512 599h0M512 818h0M512 822.5h0M512.5 802.5h0M512.5 808h0M512.5 905.5h0M513 600.5h0M513 801.5h0M513 802h0M513 814.5h0M513.5 801h0M513.5 802.5h0M513.5 807h0M513.5 813h0M513.5 890.5h0M514 607h0M514 798.5h0M514 815.5h0M514 819.5h0M514 833.5h0M514 910.5h0M514.5 806h0M514.5 865.5h0M515 607.5h0M515 806h0M515 813.5h0M515 859h0M515.5 608.5h0M515.5 808.5h0M515.5 823.5h0M515.5 824h0M515.5 829h0M515.5 849h0M515.5 859h0M515.5 870h0M515.5 927.5h0M515.5 944.5h0M516 800.5h0M516 817h0M516 821h0M516 842.5h0M516 869.5h0M516.5 801.5h0M516.5 823.5h0M517 605h0M517 823h0M517 834h0M517 841h0M517 901h0M517 909.5h0M517.5 801.5h0M517.5 814h0M517.5 829.5h0M517.5 894h0M517.5 911h0M518 605h0M518 841.5h0M518.5 839h0M518.5 894h0M518.5 902h0M519 606h0M519 609.5h0M519 869h0M519.5 830h0M519.5 838h0M519.5 845h0M519.5 883h0M520 607h0M520 616h0M520 827h0M520 842h0M520.5 832h0M520.5 832.5h0M520.5 833.5h0M520.5 838.5h0M521 827h0M521 838.5h0M521.5 618h0M521.5 830h0M521.5 847h0M521.5 853.5h0M522 620.5h0M522 827h0M522 846.5h0M522 916.5h0M522.5 623h0M522.5 830.5h0M522.5 885.5h0M523 614.5h0M523 822.5h0M523 837h0M523 874h0M523.5 839.5h0M523.5 854h0M523.5 868h0M523.5 876h0M524 622.5h0M524 822h0M524 830h0M524 878h0M524.5 868h0M525 623.5h0M525 814.5h0M525 852h0M525 853.5h0M525 872.5h0M525.5 819.5h0M525.5 832.5h0M525.5 833.5h0M525.5 840h0M525.5 848.5h0M526 617h0M526 627h0M526 834h0M526 927h0M526.5 820h0M527 628.5h0M527 830.5h0M527 874h0M527 910.5h0M527.5 815.5h0M527.5 925.5h0M528 624.5h0M528 844.5h0M528.5 845.5h0M529 622h0M529 842.5h0M529 860h0M529.5 812.5h0M529.5 866.5h0M530 819.5h0M530 865.5h0M530.5 619.5h0M530.5 844.5h0M531 613.5h0M531 618h0M531 822h0M531 832h0M531 843.5h0M531 885.5h0M531 896.5h0M531.5 831.5h0M531.5 838h0M531.5 840h0M531.5 848h0M532 613.5h0M532 828h0M532 834h0M532.5 833h0M533 607h0M533 850h0M533 851h0M533 878.5h0M533.5 610h0M533.5 827.5h0M533.5 839.5h0M534 831h0M534 834.5h0M534 836.5h0M534 883h0M534 886.5h0M534.5 608.5h0M534.5 816.5h0M534.5 823h0M534.5 841.5h0M534.5 864h0M534.5 884.5h0M535 603h0M535 835.5h0M535.5 606.5h0M535.5 609.5h0M535.5 835.5h0M535.5 860.5h0M536 826.5h0M536 837.5h0M536.5 603.5h0M536.5 835h0M536.5 839h0M536.5 845h0M537 599h0M537 830h0M537 834h0M537 844.5h0M537.5 842.5h0M537.5 863h0M538 595.5h0M538 603.5h0M538 824h0M538 847.5h0M539 825h0M539 919.5h0M539.5 603.5h0M539.5 865h0M540 599h0M540 603.5h0M540 824.5h0M540 841.5h0M540 854h0M540.5 847.5h0M540.5 848h0M541 599h0M541 818h0M541 854h0M541 906.5h0M541.5 605h0M541.5 823.5h0M541.5 851.5h0M542 830h0M542 833.5h0M542 837h0M542 837.5h0M542.5 603.5h0M542.5 830.5h0M542.5 831.5h0M542.5 935.5h0M543 599h0M543 605h0M543 822.5h0M543 831.5h0M543 843.5h0M543 861h0M543.5 831h0M543.5 834.5h0M543.5 838h0M543.5 853.5h0M543.5 860.5h0M543.5 875h0M544 609h0M544 823.5h0M544.5 854.5h0M544.5 857h0M544.5 859h0M544.5 873h0M544.5 891.5h0M545 611h0M545.5 817.5h0M545.5 840.5h0M545.5 858h0M545.5 907h0M546 610.5h0M546 815.5h0M546 840.5h0M546.5 831h0M546.5 851.5h0M547 612.5h0M547 819.5h0M547 851h0M547 880.5h0M548 613h0M548 825h0M548 838h0M548 907h0M548.5 822h0M548.5 858.5h0M548.5 888h0M549 604h0M549 613h0M550 602.5h0M550 612.5h0M550 824.5h0M550 830.5h0M550 837.5h0M550 841h0M550 880h0M550.5 841.5h0M550.5 881.5h0M551 609.5h0M551 614.5h0M551 825h0M551 874.5h0M551.5 824.5h0M551.5 916.5h0M551.5 926.5h0M552 610h0M552 621h0M552 922.5h0M552 923h0M552.5 836h0M552.5 881h0M553 623h0M553 815h0M553 845h0M553 860.5h0M553.5 814.5h0M554 834.5h0M554 836.5h0M554 867h0M554 869.5h0M554.5 626.5h0M554.5 843.5h0M554.5 866.5h0M554.5 872.5h0M554.5 895h0M555 631.5h0M555.5 818.5h0M555.5 833h0M555.5 846h0M556 625h0M556 635h0M556 825.5h0M556 856h0M556 906.5h0M556.5 838h0M556.5 907.5h0M556.5 916.5h0M557 631.5h0M557 828h0M557 867.5h0M557 898h0M557.5 832.5h0M557.5 865h0M557.5 889h0M558 631.5h0M558 831h0M558 850h0M558 874h0M558 876h0M558 886.5h0M558.5 830h0M558.5 836.5h0M558.5 880.5h0M558.5 910h0M558.5 929h0M559 626h0M559 631.5h0M559 830.5h0M559 838.5h0M559 879h0M559.5 635h0M559.5 830.5h0M559.5 836.5h0M559.5 837.5h0M559.5 840.5h0M559.5 846h0M559.5 852h0M559.5 853.5h0M559.5 867.5h0M560 628h0M560 825h0M560 839h0M560 850.5h0M560 890h0M560 931h0M560.5 634.5h0M560.5 845.5h0M560.5 925.5h0M561 828h0M561 855.5h0M561 867.5h0M561 875.5h0M561 879.5h0M561 883.5h0M561 884.5h0M562 633h0M562.5 833h0M562.5 850h0M562.5 856.5h0M562.5 903.5h0M563 836h0M563 850h0M563 860h0M563.5 634h0M563.5 905h0M564 633.5h0M564 831.5h0M564 854h0M564 854.5h0M564 857h0M564.5 836.5h0M564.5 879.5h0M564.5 880h0M565 613h0M565 626.5h0M565 637.5h0M565.5 821h0M565.5 826h0M565.5 846.5h0M566 852h0M566 923h0M566.5 639h0M567 880.5h0M567 895.5h0M567.5 898h0M568 616h0M568 938.5h0M568.5 644h0M568.5 943.5h0M569 639h0M569 643h0M569.5 952.5h0M570 644.5h0M570 946.5h0M570 959h0M571 647.5h0M571.5 651.5h0M571.5 659h0M571.5 944.5h0M571.5 951.5h0M571.5 954h0M572 942h0M572 954.5h0M572.5 940.5h0M572.5 950h0M573 665h0M573.5 946.5h0M574 670.5h0M574 941.5h0M574 960.5h0M574 967.5h0M575 657h0M575 663.5h0M575 939h0M575 961.5h0M575.5 945h0M575.5 945.5h0M576 951.5h0M576.5 656.5h0M576.5 939.5h0M577 642h0M577 648.5h0M577 942.5h0M577.5 639.5h0M578 943h0M578 946.5h0M579 633.5h0M579 934h0M580 623h0M580 628h0M580 917.5h0M580.5 876h0M580.5 884h0M581 625h0M581 876.5h0M581 881h0M581.5 807.5h0M581.5 854h0M581.5 855h0M581.5 856h0M581.5 864.5h0M581.5 882.5h0M582 625h0M582 797h0M582 825h0M582 831.5h0M582 905h0M582.5 846.5h0M583 799h0M583 831h0M583 839.5h0M583 865.5h0M583.5 623h0M583.5 821h0M583.5 834.5h0M583.5 843.5h0M583.5 853.5h0M583.5 884h0M584 613.5h0M584 790.5h0M584 802h0M584 804.5h0M584 806.5h0M584 811.5h0M584 815h0M584 829h0M584 834h0M584 835h0M584 840.5h0M584 842.5h0M584.5 804.5h0M584.5 820.5h0M584.5 832h0M584.5 838h0M585 610.5h0M585 785.5h0M585 808.5h0M585 815h0M585 815.5h0M585.5 806.5h0M585.5 808h0M585.5 815.5h0M585.5 817.5h0M585.5 818h0M585.5 819.5h0M586 610h0M586 784.5h0M586 808.5h0M586 829.5h0M586 869h0M586.5 822.5h0M586.5 849h0M586.5 860h0M586.5 868h0M586.5 878.5h0M587 607h0M587 783.5h0M587 806.5h0M587 858h0M587 884.5h0M587.5 871h0M587.5 886.5h0M588 600.5h0M588 610h0M588 784h0M588 806.5h0M588 814h0M588 820h0M588.5 616h0M588.5 785h0M588.5 808.5h0M588.5 852.5h0M589 801.5h0M589 811h0M589 812.5h0M589 814.5h0M589 815.5h0M589 817.5h0M589.5 817h0M589.5 869h0M590 621h0M590 789.5h0M590 807.5h0M590 814h0M590 816h0M590 822h0M590 823h0M590 827h0M590 868h0M590.5 800.5h0M590.5 806h0M590.5 819h0M590.5 821.5h0M590.5 843.5h0M590.5 863.5h0M590.5 937.5h0M590.5 944h0M591 623.5h0M591 788h0M591 815.5h0M591 826h0M591 832h0M591 837h0M591 838h0M591.5 819h0M592 623.5h0M592 790.5h0M592 800.5h0M592 801h0M592 807h0M592 819.5h0M592 835h0M592.5 887.5h0M593 621h0M593 788h0M593 823.5h0M593 828h0M593.5 813h0M593.5 829h0M593.5 831.5h0M593.5 840.5h0M593.5 865.5h0M594 829.5h0M594.5 617.5h0M594.5 792h0M594.5 805h0M594.5 847.5h0M594.5 885h0M595 611h0M595 616h0M595 796.5h0M595 867.5h0M595.5 798h0M595.5 801.5h0M595.5 807h0M595.5 842.5h0M595.5 846.5h0M596 614h0M596 821h0M596 885h0M596.5 801h0M596.5 825h0M596.5 872h0M597 606.5h0M597 614h0M597 797h0M597 802h0M597 815.5h0M597 826h0M597 837h0M597 846.5h0M597 856h0M597.5 805.5h0M597.5 816.5h0M597.5 818h0M597.5 822.5h0M597.5 828h0M597.5 848h0M597.5 865.5h0M598 619h0M598 797h0M598 813.5h0M598 814h0M598 846.5h0M598 847h0M598 852.5h0M598 860.5h0M598 867.5h0M598 899.5h0M598.5 801h0M599 621h0M599 803.5h0M599 867h0M599.5 820.5h0M599.5 844.5h0M599.5 852.5h0M600 623h0M600 802.5h0M600 808h0M600 826.5h0M600 845h0M600 855.5h0M600 873.5h0M600 952h0M600.5 812h0M600.5 862h0M600.5 868.5h0M600.5 903.5h0M600.5 926.5h0M600.5 933h0M600.5 939h0M600.5 946h0M601 613.5h0M601 619.5h0M601 803.5h0M601 815h0M601 822.5h0M601 828.5h0M601 835h0M601 844.5h0M601.5 796h0M601.5 813.5h0M601.5 816h0M602 817.5h0M602 824h0M602 859.5h0M602.5 616h0M602.5 809.5h0M602.5 816h0M602.5 819.5h0M602.5 841.5h0M603 608.5h0M603 796h0M603 816.5h0M603 832h0M603 857.5h0M603.5 612.5h0M604 603.5h0M604 610.5h0M604 798.5h0M604 807h0M604.5 838h0M604.5 888h0M605 606h0M605 795h0M605 800.5h0M605 803.5h0M605 806.5h0M605 809.5h0M605 820.5h0M605 825h0M605.5 829.5h0M605.5 832h0M605.5 833h0M606 596.5h0M606 605.5h0M606 812.5h0M606 823.5h0M606 844h0M606.5 794h0M606.5 802h0M606.5 816h0M606.5 833.5h0M607 610.5h0M607 795h0M607 834h0M607.5 803h0M607.5 813h0M607.5 858.5h0M608 605.5h0M608 801h0M608 804h0M608 920h0M609 595.5h0M609 607h0M609 801h0M609 803.5h0M609 830.5h0M609 920.5h0M609.5 800h0M609.5 806h0M610 604.5h0M610 819.5h0M610 842h0M610 878h0M610.5 802h0M610.5 803.5h0M610.5 834h0M611 607.5h0M611 805h0M611 813.5h0M611.5 815h0M611.5 931.5h0M612 611.5h0M612 807h0M612 809h0M612 809.5h0M612 816h0M612 825.5h0M612 826.5h0M612 836.5h0M612.5 807h0M612.5 812.5h0M612.5 821h0M612.5 829h0M612.5 920.5h0M612.5 934.5h0M612.5 942.5h0M612.5 958.5h0M613 825.5h0M613 830h0M613.5 615h0M613.5 615.5h0M613.5 802.5h0M613.5 882.5h0M614 830h0M614 833h0M614 844h0M614 862h0M614.5 803h0M614.5 803.5h0M614.5 809.5h0M615 613h0M615 802h0M615 864.5h0M615.5 616.5h0M615.5 816h0M615.5 824.5h0M615.5 861.5h0M616 619.5h0M616 799h0M616 865.5h0M616.5 619.5h0M616.5 807.5h0M616.5 810h0M616.5 823.5h0M616.5 861.5h0M617 796h0M617 805.5h0M617 806.5h0M617 812.5h0M617 819h0M617.5 802h0M617.5 819.5h0M618 611.5h0M618 621.5h0M618 799h0M618 812h0M618 812.5h0M618 818h0M618 850h0M618.5 816.5h0M618.5 822.5h0M618.5 823h0M618.5 838.5h0M618.5 905.5h0M619 616.5h0M619 804h0M619 811.5h0M619 822h0M619 825h0M619.5 617h0M619.5 801.5h0M619.5 811.5h0M619.5 823h0M619.5 859.5h0M620 613.5h0M620 808.5h0M620.5 837.5h0M620.5 839h0M620.5 861.5h0M620.5 900h0M621 830.5h0M621 875h0M621 890h0M621 891h0M621 934h0M621 935h0M621 954.5h0M621.5 616.5h0M621.5 617h0M621.5 812h0M621.5 839.5h0M621.5 937h0M622 608h0M622 812.5h0M622 866.5h0M622.5 613h0M622.5 851h0M622.5 854.5h0M622.5 910h0M623 609h0M623 814.5h0M623 841h0M623 852.5h0M623 883.5h0M623.5 612.5h0M623.5 850h0M623.5 851h0M623.5 867.5h0M624 817.5h0M624 830.5h0M624 838.5h0M624 856h0M624 864h0M624 911.5h0M624 944h0M624.5 832.5h0M624.5 838.5h0M624.5 843h0M624.5 852.5h0M624.5 856.5h0M624.5 878.5h0M624.5 888.5h0M624.5 904h0M625 604.5h0M625 819h0M625 822.5h0M625 842h0M625 872.5h0M625 873.5h0M625 879h0M625 888.5h0M625.5 608h0M625.5 819.5h0M625.5 827h0M625.5 828.5h0M625.5 832h0M625.5 833h0M625.5 836h0M625.5 871h0M625.5 872h0M625.5 887.5h0M625.5 895.5h0M625.5 952.5h0M626 820.5h0M626 851.5h0M626.5 605h0M626.5 606h0M626.5 820.5h0M626.5 828h0M626.5 839h0M626.5 901h0M626.5 914h0M627 918.5h0M627 943.5h0M627.5 813.5h0M627.5 900.5h0M627.5 945h0M627.5 970h0M627.5 975h0M628 605h0M628 859.5h0M628 867.5h0M628.5 608.5h0M628.5 867.5h0M628.5 910.5h0M628.5 913.5h0M628.5 914.5h0M628.5 964.5h0M629 606.5h0M629 615.5h0M629 801h0M629 831h0M629 850h0M629.5 819h0M629.5 824h0M629.5 860.5h0M629.5 877h0M630 606.5h0M630 615.5h0M630 804h0M630 814.5h0M630 852h0M630 907.5h0M630.5 799.5h0M630.5 800h0M630.5 801.5h0M630.5 802h0M630.5 823h0M630.5 841h0M630.5 916h0M631 614.5h0M631 824.5h0M631 826h0M631 840.5h0M631 878h0M631 885h0M631.5 614.5h0M631.5 849.5h0M632 796.5h0M632 827h0M632 834h0M632 835.5h0M632 836h0M632 837.5h0M632 854.5h0M632 937h0M632.5 617h0M632.5 806h0M632.5 819h0M632.5 821.5h0M632.5 851.5h0M632.5 868h0M632.5 939.5h0M633 602h0M633 795h0M633 803h0M633 831h0M633 836h0M633 840.5h0M633 863h0M633 870.5h0M633 876h0M633 911.5h0M633.5 865h0M633.5 901h0M634 614.5h0M634 788h0M634 804.5h0M634.5 826h0M634.5 827h0M635 596h0M635 605h0M635 794h0M635 835.5h0M635.5 796.5h0M635.5 797.5h0M635.5 803h0M635.5 815h0M635.5 845.5h0M636 772h0M636 783.5h0M636 791.5h0M636 799h0M636 800.5h0M636 803.5h0M636 811.5h0M636 873h0M636.5 604.5h0M636.5 605h0M636.5 766.5h0M636.5 782.5h0M636.5 789.5h0M636.5 800h0M636.5 862h0M637 762.5h0M637 798.5h0M637 800.5h0M637 828h0M637.5 800h0M637.5 806.5h0M638 605.5h0M638 795h0M638.5 758.5h0M638.5 770h0M639 601.5h0M639 766h0M639.5 761.5h0M639.5 771h0M639.5 810.5h0M639.5 812.5h0M640 596.5h0M640 601h0M640 836.5h0M640.5 600.5h0M640.5 759.5h0M640.5 791h0M641 597h0M641 771.5h0M641 775h0M641 814h0M641.5 602.5h0M641.5 768h0M641.5 774h0M641.5 789.5h0M642 758.5h0M642 770h0M642 776.5h0M642 798h0M642 798.5h0M642 802h0M642 820h0M642.5 603h0M642.5 769h0M642.5 773h0M643 761h0M643 776.5h0M644 595.5h0M644 603h0M644 777h0M644 803.5h0M644.5 761.5h0M645 603.5h0M645.5 757.5h0M646 597.5h0M646 762h0M646.5 605.5h0M646.5 767h0M646.5 788.5h0M646.5 798.5h0M647 607.5h0M647 761.5h0M647 769.5h0M647 779h0M647 816h0M647 830.5h0M648 769.5h0M648 834h0M648 864.5h0M648.5 602h0M648.5 761.5h0M648.5 765h0M648.5 778.5h0M648.5 779h0M648.5 804h0M648.5 807h0M648.5 826h0M649 599h0M649 762h0M649 778.5h0M649 789h0M649 789.5h0M649 794h0M649 814.5h0M649.5 599.5h0M649.5 769.5h0M649.5 778h0M649.5 797.5h0M649.5 867.5h0M650 817.5h0M650 834h0M650 843.5h0M650.5 763h0M650.5 773.5h0M650.5 812.5h0M651 600.5h0M651 762.5h0M651 770h0M651 832.5h0M651.5 768.5h0M652 599h0M652 605h0M652 771.5h0M652 776.5h0M652.5 758h0M652.5 759.5h0M652.5 772h0M652.5 808h0M653 609h0M653 791.5h0M653 810.5h0M653.5 766h0M653.5 782h0M653.5 790.5h0M653.5 791h0M653.5 826.5h0M653.5 837h0M654 606.5h0M654 775.5h0M654 785.5h0M654 795h0M654.5 766.5h0M654.5 772h0M654.5 789h0M655 606.5h0M655 901h0M655.5 773.5h0M655.5 811h0M655.5 840h0M656 607h0M656 772h0M656 777.5h0M656 782h0M656.5 767h0M656.5 769h0M656.5 772h0M657 774h0M657 774.5h0M657 779.5h0M657 808h0M657 890h0M657.5 610h0M657.5 768.5h0M657.5 876.5h0M658 607.5h0M658 790.5h0M658.5 776.5h0M658.5 790.5h0M658.5 792.5h0M659 608h0M659 787h0M659 788.5h0M659 817h0M659 892h0M659.5 765h0M659.5 766h0M659.5 780h0M659.5 795.5h0M660 607.5h0M660 758h0M660 791.5h0M660 792.5h0M660 795.5h0M660.5 759.5h0M660.5 790.5h0M660.5 817h0M660.5 860h0M660.5 864h0M661 598h0M661 787h0M661.5 608h0M661.5 773.5h0M661.5 826h0M662 613h0M662 757h0M662 774.5h0M662.5 609h0M662.5 757.5h0M662.5 765.5h0M662.5 775h0M663 599h0M663 777h0M663 786.5h0M663 814h0M663.5 768.5h0M663.5 779.5h0M664 788.5h0M664.5 605.5h0M664.5 754h0M664.5 802.5h0M665 604.5h0M665 778h0M665.5 746h0M665.5 802.5h0M665.5 811h0M666 608h0M666 748.5h0M666.5 774h0M667 615h0M667 805h0M667 816.5h0M667.5 816h0M668 605.5h0M668 615.5h0M668 838.5h0M669 830.5h0M669 851h0M669.5 612.5h0M669.5 851h0M670 610h0M670 613.5h0M670 818h0M670 855.5h0M670 864h0M670.5 869.5h0M671 619h0M671 849.5h0M672 621.5h0M672 628h0M672 848h0M672 867.5h0M672.5 633.5h0M672.5 852h0M673 630.5h0M673.5 867.5h0M674 631.5h0M674 636h0M674.5 852.5h0M674.5 865h0M675 848h0M675.5 636.5h0M675.5 881.5h0M675.5 906h0M675.5 914.5h0M675.5 916.5h0M675.5 920.5h0M675.5 921.5h0M675.5 927.5h0M675.5 936.5h0M675.5 937h0M676 628.5h0M676 848h0M676.5 632h0M676.5 906h0M676.5 926.5h0M677 623.5h0M677 631.5h0M677 854h0M677 871h0M677.5 855.5h0M677.5 864h0M678 629.5h0M678 862h0M678.5 861.5h0M678.5 863.5h0M678.5 865h0M679 860h0M679 864h0M679.5 626h0M679.5 861h0M679.5 890h0M679.5 931h0M680.5 628h0M680.5 838.5h0M680.5 857h0M681 622h0M681.5 622.5h0M681.5 864.5h0M681.5 880h0M682.5 865.5h0M683 622h0M683 861h0M684 859.5h0M684 867h0M684.5 610.5h0M684.5 616h0M684.5 867h0M684.5 880h0M685 611h0M685 615.5h0M685 862h0M685 863h0M685 866.5h0M685 871.5h0M685 878h0M685.5 857.5h0M685.5 866h0M685.5 873h0M685.5 875.5h0M686 613.5h0M686 621h0M686.5 853.5h0M686.5 863h0M686.5 868.5h0M687 860.5h0M687 871.5h0M687.5 627.5h0M688 638h0M688 862h0M688.5 643.5h0M688.5 866.5h0M688.5 878.5h0M689 640h0M689 864h0M689 883.5h0M689.5 642h0M689.5 890.5h0M689.5 912.5h0M690 636h0M690 857h0M690 862.5h0M690 898h0M690.5 877.5h0M690.5 878h0M690.5 918.5h0M691 645h0M691 871h0M691 918.5h0M691.5 890.5h0M692 643h0M692 866h0M692.5 876h0M693 630h0M693 635h0M693 641.5h0M693 867h0M693 911.5h0M693.5 633.5h0M694 630h0M694 630.5h0M694 634.5h0M694 905.5h0M694 917h0M694.5 638.5h0M694.5 875h0M694.5 886h0M694.5 889h0M695 899.5h0M695 900.5h0M695.5 899h0M696 643.5h0M696.5 888.5h0M696.5 897h0M696.5 901.5h0M696.5 902.5h0M696.5 920.5h0M697 639.5h0M697 648.5h0M697 911.5h0M697.5 900h0M697.5 943.5h0M698 652h0M698 931h0M698.5 897h0M699 902h0M699 909.5h0M699.5 651h0M699.5 655h0M699.5 911.5h0M700 639.5h0M700 653h0M700 906.5h0M700.5 658.5h0M700.5 664.5h0M700.5 910.5h0M701 661.5h0M701.5 914.5h0M702 671.5h0M702.5 669.5h0M703 674h0M703.5 624h0M703.5 677.5h0M703.5 920h0M703.5 923.5h0M704 920.5h0M704 922.5h0M704 928.5h0M704.5 682.5h0M705 687h0M705 920h0M705.5 924.5h0M705.5 926h0M706 685h0M706 691.5h0M706 934h0M706.5 935h0M707 685.5h0M707 695.5h0M707 932.5h0M707 933h0M707 962.5h0M707.5 630h0M707.5 641.5h0M707.5 662h0M707.5 675h0M707.5 695.5h0M707.5 696.5h0M707.5 937.5h0M708 688h0M708 696h0M708 697h0M708 943.5h0M709 703h0M709 704h0M709.5 949.5h0M710 654.5h0M710 693h0M710 711h0M710 953h0M711 682.5h0M711 717h0M711 968.5h0M711.5 953.5h0M712 734h0M712 956.5h0M713 747h0M713 959h0M713.5 960h0M714.5 752.5h0M715 961h0M715.5 757.5h0M715.5 760h0M715.5 961h0M715.5 973h0M716.5 762.5h0M717 961h0M717 966h0M717.5 683.5h0M717.5 708h0M717.5 756h0M717.5 963.5h0M718 762.5h0M718 765.5h0M718 766.5h0M718 958h0M718.5 696.5h0M718.5 714h0M718.5 719h0M718.5 763.5h0M718.5 964h0M719 769h0M719 958.5h0M719 964h0M719.5 748h0M720 767.5h0M720 772h0M720 957.5h0M720.5 737.5h0M720.5 960.5h0M721 771h0M721 778.5h0M722 774h0M722 776.5h0M722 779.5h0M722 783.5h0M722 961h0M723 785h0M723 789.5h0M723.5 965h0M723.5 969h0M724 795h0M724 797.5h0M725 805h0M725 809h0M725 974h0M725.5 786h0M726 821h0M726.5 757h0M726.5 777.5h0M726.5 823.5h0M726.5 977h0M726.5 984h0M727 976h0M727.5 770.5h0M727.5 833h0M727.5 978h0M728 828.5h0M729 830.5h0M729 838h0M729 976.5h0M729.5 807.5h0M730 976h0M730.5 757h0M730.5 841.5h0M731 848h0M731.5 739.5h0M731.5 786h0M731.5 857h0M731.5 977.5h0M732 847.5h0M732.5 976.5h0M733 860h0M733 860.5h0M733 861h0M733.5 975.5h0M734 977.5h0M734 980.5h0M734.5 795h0M734.5 867.5h0M735 865.5h0M735 975h0M735.5 743h0M735.5 750.5h0M735.5 767.5h0M735.5 791h0M735.5 875.5h0M735.5 976.5h0M736 805.5h0M736 819h0M736 882.5h0M737 880.5h0M737 887.5h0M737 981.5h0M737.5 885h0M737.5 891h0M738 883h0M738 986h0M739 830.5h0M739 893h0M739 989.5h0M739.5 994.5h0M739.5 1005.5h0M740 895h0M740 991h0M740 994h0M740.5 897h0M741 992.5h0M741.5 836.5h0M741.5 843h0M741.5 852h0M741.5 858h0M742 900h0M742 994h0M742 997.5h0M743 875.5h0M743 903h0M743 993.5h0M743.5 995.5h0M744 899.5h0M744 906.5h0M745 905h0M745 908h0M745 994.5h0M745.5 996h0M746 893h0M746 903.5h0M746 910h0M746 916.5h0M746 1002h0M746 1002.5h0M746.5 922h0M747.5 998.5h0M748 916h0M748 920.5h0M748 997h0M748.5 932.5h0M748.5 997h0M749.5 942.5h0M749.5 995.5h0M751 936.5h0M751 944h0M751 995.5h0M751.5 940.5h0M751.5 996.5h0M752 921.5h0M752 937h0M752.5 943.5h0M752.5 948h0M752.5 993h0M753.5 954.5h0M754 998h0M755 953.5h0M755 998h0M756 939h0M756 1001h0M756.5 947.5h0M756.5 1003.5h0M757 944.5h0M758 934.5h0M758.5 943.5h0M758.5 944.5h0M758.5 1004h0M759.5 1004.5h0M760 949h0M760 1006h0M761 945h0M761 949.5h0M761 1006.5h0M761.5 1007h0M762 946.5h0M762.5 951.5h0M762.5 1004h0M763.5 954h0M764 956.5h0M764 1006h0M765 959.5h0M765.5 1006.5h0M766 960h0M766 1008.5h0M767 959.5h0M767 1009.5h0M767.5 958.5h0M767.5 1008.5h0M768 952h0M769 954h0M769.5 1006.5h0M770 953h0M770 1006.5h0M771 956.5h0M771.5 1009.5h0M772 958.5h0M772 1009.5h0M772.5 959.5h0M773 1010.5h0M773.5 961h0M774 1009h0M774.5 962.5h0M775 1009.5h0M775.5 1009h0M776 966.5h0M777 969h0M777 1007.5h0M777.5 969h0M778 963.5h0M778 1009h0M778.5 969h0M778.5 1009.5h0M780 968h0M780 1010h0M780.5 972h0M780.5 1007.5h0M781 974h0M781 1016h0M781.5 1015.5h0M782 976.5h0M782.5 1009.5h0M782.5 1011.5h0M783 977h0M784 1012h0M784.5 978.5h0M785 971h0M785 980h0M785.5 1012h0M786 975.5h0M786 980.5h0M786 1013h0M787 980.5h0M787 1014h0M788 976h0M788 980.5h0M788 1014h0M788.5 981.5h0M789 976.5h0M789 1012.5h0M790 1014.5h0M790.5 981h0M790.5 1019.5h0M791 983.5h0M791 1014.5h0M792 979.5h0M792 1013h0M793 977.5h0M793 1014.5h0M793.5 1015h0M794 980.5h0M794.5 1013h0M795 1019h0M795.5 978.5h0M796 978.5h0M796 1013.5h0M797 973.5h0M797 981h0M797 1017h0M798 1016h0M798.5 981.5h0M799 974h0M799 979h0M799.5 1019h0M800.5 979.5h0M800.5 1020.5h0M801 978.5h0M801 1017h0M802 1016.5h0M802.5 980h0M803 975h0M803 981.5h0M803 1020.5h0M804 984h0M804 1020.5h0M805 987.5h0M805.5 1020.5h0M806 987.5h0M806 1020h0M806.5 983.5h0M807 976.5h0M807 1020.5h0M808 977.5h0M808 984.5h0M808 1020h0M808.5 988.5h0M809 1019h0M809.5 1025.5h0M810 987h0M810 1021.5h0M810.5 992.5h0M811 1021.5h0M811.5 992.5h0M812 987h0M812 994h0M812.5 1021.5h0M813 987h0M813 991.5h0M813 1020.5h0M813.5 1024.5h0M814 990h0M814 1020h0M815 987h0M815 1018h0M815.5 1020h0M815.5 1024.5h0M816 976h0M816 981.5h0M816.5 974h0M816.5 1018.5h0M818 965h0M818 1018.5h0M818.5 958.5h0M818.5 963.5h0M818.5 974h0M818.5 1019.5h0M819 970.5h0M819.5 979.5h0M820 976h0M820 1021h0M820.5 1021.5h0M821 990h0M822 997.5h0M822.5 1022h0M823.5 1001.5h0M823.5 1005h0M823.5 1022.5h0M824 1023h0M825 1006h0M825 1021.5h0M825.5 1005.5h0M825.5 1021h0M827 1000h0M827 1005.5h0M827 1022h0M828 1007h0M828 1024h0M829 1004.5h0M829 1025h0M829.5 1025.5h0M830 1003.5h0M831 1005h0M831 1023.5h0M832 1007h0M832 1024.5h0M833 1008.5h0M833 1026h0M833.5 1028.5h0M834 1009.5h0M834 1025.5h0M835 1025.5h0M835.5 1010h0M835.5 1025h0M836 1001h0M836 1013h0M837 1003h0M837 1016.5h0M837 1026h0M838 1013h0M838 1025h0M839.5 1010.5h0M839.5 1026.5h0M840.5 1011.5h0M840.5 1025h0M841 1006.5h0M841 1026.5h0M842 1027.5h0M842.5 1015h0M843 1015h0M843 1026.5h0M843.5 1010h0M844 1001h0M844.5 1027.5h0M845 1011h0M845.5 1009.5h0M845.5 1027h0M845.5 1031.5h0M846 1006h0M846 1025.5h0M846.5 1009.5h0M846.5 1027h0M848 1013h0M848.5 1027.5h0M848.5 1028h0M849.5 1014.5h0M850 1013h0M850 1027.5h0M851 1006.5h0M851 1026.5h0M851.5 1010.5h0M851.5 1026.5h0M852 1011h0M853 1012.5h0M853 1027.5h0M854 1009.5h0M854 1014h0M854 1027.5h0M854.5 1013.5h0M855.5 1027.5h0M856 1026.5h0M856.5 1015.5h0M857 1014.5h0M857 1028.5h0M858 1015h0M858.5 1026h0M858.5 1027.5h0M859 1002h0M859 1011h0M860 999h0M860 1006h0M860 1028h0M861 996h0M861 1028h0M861.5 1006.5h0M862 1006h0M862 1029.5h0M862.5 1011h0M862.5 1032.5h0M863.5 1029h0M864 1004h0M864 1015h0M864.5 1028h0M865 1027h0M865.5 1016.5h0M866 1016.5h0M866 1027h0M867 1009h0M867 1019h0M867 1025h0M867.5 1019.5h0M868 1028.5h0M868.5 1029.5h0M869 1012.5h0M869 1019.5h0M869.5 1019h0M870 1028.5h0M871 1010h0M871 1017.5h0M871 1027h0M871.5 1018.5h0M872 1028.5h0M873 1015.5h0M873 1028.5h0M873.5 1014.5h0M874 1026h0M874.5 1016h0M874.5 1027.5h0M876 1029.5h0M876.5 1019h0M876.5 1019.5h0M877 1009.5h0M877 1029.5h0M878 1020h0M878 1027.5h0M879 1028.5h0M879.5 1019.5h0M879.5 1021.5h0M880 1012.5h0M880 1028.5h0M881 1017.5h0M881 1027h0M881 1028h0M881.5 1024h0M882 1018h0M882 1028h0M882.5 1025.5h0M883.5 1023h0M884.5 1023h0M884.5 1027h0M885 1023h0M885 1025.5h0M886 1023h0M886 1027.5h0M887 1028h0M887 1028.5h0M888 1014h0M888 1028h0M888 1033h0M888.5 1030h0M889 1027h0M889.5 1023.5h0M889.5 1029.5h0M890 1029h0M891 1026h0M891.5 1026.5h0M892 1018.5h0M892 1024h0M892 1028.5h0M893 1027.5h0M893 1028.5h0M894 1025h0M894 1026h0M895 1019.5h0M895.5 1023h0M895.5 1029h0M896 1026.5h0M896.5 1023h0M896.5 1028.5h0M897 1023h0M898 1015h0M898 1029.5h0M898.5 1024.5h0M899 1027.5h0M899 1029.5h0M900 1017.5h0M900 1029h0M900.5 1023h0M901 1015h0M901 1021h0M901 1027.5h0M901.5 1021h0M902 1028h0M903 1021.5h0M903 1031h0M904 1025h0M904 1029h0M904.5 1030.5h0M905 1029h0M906 1030.5h0M906.5 1023h0M906.5 1029.5h0M907 1018h0M907 1023h0M907.5 1030.5h0M908 1013h0M908 1022h0M908.5 1023h0M909 1019.5h0M909.5 1029.5h0M910 1027h0M910 1030h0M910.5 1025h0M911 1026.5h0M912 1024.5h0M912 1026.5h0M912.5 1025h0M913.5 1030h0M914.5 1027.5h0M914.5 1029.5h0M915 1027h0M915 1029.5h0M916 1023h0M916 1026h0M916.5 1026h0M916.5 1029.5h0M916.5 1030h0M917.5 1026h0M917.5 1026.5h0M918 1022h0M919 1017.5h0M919 1026.5h0M919 1030.5h0M920 1022.5h0M920 1029h0M920 1031.5h0M921 1028h0M921.5 1030h0M922 1030h0M923 1030.5h0M923.5 1026h0M923.5 1028.5h0M924 1017.5h0M924.5 1030h0M925 1022h0M925 1029.5h0M925.5 1025.5h0M926 1027.5h0M926.5 1030h0M927 1019.5h0M927.5 1027.5h0M927.5 1031h0M928 1020.5h0M928 1024h0M929 1025h0M929 1029.5h0M929.5 1030.5h0M930 1024h0M930.5 1023h0M931 1014h0M931 1030h0M931.5 1030.5h0M932 1024.5h0M933 1023h0M933.5 1022h0M933.5 1027h0M934.5 1028h0M935 1016h0M935 1030h0M936.5 1010.5h0M936.5 1028.5h0M936.5 1030.5h0M937 1011h0M937.5 1010h0M938.5 1028h0M939 1010.5h0M939 1029.5h0M940 1028.5h0M940.5 1013h0M941 1015h0M941 1028.5h0M942.5 1017h0M942.5 1031h0M943 1019h0M943 1030.5h0M943.5 1030.5h0M944 1023.5h0M945 1024h0M945 1029h0M946 1025.5h0M946 1030.5h0M947 1027h0M947 1030.5h0M948 1029h0M948.5 1027.5h0M948.5 1029h0M949 1030h0M950 1030.5h0M950.5 1031h0M1218.5 1024h0M1218.5 1026h0M1321.5 1027h0M1338.5 1024.5h0M1338.5 1026h0" fill="none" stroke="#1f77b4" stroke-width="5.56" stroke-linecap="round"/>
<path d="M117.2 1001.5L118.2 1011.7L120.2 1012.7L122.7 1015.8L125.4 1012.7L128.4 1011.7L131.5 1007.6L133.5 1004.5L135.6 1008.6L137 1004.5L139.3 1011.7L141.7 1006.6L143.8 1003.5L145.8 1002.5L147.9 997.4L151 990.2L153 997.4L155.5 984.1L158.7 996.3L161.6 975.9L164.3 991.2L167.3 992.3L169.8 978.9L171.4 973.8L174.5 954.4L175.9 963.6L178.6 939L181.7 947.2L184.1 933.9L186.4 949.2L188.8 929.8L191.3 937L193.5 922.6L195 926.7L198.1 908.3L200.1 909.3L202.2 898.1L203.2 884.7L204.6 891.9L206.9 843.8L209.3 876.6L210.8 856.1L212.4 875.5L214.8 846.9L216.9 862.2L219.6 848.9L222.2 815.1L224.7 832.5L227.3 859.1L229.8 814.1L231.8 818.2L234.9 812L237 810L238 767.4L240.4 809.4L243.5 772.5L246.2 780.7L249.2 776.6L250.9 770.4L252.3 775.6L254 753L256 779.7L258.5 719.2L260.5 745.9L262.6 741.8L265.6 721.3L268.1 741.8L270.1 720.3L272.4 755.1L274.4 727.4L276.3 737.7L278.3 726.4L280 739.7L282 731.5L284.1 738.7L286.1 750L288.2 727.4L290.2 747.9L291.8 716.2L293.3 702.9L294.7 679.3L296.8 709L298.4 689.6L301.5 740.8L304.5 702.9L305.6 693.7L307 700.8L308.6 695.7L311.7 733.6L314.2 696.7L315.8 702.9L318.3 681.4L320.3 712.1L322.4 700.8L324.4 726.4L326 697.7L327.7 700.8L329.7 672.2L332.2 702.9L333.2 711.1L335.3 760.2L336.9 754.1L338.3 766.3L340.8 727.4L343 729.5L345.5 744.8L348 719.2L349.6 713.1L351.6 690.6L353.7 658.8L355.7 684.4L357.2 678.3L359.2 707L360.9 711.1L362.9 717.2L364.5 688.5L367 730.5L369.7 699.8L371.1 693.7L372.7 700.8L375.6 668.1L377.6 702.9L379.3 735.6L381.7 688.5L383.8 686.5L385.4 660.3L387.5 717.2L388.9 698.8L391.6 731.5L393.6 743.8L396.1 699.8L398.3 750L400.4 693.7L402.4 758.2L404.9 708L407.3 793L410 721.3L413.3 684.4L415.4 711.1L417 692.6L420.1 721.3L423.5 661.9L426.2 711.1L427.6 705.9L430.3 726.4L433.4 738.7L436.9 705.9L438.5 703.9L440.5 667L442 676.2L444 646.6L446.7 678.3L448.7 656.8L451.6 686.5L454.3 726.4L456.9 707L459.4 727.4L462 625.1L465.1 673.2L468.6 655.8L471.7 721.3L474.7 772.5L476.8 721.3L478.2 739.7L479.9 718.2L481.9 767.4L483.5 738.7L485.6 797.1L488.1 707L490.1 777.6L491.7 743.8L494.2 766.3L496.7 810.4L499.3 724.4L500.8 764.3L503.4 659.9L506.1 629.1L508.5 640.4L510.6 673.2L512.2 623L514.7 720.3L516.3 689.6L518.4 756.1L520.8 788.9L523.3 750L526.6 774.5L528.6 714.1L530.6 748.9L533.1 711.1L536.2 674.2L539.2 720.3L541.3 698.8L543.3 716.2L546.4 756.1L549.1 696.7L551.1 755.1L553.2 723.3L555.6 760.2L556.7 753L559.3 787.8L562.8 725.4L564.8 767.4L567.5 772.5L569.6 820L571.6 846.2L574.1 854L575.1 836L576.5 781.7L578.2 796L581.2 770.4L584.7 662.9L587.4 732.6L589.4 739.7L591.5 712.1L593.5 733.6L596 698.8L598.2 752L601.1 774.5L603.1 720.3L605.8 675.2L608.5 732.6L610.3 680.3L611.9 702.9L614 702.9L617.1 748.9L619.5 698.8L622.8 771.5L625.3 651.7L627.7 714.1L628.9 659.9L631.4 747.9L633.9 733.6L636.5 671.1L638.6 655.8L640.6 656.8L643.3 686.5L645.3 703.9L648.2 635.3L650.4 723.3L652.5 658.8L654.9 727.4L657 716.2L659.7 691.6L662.7 636.3L664.2 660.9L665.8 642.5L667.8 694.7L669.3 678.3L671.9 753L673.4 728.5L675.4 782.7L677.9 732.6L680.5 698.8L682.2 723.3L684.6 686.5L686.7 755.1L688.3 756.1L690.8 796L692.8 738.7L694.9 801.2L697.3 836L699.4 793L699.9 810L702.6 810L705.5 845.8L708.1 810L710.2 840.7L712.8 877.6L714.3 871.4L716.3 883.7L719.4 839.7L722.5 912.4L723.9 910.3L726.1 879.6L728.6 918.5L731.7 887.8L733.3 891.9L734.9 882.7L736.8 912.4L738.8 948.2L740.9 925.7L742.9 954.4L744.4 948.2L747 959.5L751.1 974.8L753.2 968.7L755.8 980L759.3 983L762.4 990.2L765.5 996.3L767.5 997.4L769.6 984.5L771.6 991.2L773.7 987.1L776.7 992.3L780.8 995.3L783.9 997.4L786.6 1002.5L789 998.4L792.1 1003.5L794.7 999.4L797.6 1005.6L801.3 1007.6L803.3 1006.6L805.8 1012.7L809.1 1016.8L811.9 1009.7L814 1015.8L817.7 999.4L820.8 1016.8L823.8 1018.9L825.9 1017.8L828.3 1014.8L831 1019.9L834.1 1020.9L835.7 1018.9L838.2 1024L840.2 1019.9L843.3 1025L845.3 1021.9L847.4 1026L849.4 1020.9L852.5 1027.1L855.6 1025L858.6 1023L859.7 1027.1L861.1 1017.8L863.8 1028.1L866.8 1024L869.9 1027.1L873 1023L876 1026L879.1 1025L882.2 1027.1L885.3 1026L890.4 1029.1L895.5 1027.1L901.6 1027.1L907.8 1026.7L913.9 1029.5L920.1 1029.1L926.2 1028.7L928.7 1026L931.3 1029.5L935.4 1027.1L939.5 1024L942.6 1028.7L946.7 1029.1L950.8 1030.1L954.9 1029.1L960 1030.1L962.6 1029.8L966.3 1028.9L971.7 1028.7L977.1 1030.5L980.7 1031.2L983.4 1030.7L986.1 1027.6L988.9 1030.5L993.4 1031.2L1004.2 1031L1022.3 1031.6L1025.9 1032.1L1031.3 1031.7L1058.4 1031.9L1067.5 1031.4L1076.5 1031.9L1112.6 1032.1L1130.7 1031.9L1161.4 1031.6L1166.8 1032.1L1203 1031.9L1210.2 1031.6L1216 1031.9L1242.1 1031.9L1243.9 1031.4L1245.8 1031.9L1269.2 1031.9L1271.1 1031.4L1272.9 1031.9L1314.4 1031.7L1321.7 1031.2L1332.5 1031.7L1337.9 1031L1343.3 1031.4L1350.6 1030.8L1359.6 1031.4L1368.6 1030.8L1377.7 1031.2L1386.7 1031.2L1391.2 1030.1L1393.9 1030.7L1395.7 1031.9L1399.4 1030.8L1404.8 1030.1L1409.3 1028.9L1413.8 1028.3L1416.5 1029.4L1419.2 1029.4L1422.8 1028.7L1426.5 1028.3L1430.1 1025.2L1432.8 1021.6L1435.1 1020.4L1438.2 1026.1L1440 1026.5L1444.5 1024.3L1448.1 1022.5L1450 1023.4L1451.8 1022.2L1455.4 1019.8L1457.2 1020.7L1459 1020.4L1462.2 1019.8L1464.4 1019.6" fill="none" stroke="#ff7f0e" stroke-width="2.08" stroke-linejoin="round" stroke-linecap="square"/></g>
<path d="M116.50 1054.5v5.3M284.50 1054.5v5.3M452.50 1054.5v5.3M621.50 1054.5v5.3M789.50 1054.5v5.3M957.50 1054.5v5.3M1125.50 1054.5v5.3M1294.50 1054.5v5.3M116.5 641.50h-5.3M116.5 739.50h-5.3M116.5 837.50h-5.3M116.5 935.50h-5.3M116.5 1033.50h-5.3" fill="none" stroke="#000" stroke-width="1.11"/>
<rect x="116.5" y="575.5" width="1346.0" height="479.0" fill="none" stroke="#000" stroke-width="1.11" stroke-linejoin="miter"/>
<text transform="translate(106.1 649.1) scale(1 0.95)" text-anchor="end" font-size="22.22">0.8</text>
<text transform="translate(106.1 747.1) scale(1 0.95)" text-anchor="end" font-size="22.22">0.6</text>
<text transform="translate(106.1 845.1) scale(1 0.95)" text-anchor="end" font-size="22.22">0.4</text>
<text transform="translate(106.1 943.1) scale(1 0.95)" text-anchor="end" font-size="22.22">0.2</text>
<text transform="translate(106.1 1041.1) scale(1 0.95)" text-anchor="end" font-size="22.22">0.0</text>
<rect x="1047.6" y="584.9" width="406.0" height="80.3" rx="3.7" fill="#fff" fill-opacity="0.8" stroke="#ccc" stroke-opacity="0.8" stroke-width="1.11"/>
<circle cx="1073.4" cy="599.6" r="2.78" fill="#1f77b4"/>
<path d="M1053.2 638.9h38.7" stroke="#ff7f0e" stroke-width="2.08" fill="none"/>
<text x="1106.2" y="605.0" font-size="18.5">Raw Data</text>
<text x="1106.2" y="633.0" font-size="18.5">Butterworth Filtered Data</text>
<text x="1106.2" y="653.9" font-size="18.5">(N=6, Tc=3.3333 min, Type: low)</text>
</g>
<text x="784.0" y="30.4" text-anchor="middle" font-size="26.67">5.0 MHz N0000001</text>
<text x="116.3" y="30.4" font-size="26.67">(a)</text>
<text x="116.3" y="567.6" font-size="26.67">(b)</text>
<text transform="translate(61.0 278.5) rotate(-90) scale(1 0.95)" text-anchor="middle" font-size="22.22">Doppler Shift [Hz]</text>
<text transform="translate(55.8 815.0) rotate(-90) scale(1 0.95)" text-anchor="middle" font-size="22.22">Peak Voltage [V]</text>
<text transform="translate(112.8 1078.1) rotate(-30) scale(1 0.95)" text-anchor="end" font-size="22.22">06-11 00</text>
<text transform="translate(280.8 1078.1) rotate(-30) scale(1 0.95)" text-anchor="end" font-size="22.22">06-11 03</text>
<text transform="translate(448.8 1078.1) rotate(-30) scale(1 0.95)" text-anchor="end" font-size="22.22">06-11 06</text>
<text transform="translate(617.8 1078.1) rotate(-30) scale(1 0.95)" text-anchor="end" font-size="22.22">06-11 09</text>
<text transform="translate(785.8 1078.1) rotate(-30) scale(1 0.95)" text-anchor="end" font-size="22.22">06-11 12</text>
<text transform="translate(953.8 1078.1) rotate(-30) scale(1 0.95)" text-anchor="end" font-size="22.22">06-11 15</text>
<text transform="translate(1121.8 1078.1) rotate(-30) scale(1 0.95)" text-anchor="end" font-size="22.22">06-11 18</text>
<text transform="translate(1290.8 1078.1) rotate(-30) scale(1 0.95)" text-anchor="end" font-size="22.22">06-11 21</text>
<text transform="translate(788.7 1157.6) scale(1 0.95)" text-anchor="middle" font-size="22.22">UTC</text>
</svg>
</body>
</html>
